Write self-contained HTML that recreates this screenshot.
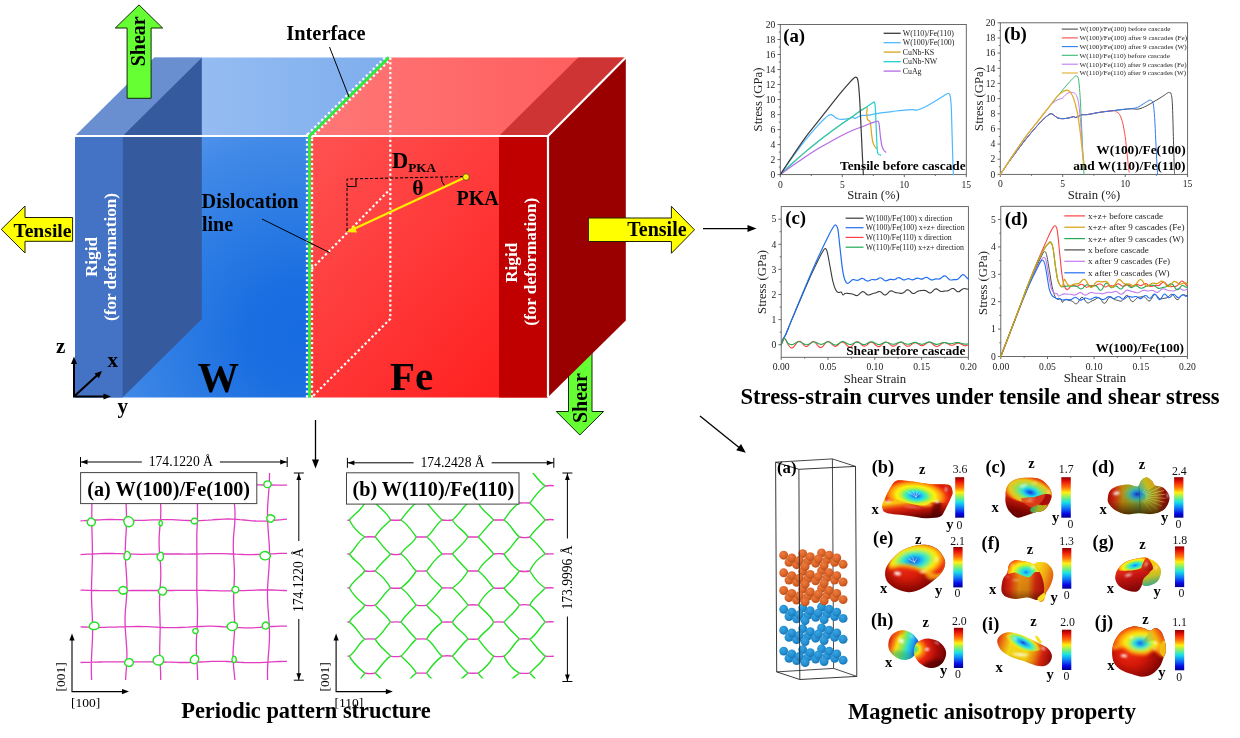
<!DOCTYPE html>
<html><head><meta charset="utf-8"><title>Graphical abstract</title>
<style>
html,body{margin:0;padding:0;background:#fff;}
body{width:1240px;height:738px;overflow:hidden;font-family:"Liberation Serif","Times New Roman",serif;}
svg{display:block;font-family:"Liberation Serif","Times New Roman",serif;}
</style></head><body>
<svg width="1240" height="738" viewBox="0 0 1240 738">
<defs>
<linearGradient id="gTopW" x1="0" y1="0" x2="1" y2="0"><stop offset="0" stop-color="#a4c6f5"/><stop offset="1" stop-color="#7eaeed"/></linearGradient>
<linearGradient id="gTopFe" x1="0" y1="0" x2="1" y2="0"><stop offset="0" stop-color="#ff7777"/><stop offset="1" stop-color="#ff5a5a"/></linearGradient>
<radialGradient id="gFrontW" gradientUnits="userSpaceOnUse" cx="300" cy="335" r="255"><stop offset="0" stop-color="#176be0"/><stop offset="0.22" stop-color="#1c6fe1"/><stop offset="0.5" stop-color="#2e7de4"/><stop offset="0.75" stop-color="#4189e7"/><stop offset="1" stop-color="#5c9bec"/></radialGradient>
<linearGradient id="gFrontFe" x1="0" y1="0" x2="1" y2="1"><stop offset="0" stop-color="#ff5252"/><stop offset="1" stop-color="#ff1a1a"/></linearGradient>


<clipPath id="clipA"><rect x="80.5" y="473" width="206.5" height="207"/></clipPath>
<clipPath id="clipB"><rect x="347.4" y="473" width="206.4" height="205.5"/></clipPath>



<filter id="blurT" x="-20%" y="-20%" width="140%" height="140%"><feGaussianBlur stdDeviation="0.7"/></filter>
<filter id="blurM" x="-20%" y="-20%" width="140%" height="140%"><feGaussianBlur stdDeviation="1.4"/></filter>
<filter id="blurS" x="-50%" y="-50%" width="200%" height="200%"><feGaussianBlur stdDeviation="0.9"/></filter>
<linearGradient id="cbar" x1="0" y1="0" x2="0" y2="1"><stop offset="0" stop-color="#8a0000"/><stop offset="0.1" stop-color="#e81008"/><stop offset="0.25" stop-color="#ff7008"/><stop offset="0.38" stop-color="#fff010"/><stop offset="0.5" stop-color="#80f070"/><stop offset="0.62" stop-color="#18e0e8"/><stop offset="0.75" stop-color="#1080f8"/><stop offset="0.9" stop-color="#0808e8"/><stop offset="1" stop-color="#00008a"/></linearGradient>
<radialGradient id="ato" cx="0.38" cy="0.32" r="0.75"><stop offset="0" stop-color="#ec7c40"/><stop offset="0.55" stop-color="#dc6428"/><stop offset="1" stop-color="#b04c18"/></radialGradient>
<radialGradient id="atb" cx="0.38" cy="0.32" r="0.75"><stop offset="0" stop-color="#3aa4e2"/><stop offset="0.55" stop-color="#2490d2"/><stop offset="1" stop-color="#186eae"/></radialGradient>
<linearGradient id="gb1" gradientUnits="userSpaceOnUse" x1="908.36" y1="501.61" x2="910.53" y2="518.96"><stop offset="0" stop-color="#f8c010"/><stop offset="0.15" stop-color="#f07010"/><stop offset="0.32" stop-color="#e02c10"/><stop offset="0.62" stop-color="#b01008"/><stop offset="1" stop-color="#5a0300"/></linearGradient>
<clipPath id="clipgb2"><path d="M882.89,502.70 C884.24,499.26 888.22,491.19 890.47,487.52 C892.73,483.85 893.46,481.78 896.44,480.69 C899.42,479.61 902.76,480.46 908.36,481.02 C913.96,481.58 923.36,483.42 930.04,484.05 C936.73,484.68 944.71,483.51 948.47,484.81 C952.23,486.11 952.23,489.60 952.59,491.86 C952.95,494.11 951.96,495.20 950.64,498.36 C949.32,501.52 946.48,507.76 944.67,510.83 C942.87,513.90 942.96,515.56 939.80,516.79 C936.64,518.02 930.94,518.38 925.70,518.20 C920.47,518.02 914.86,516.57 908.36,515.70 C901.86,514.84 891.02,514.26 886.68,512.99 C882.34,511.73 882.98,509.83 882.34,508.12 C881.71,506.40 881.53,506.13 882.89,502.70Z"/></clipPath>
<radialGradient id="gb3" gradientUnits="userSpaceOnUse" cx="915.95" cy="495.65" r="34.69" gradientTransform="translate(915.95,495.65) rotate(5) scale(1,0.494) translate(-915.95,-495.65)"><stop offset="0" stop-color="#1428c8"/><stop offset="0.07" stop-color="#1478f0"/><stop offset="0.2" stop-color="#20d0f0"/><stop offset="0.32" stop-color="#50f0a0"/><stop offset="0.44" stop-color="#c8f030"/><stop offset="0.56" stop-color="#fff010"/><stop offset="0.74" stop-color="#ff9a10"/><stop offset="0.9" stop-color="#f03010"/><stop offset="1" stop-color="#d81c0c"/></radialGradient>
<clipPath id="clipgc"><path d="M1005.47,496.19 C1005.69,493.30 1005.56,489.18 1007.10,486.44 C1008.64,483.69 1011.26,481.16 1014.69,479.72 C1018.12,478.27 1023.36,477.82 1027.70,477.76 C1032.03,477.71 1037.09,477.76 1040.70,479.39 C1044.32,481.02 1047.53,484.90 1049.38,487.52 C1051.22,490.14 1051.76,492.58 1051.76,495.11 C1051.76,497.64 1050.68,500.17 1049.38,502.70 C1048.08,505.23 1046.49,508.62 1043.96,510.28 C1041.43,511.95 1037.27,511.77 1034.20,512.67 C1031.13,513.57 1028.42,514.89 1025.53,515.70 C1022.64,516.52 1019.57,518.27 1016.86,517.55 C1014.15,516.82 1011.11,513.66 1009.27,511.37 C1007.43,509.07 1006.43,506.31 1005.80,503.78 C1005.17,501.25 1005.26,499.08 1005.47,496.19Z"/></clipPath>
<linearGradient id="gc1" gradientUnits="userSpaceOnUse" x1="1025.53" y1="490.77" x2="1019.02" y2="517.87"><stop offset="0" stop-color="#f08010"/><stop offset="0.2" stop-color="#e03c10"/><stop offset="0.45" stop-color="#b81408"/><stop offset="0.75" stop-color="#780400"/><stop offset="1" stop-color="#600000"/></linearGradient>
<linearGradient id="gc2" gradientUnits="userSpaceOnUse" x1="1030.95" y1="505.95" x2="1047.21" y2="511.37"><stop offset="0" stop-color="#30a060"/><stop offset="0.5" stop-color="#a8b020"/><stop offset="1" stop-color="#c8a018"/></linearGradient>
<radialGradient id="gc3" gradientUnits="userSpaceOnUse" cx="1029.65" cy="491.42" r="26.56" fx="1030.95" fy="492.40" gradientTransform="translate(1029.65,491.42) rotate(8) scale(1,0.522) translate(-1029.65,-491.42)"><stop offset="0" stop-color="#1428c8"/><stop offset="0.12" stop-color="#1478f0"/><stop offset="0.26" stop-color="#20d0f0"/><stop offset="0.42" stop-color="#60e890"/><stop offset="0.6" stop-color="#b8d838"/><stop offset="0.78" stop-color="#e8c820"/><stop offset="0.92" stop-color="#f08010"/><stop offset="1" stop-color="#e84010"/></radialGradient>
<linearGradient id="gd1" gradientUnits="userSpaceOnUse" x1="1107.76" y1="496.19" x2="1169.55" y2="498.36"><stop offset="0" stop-color="#a80c08"/><stop offset="0.1" stop-color="#d02810"/><stop offset="0.24" stop-color="#c08c10"/><stop offset="0.38" stop-color="#98a020"/><stop offset="0.5" stop-color="#70a040"/><stop offset="0.62" stop-color="#a0a820"/><stop offset="0.78" stop-color="#a88818"/><stop offset="0.9" stop-color="#9c1008"/><stop offset="1" stop-color="#700404"/></linearGradient>
<clipPath id="clipgd2"><path d="M1107.76,498.36 C1107.94,496.19 1108.31,492.81 1109.93,490.77 C1111.56,488.73 1114.45,487.16 1117.52,486.11 C1120.59,485.06 1125.02,484.43 1128.36,484.49 C1131.70,484.54 1135.41,487.16 1137.57,486.44 C1139.74,485.71 1139.83,481.68 1141.37,480.15 C1142.90,478.61 1144.98,477.08 1146.79,477.22 C1148.60,477.37 1150.85,479.70 1152.21,481.02 C1153.56,482.34 1153.11,484.05 1154.92,485.14 C1156.73,486.22 1160.70,485.86 1163.05,487.52 C1165.40,489.18 1168.11,492.58 1169.01,495.11 C1169.91,497.64 1169.46,500.17 1168.47,502.70 C1167.48,505.23 1165.76,508.39 1163.05,510.28 C1160.34,512.18 1156.18,513.57 1152.21,514.08 C1148.23,514.58 1143.54,513.28 1139.20,513.32 C1134.86,513.36 1130.17,514.80 1126.19,514.30 C1122.22,513.79 1118.24,512.04 1115.35,510.28 C1112.46,508.53 1110.11,505.77 1108.85,503.78 C1107.58,501.79 1107.58,500.53 1107.76,498.36Z"/></clipPath>
<radialGradient id="gd3" gradientUnits="userSpaceOnUse" cx="1137.03" cy="494.24" r="16.26" gradientTransform="translate(1137.03,494.24) rotate(0) scale(1,0.700) translate(-1137.03,-494.24)"><stop offset="0" stop-color="#1030d0"/><stop offset="0.25" stop-color="#2088e0" stop-opacity="0.95"/><stop offset="0.5" stop-color="#30c0c0" stop-opacity="0.75"/><stop offset="0.75" stop-color="#70c070" stop-opacity="0.4"/><stop offset="1" stop-color="#90b040" stop-opacity="0"/></radialGradient>
<linearGradient id="gd4" gradientUnits="userSpaceOnUse" x1="1139.20" y1="487.52" x2="1152.21" y2="479.93"><stop offset="0" stop-color="#50b0a0"/><stop offset="0.5" stop-color="#c8c020"/><stop offset="1" stop-color="#e0a018"/></linearGradient>
<linearGradient id="gd5" gradientUnits="userSpaceOnUse" x1="1128.36" y1="490.77" x2="1128.36" y2="514.62"><stop offset="0" stop-color="#402000" stop-opacity="0"/><stop offset="0.45" stop-color="#402000" stop-opacity="0.12"/><stop offset="1" stop-color="#301000" stop-opacity="0.8"/></linearGradient>
<radialGradient id="ge1" gradientUnits="userSpaceOnUse" cx="908.36" cy="568.11" r="36.86" fx="904.02" fy="563.77" gradientTransform="translate(908.36,568.11) rotate(0) scale(1,0.794) translate(-908.36,-568.11)"><stop offset="0" stop-color="#f03018"/><stop offset="0.4" stop-color="#d81c0a"/><stop offset="0.75" stop-color="#900802"/><stop offset="1" stop-color="#5a0000"/></radialGradient>
<clipPath id="clipge2"><path d="M885.05,573.53 C885.14,570.46 885.69,567.48 888.31,563.77 C890.93,560.07 896.53,554.29 900.77,551.31 C905.02,548.33 909.63,546.97 913.78,545.89 C917.94,544.80 921.91,544.35 925.70,544.80 C929.50,545.25 933.56,546.52 936.54,548.60 C939.53,550.67 942.18,554.56 943.59,557.27 C945.00,559.98 945.45,562.15 945.00,564.86 C944.55,567.57 943.37,570.46 940.88,573.53 C938.39,576.60 933.65,580.57 930.04,583.28 C926.43,585.99 922.81,588.31 919.20,589.79 C915.59,591.27 912.15,592.35 908.36,592.17 C904.57,591.99 899.87,590.37 896.44,588.70 C893.00,587.04 889.66,584.73 887.76,582.20 C885.87,579.67 884.96,576.60 885.05,573.53Z"/></clipPath>
<radialGradient id="ge3" gradientUnits="userSpaceOnUse" cx="914.32" cy="560.52" r="33.60" gradientTransform="translate(914.32,560.52) rotate(-8) scale(1,0.555) translate(-914.32,-560.52)"><stop offset="0" stop-color="#1428c8"/><stop offset="0.12" stop-color="#1478f0"/><stop offset="0.28" stop-color="#20d0f0"/><stop offset="0.42" stop-color="#50f0a0"/><stop offset="0.55" stop-color="#c8f030"/><stop offset="0.66" stop-color="#fff010"/><stop offset="0.8" stop-color="#ff9a10"/><stop offset="0.93" stop-color="#f03010"/><stop offset="1" stop-color="#e02010"/></radialGradient>
<linearGradient id="gf1" gradientUnits="userSpaceOnUse" x1="1036.37" y1="571.36" x2="1053.71" y2="576.78"><stop offset="0" stop-color="#f8d818"/><stop offset="0.5" stop-color="#f0a810"/><stop offset="1" stop-color="#e05810"/></linearGradient>
<linearGradient id="gf2" gradientUnits="userSpaceOnUse" x1="1001.68" y1="582.20" x2="1043.96" y2="584.37"><stop offset="0" stop-color="#a80a06"/><stop offset="0.18" stop-color="#dc2810"/><stop offset="0.42" stop-color="#e89010"/><stop offset="0.62" stop-color="#e08810"/><stop offset="0.8" stop-color="#d02810"/><stop offset="1" stop-color="#b01008"/></linearGradient>
<clipPath id="clipgf3"><path d="M1001.46,587.08 C1001.63,584.82 1002.01,581.39 1002.98,578.95 C1003.96,576.51 1006.31,574.79 1007.32,572.44 C1008.33,570.10 1007.82,566.88 1009.05,564.86 C1010.28,562.83 1011.94,560.85 1014.69,560.30 C1017.43,559.76 1022.28,560.85 1025.53,561.60 C1028.78,562.36 1031.94,563.23 1034.20,564.86 C1036.46,566.48 1037.67,569.01 1039.08,571.36 C1040.49,573.71 1041.81,576.06 1042.66,578.95 C1043.50,581.84 1044.28,585.63 1044.17,588.70 C1044.07,591.78 1043.31,595.50 1042.01,597.38 C1040.70,599.26 1038.75,599.94 1036.37,599.98 C1033.98,600.01 1031.13,597.76 1027.70,597.59 C1024.26,597.43 1019.39,599.13 1015.77,599.00 C1012.16,598.88 1008.31,597.92 1006.02,596.83 C1003.72,595.75 1002.76,594.12 1002.01,592.50 C1001.25,590.87 1001.30,589.34 1001.46,587.08Z"/></clipPath>
<linearGradient id="gf4" gradientUnits="userSpaceOnUse" x1="1023.36" y1="574.61" x2="1023.36" y2="599.54"><stop offset="0" stop-color="#401000" stop-opacity="0"/><stop offset="0.6" stop-color="#401000" stop-opacity="0.1"/><stop offset="1" stop-color="#300800" stop-opacity="0.55"/></linearGradient>
<radialGradient id="gf5" gradientUnits="userSpaceOnUse" cx="1026.07" cy="572.23" r="20.05" gradientTransform="translate(1026.07,572.23) rotate(0) scale(1,0.676) translate(-1026.07,-572.23)"><stop offset="0" stop-color="#1478f0"/><stop offset="0.15" stop-color="#20d0f0"/><stop offset="0.35" stop-color="#50f0a0"/><stop offset="0.52" stop-color="#c8f030"/><stop offset="0.68" stop-color="#fff010"/><stop offset="0.85" stop-color="#ffa010"/><stop offset="1" stop-color="#f06010"/></radialGradient>
<linearGradient id="gg1" gradientUnits="userSpaceOnUse" x1="1145.70" y1="560.52" x2="1152.21" y2="585.45"><stop offset="0" stop-color="#f8d810"/><stop offset="0.4" stop-color="#f0c010"/><stop offset="0.65" stop-color="#c0c028"/><stop offset="0.85" stop-color="#70b060"/><stop offset="1" stop-color="#40a890"/></linearGradient>
<linearGradient id="gg2" gradientUnits="userSpaceOnUse" x1="1126.19" y1="567.02" x2="1131.61" y2="591.96"><stop offset="0" stop-color="#e8341a"/><stop offset="0.4" stop-color="#c41410"/><stop offset="1" stop-color="#7a0505"/></linearGradient>
<clipPath id="clipgg3"><path d="M1115.35,575.70 C1115.71,573.62 1116.44,570.91 1118.06,568.65 C1119.69,566.39 1122.13,563.81 1125.11,562.15 C1128.09,560.48 1132.52,559.40 1135.95,558.68 C1139.38,557.95 1143.36,557.32 1145.70,557.81 C1148.05,558.30 1148.96,559.89 1150.04,561.60 C1151.12,563.32 1152.39,566.12 1152.21,568.11 C1152.03,570.10 1150.40,571.72 1148.96,573.53 C1147.51,575.34 1144.80,576.78 1143.54,578.95 C1142.27,581.12 1142.45,584.46 1141.37,586.54 C1140.28,588.61 1139.20,590.69 1137.03,591.41 C1134.86,592.14 1131.25,591.69 1128.36,590.87 C1125.47,590.06 1121.77,588.16 1119.69,586.54 C1117.61,584.91 1116.62,582.92 1115.89,581.12 C1115.17,579.31 1114.99,577.77 1115.35,575.70Z"/></clipPath>
<radialGradient id="gg4" gradientUnits="userSpaceOnUse" cx="1135.08" cy="565.40" r="18.43" gradientTransform="translate(1135.08,565.40) rotate(-12) scale(1,0.424) translate(-1135.08,-565.40)"><stop offset="0" stop-color="#1478f0"/><stop offset="0.18" stop-color="#20d0f0"/><stop offset="0.38" stop-color="#50f0a0"/><stop offset="0.55" stop-color="#c8f030"/><stop offset="0.7" stop-color="#fff010"/><stop offset="0.86" stop-color="#ffa010"/><stop offset="1" stop-color="#f04010"/></radialGradient>
<linearGradient id="gg5" gradientUnits="userSpaceOnUse" x1="1143.54" y1="560.52" x2="1152.21" y2="569.19"><stop offset="0" stop-color="#f04018"/><stop offset="1" stop-color="#a00c08"/></linearGradient>
<linearGradient id="gh1" gradientUnits="userSpaceOnUse" x1="889.39" y1="639.44" x2="918.12" y2="648.11"><stop offset="0" stop-color="#e01c0c"/><stop offset="0.12" stop-color="#f06010"/><stop offset="0.3" stop-color="#f8e018"/><stop offset="0.48" stop-color="#90e850"/><stop offset="0.64" stop-color="#30e0d0"/><stop offset="0.8" stop-color="#20a0f0"/><stop offset="0.97" stop-color="#1838d0"/></linearGradient>
<clipPath id="clipgh2"><path d="M888.31,644.86 C888.40,642.42 888.94,638.98 890.47,636.73 C892.01,634.47 895.08,632.34 897.52,631.31 C899.96,630.28 902.58,630.10 905.11,630.55 C907.64,631.00 910.53,632.35 912.70,634.02 C914.86,635.68 917.03,638.53 918.12,640.52 C919.20,642.51 919.56,643.77 919.20,645.94 C918.84,648.11 917.39,651.45 915.95,653.53 C914.50,655.61 912.70,657.36 910.53,658.41 C908.36,659.45 905.47,660.09 902.94,659.82 C900.41,659.54 897.52,658.19 895.35,656.78 C893.18,655.37 891.11,653.35 889.93,651.36 C888.76,649.37 888.22,647.30 888.31,644.86Z"/></clipPath>
<radialGradient id="gh3" gradientUnits="userSpaceOnUse" cx="913.78" cy="649.19" r="35.77" gradientTransform="translate(913.78,649.19) rotate(0) scale(1,0.909) translate(-913.78,-649.19)"><stop offset="0" stop-color="#30d8d0"/><stop offset="0.08" stop-color="#70e060"/><stop offset="0.17" stop-color="#f0e818"/><stop offset="0.27" stop-color="#f88010"/><stop offset="0.4" stop-color="#e82410"/><stop offset="0.62" stop-color="#b00c08"/><stop offset="1" stop-color="#5a0000"/></radialGradient>
<clipPath id="clipgh4"><path d="M913.78,651.36 C913.78,648.92 914.50,645.76 915.95,643.77 C917.39,641.79 920.10,640.29 922.45,639.44 C924.80,638.59 927.33,638.32 930.04,638.68 C932.75,639.04 936.27,640.03 938.71,641.60 C941.15,643.18 943.45,645.94 944.67,648.11 C945.90,650.28 946.36,652.26 946.08,654.61 C945.81,656.96 944.64,660.12 943.05,662.20 C941.46,664.28 938.89,666.14 936.54,667.08 C934.20,668.02 931.49,668.29 928.96,667.84 C926.43,667.39 923.54,665.94 921.37,664.37 C919.20,662.80 917.21,660.57 915.95,658.41 C914.68,656.24 913.78,653.80 913.78,651.36Z"/></clipPath>
<linearGradient id="gi1" gradientUnits="userSpaceOnUse" x1="997.22" y1="640.52" x2="1051.96" y2="658.95"><stop offset="0" stop-color="#e43410"/><stop offset="0.1" stop-color="#f08010"/><stop offset="0.24" stop-color="#f8e018"/><stop offset="0.55" stop-color="#f8dc10"/><stop offset="0.68" stop-color="#f09010"/><stop offset="0.82" stop-color="#d82010"/><stop offset="1" stop-color="#8a0606"/></linearGradient>
<clipPath id="clipgi2"><path d="M997.22,641.60 C997.04,639.17 998.22,637.20 999.93,635.64 C1001.65,634.09 1004.45,632.55 1007.52,632.28 C1010.59,632.01 1014.39,632.82 1018.36,634.02 C1022.34,635.21 1027.57,637.72 1031.37,639.44 C1035.16,641.15 1038.23,642.69 1041.12,644.31 C1044.02,645.94 1046.91,647.30 1048.71,649.19 C1050.52,651.09 1051.78,653.53 1051.96,655.70 C1052.15,657.86 1051.06,660.48 1049.80,662.20 C1048.53,663.92 1046.73,665.45 1044.38,665.99 C1042.03,666.54 1039.14,666.27 1035.70,665.45 C1032.27,664.64 1027.94,662.56 1023.78,661.12 C1019.63,659.67 1014.57,658.59 1010.77,656.78 C1006.98,654.97 1003.27,652.81 1001.02,650.28 C998.76,647.75 997.40,644.04 997.22,641.60Z"/></clipPath>
<linearGradient id="gi3" gradientUnits="userSpaceOnUse" x1="1027.03" y1="643.77" x2="1020.53" y2="664.37"><stop offset="0" stop-color="#401000" stop-opacity="0"/><stop offset="0.7" stop-color="#a05000" stop-opacity="0.1"/><stop offset="1" stop-color="#803000" stop-opacity="0.45"/></linearGradient>
<radialGradient id="gi4" gradientUnits="userSpaceOnUse" cx="1023.24" cy="642.91" r="20.05" gradientTransform="translate(1023.24,642.91) rotate(14) scale(1,0.378) translate(-1023.24,-642.91)"><stop offset="0" stop-color="#1838d0"/><stop offset="0.2" stop-color="#20a0f0"/><stop offset="0.45" stop-color="#30e8e0"/><stop offset="0.68" stop-color="#a0f060" stop-opacity="0.9"/><stop offset="0.85" stop-color="#f0f020" stop-opacity="0.6"/><stop offset="1" stop-color="#f8e018" stop-opacity="0"/></radialGradient>
<radialGradient id="gj1" gradientUnits="userSpaceOnUse" cx="1133.78" cy="654.61" r="35.77" fx="1128.36" fy="651.36" gradientTransform="translate(1133.78,654.61) rotate(0) scale(1,0.879) translate(-1133.78,-654.61)"><stop offset="0" stop-color="#f02c14"/><stop offset="0.4" stop-color="#d41808"/><stop offset="0.75" stop-color="#900804"/><stop offset="1" stop-color="#5a0000"/></radialGradient>
<clipPath id="clipgj2"><path d="M1112.10,651.36 C1112.28,647.75 1113.18,643.86 1114.81,640.52 C1116.44,637.18 1118.88,633.65 1121.86,631.31 C1124.84,628.96 1129.08,626.97 1132.70,626.43 C1136.31,625.89 1140.65,627.33 1143.54,628.05 C1146.43,628.78 1148.05,630.76 1150.04,630.76 C1152.03,630.76 1153.65,627.96 1155.46,628.05 C1157.27,628.14 1159.35,629.23 1160.88,631.31 C1162.42,633.38 1163.86,637.18 1164.67,640.52 C1165.49,643.86 1166.03,648.29 1165.76,651.36 C1165.49,654.43 1164.04,656.42 1163.05,658.95 C1162.06,661.48 1161.60,664.01 1159.80,666.54 C1157.99,669.07 1155.10,672.41 1152.21,674.12 C1149.32,675.84 1145.89,676.83 1142.45,676.83 C1139.02,676.83 1135.23,675.30 1131.61,674.12 C1128.00,672.95 1123.75,671.78 1120.77,669.79 C1117.79,667.80 1115.17,665.27 1113.73,662.20 C1112.28,659.13 1111.92,654.97 1112.10,651.36Z"/></clipPath>
<radialGradient id="gj3" gradientUnits="userSpaceOnUse" cx="1140.28" cy="643.23" r="29.81" gradientTransform="translate(1140.28,643.23) rotate(0) scale(1,0.636) translate(-1140.28,-643.23)"><stop offset="0" stop-color="#1428c8"/><stop offset="0.08" stop-color="#1478f0"/><stop offset="0.18" stop-color="#20d0f0"/><stop offset="0.28" stop-color="#50f0a0"/><stop offset="0.38" stop-color="#c8f030"/><stop offset="0.5" stop-color="#fff010"/><stop offset="0.7" stop-color="#ffa010"/><stop offset="0.9" stop-color="#f03810"/><stop offset="1" stop-color="#e02010"/></radialGradient>
<linearGradient id="gj4" gradientUnits="userSpaceOnUse" x1="1143.54" y1="642.69" x2="1163.05" y2="632.93"><stop offset="0" stop-color="#40b0a0"/><stop offset="0.3" stop-color="#b0d040"/><stop offset="0.6" stop-color="#f8b010"/><stop offset="1" stop-color="#e83010"/></linearGradient></defs>
<rect width="1240" height="738" fill="#fff"/>
<polygon points="568.5,345 592,345 592,411.5 603.5,411.5 579.8,435 556.3,411.5 568.5,411.5" fill="#66ff33" stroke="#102a06" stroke-width="1"/>
<text transform="translate(586.5,398) rotate(-90)" font-size="20" font-weight="bold" text-anchor="middle">Shear</text>
<polygon points="75.0,136.0 154.3,57.4 388.8,57.4 309.5,136.0" fill="url(#gTopW)"/>
<polygon points="309.5,136.0 388.8,57.4 625.8,57.4 548.0,136.0" fill="url(#gTopFe)"/>
<rect x="75" y="136" width="234.5" height="261.5" fill="url(#gFrontW)"/>
<rect x="309.5" y="136" width="238.5" height="261.5" fill="url(#gFrontFe)"/>
<polygon points="548.0,136.0 625.8,57.4 625.8,320.6 548.6,396.5" fill="#9a0000"/>
<rect x="75" y="136" width="47.5" height="261.5" fill="#4472c4"/>
<polygon points="75.0,136.0 154.3,57.4 201.8,57.4 122.5,136.0" fill="#698fd1"/>
<polygon points="122.5,136.0 201.8,57.4 201.8,318.9 122.5,397.5" fill="#365a9e"/>
<rect x="499" y="136" width="49" height="261.5" fill="#c00000"/>
<polygon points="499.0,136.0 578.3,57.4 625.8,57.4 548.0,136.0" fill="#cf3434"/>
<path d="M75,136 L548,136 L548,397.5 M548,136 L625.8,57.4" fill="none" stroke="#fff" stroke-width="2.2"/>
<path d="M309.5,397.5 L309.5,136 L388.8,57.400000000000006" fill="none" stroke="#fff" stroke-width="7.3" stroke-dasharray="2.2 2.64"/>
<path d="M309.5,397.5 L309.5,136 L388.8,57.400000000000006" fill="none" stroke="#2eea3e" stroke-width="2.9"/>
<path d="M390.3,57.400000000000006 L390.3,318.9 L312.5,396.5" fill="none" stroke="#fff" stroke-width="2.2" stroke-dasharray="2.3 2.54"/>
<path d="M311.5,269 L390.3,189" fill="none" stroke="#fff" stroke-width="2.2" stroke-dasharray="2.3 2.54"/>
<path d="M347,231 L347,179 L466,176.5" fill="none" stroke="#000" stroke-width="1" stroke-dasharray="3.2 1.8"/>
<path d="M347,186.5 L356,186.3 L356,178.8" fill="none" stroke="#000" stroke-width="1.1"/>
<path d="M441.5,177 Q441,182 444.5,185.5" fill="none" stroke="#000" stroke-width="1"/>
<line x1="466" y1="177" x2="352" y2="229.8" stroke="#ffee00" stroke-width="2.2"/>
<polygon points="346.5,232.3 354.5,225.2 357,232.6" fill="#ffee00"/>
<circle cx="466" cy="177" r="3.3" fill="#ffee00" stroke="#333" stroke-width="0.7"/>
<text x="392" y="167.5" font-size="22.5" font-weight="bold">D<tspan font-size="13.2" dy="4.5">PKA</tspan></text>
<text x="412.3" y="194.6" font-size="21.6" font-weight="bold">θ</text>
<text x="456.5" y="205" font-size="20" font-weight="bold">PKA</text>
<text x="201.6" y="207.6" font-size="20.3" font-weight="bold">Dislocation</text>
<text x="202" y="231" font-size="20" font-weight="bold">line</text>
<line x1="262" y1="219" x2="329.5" y2="252.5" stroke="#000" stroke-width="1"/>
<text x="286.3" y="39.6" font-size="20.4" font-weight="bold">Interface</text>
<line x1="329.5" y1="47" x2="349" y2="97" stroke="#000" stroke-width="1"/>
<text x="197.6" y="392.4" font-size="41.5" font-weight="bold">W</text>
<text x="390" y="390.4" font-size="41" font-weight="bold">Fe</text>
<text transform="translate(97,257) rotate(-90)" font-size="17.2" font-weight="bold" fill="#fff" text-anchor="middle">Rigid</text>
<text transform="translate(115.5,257) rotate(-90)" font-size="17.2" font-weight="bold" fill="#fff" text-anchor="middle">(for deformation)</text>
<text transform="translate(516.5,262.8) rotate(-90)" font-size="17.2" font-weight="bold" fill="#fff" text-anchor="middle">Rigid</text>
<text transform="translate(535.6,261.8) rotate(-90)" font-size="17.2" font-weight="bold" fill="#fff" text-anchor="middle">(for deformation)</text>
<polygon points="127.1,98.3 151.1,98.3 151.1,28 162.6,28 139,4.9 115.3,28 127.1,28" fill="#66ff33" stroke="#102a06" stroke-width="1"/>
<text transform="translate(145.4,41.3) rotate(-90)" font-size="20" font-weight="bold" text-anchor="middle">Shear</text>
<polygon points="72.6,217.5 25,217.5 25,206 1.3,229.4 25,253 25,241.3 72.6,241.3" fill="#ffff00" stroke="#222200" stroke-width="1"/>
<text x="13.4" y="237.2" font-size="19.6" font-weight="bold">Tensile</text>
<polygon points="588.4,218 671.4,218 671.4,206.3 694.5,229.8 671.4,253.3 671.4,241.5 588.4,241.5" fill="#ffff00" stroke="#222200" stroke-width="1"/>
<text x="627.3" y="235.9" font-size="20" font-weight="bold">Tensile</text>
<path d="M74,362 L74,396.5 L107,396.5" fill="none" stroke="#000" stroke-width="2"/>
<polygon points="74,356.5 71,364 77,364" fill="#000"/>
<polygon points="111,396.5 103.5,393.5 103.5,399.5" fill="#000"/>
<line x1="74" y1="396.5" x2="98" y2="374.5" stroke="#000" stroke-width="2"/>
<polygon points="102,371 94.5,373.5 98.8,378.2" fill="#000"/>
<text x="56" y="353" font-size="21" font-weight="bold">z</text>
<text x="107.5" y="367" font-size="21" font-weight="bold">x</text>
<text x="117.5" y="413" font-size="21" font-weight="bold">y</text>
<line x1="703" y1="228.6" x2="750" y2="228.6" stroke="#000" stroke-width="1.3"/>
<polygon points="756.5,228.6 747.5,225.1 747.5,232.1" fill="#000"/>
<line x1="315.5" y1="420" x2="315.5" y2="461" stroke="#000" stroke-width="1.3"/>
<polygon points="315.5,468.5 312,459.5 319,459.5" fill="#000"/>
<line x1="700" y1="416" x2="740" y2="448.2" stroke="#000" stroke-width="1.3"/>
<polygon points="745.8,452.8 736.2,450.2 741,444" fill="#000"/>
<g clip-path="url(#clipA)">
<path d="M92.0,472.0 L92.1,476.0 L92.1,480.0 L92.1,484.0 L92.0,488.0 L92.0,492.0 L92.0,496.0 L91.9,500.0 L91.9,504.0 L91.8,508.0 L91.8,512.0 L91.8,516.0 L91.8,520.0 L91.8,524.0 L91.9,528.0 L92.0,532.0 L92.1,536.0 L92.2,540.0 L92.3,544.0 L92.3,548.0 L92.4,552.0 L92.4,556.0 L92.3,560.0 L92.2,564.0 L92.1,568.0 L92.0,572.0 L91.8,576.0 L91.7,580.0 L91.6,584.0 L91.5,588.0 L91.5,592.0 L91.5,596.0 L91.6,600.0 L91.7,604.0 L91.9,608.0 L92.1,612.0 L92.3,616.0 L92.4,620.0 L92.6,624.0 L92.6,628.0 L92.6,632.0 L92.5,636.0 L92.4,640.0 L92.2,644.0 L92.0,648.0 L91.8,652.0 L91.6,656.0 L91.4,660.0 L91.3,664.0 L91.3,668.0 L91.3,672.0 L91.5,676.0 L91.6,680.0 M126.1,472.0 L126.0,476.0 L125.9,480.0 L125.8,484.0 L125.8,488.0 L125.8,492.0 L125.9,496.0 L126.0,500.0 L126.1,504.0 L126.3,508.0 L126.4,512.0 L126.5,516.0 L126.5,520.0 L126.4,524.0 L126.3,528.0 L126.1,532.0 L125.9,536.0 L125.6,540.0 L125.5,544.0 L125.3,548.0 L125.3,552.0 L125.3,556.0 L125.5,560.0 L125.7,564.0 L126.0,568.0 L126.3,572.0 L126.5,576.0 L126.8,580.0 L126.9,584.0 L126.9,588.0 L126.8,592.0 L126.6,596.0 L126.3,600.0 L126.0,604.0 L125.6,608.0 L125.3,612.0 L125.1,616.0 L125.0,620.0 L125.1,624.0 L125.2,628.0 L125.5,632.0 L125.8,636.0 L126.1,640.0 L126.4,644.0 L126.7,648.0 L126.9,652.0 L126.9,656.0 L126.8,660.0 L126.7,664.0 L126.4,668.0 L126.1,672.0 L125.8,676.0 L125.6,680.0 M159.8,472.0 L159.6,476.0 L159.6,480.0 L159.6,484.0 L159.7,488.0 L159.9,492.0 L160.1,496.0 L160.4,500.0 L160.6,504.0 L160.8,508.0 L160.8,512.0 L160.7,516.0 L160.5,520.0 L160.2,524.0 L159.8,528.0 L159.5,532.0 L159.2,536.0 L159.1,540.0 L159.1,544.0 L159.2,548.0 L159.5,552.0 L159.8,556.0 L160.1,560.0 L160.5,564.0 L160.7,568.0 L160.8,572.0 L160.8,576.0 L160.7,580.0 L160.4,584.0 L160.1,588.0 L159.9,592.0 L159.7,596.0 L159.6,600.0 L159.5,604.0 L159.6,608.0 L159.7,612.0 L159.9,616.0 L160.0,620.0 L160.1,624.0 L160.2,628.0 L160.1,632.0 L160.0,636.0 L159.9,640.0 L159.8,644.0 L159.7,648.0 L159.7,652.0 L159.8,656.0 L159.9,660.0 L160.1,664.0 L160.4,668.0 L160.6,672.0 L160.7,676.0 L160.7,680.0 M196.4,472.0 L196.3,476.0 L196.3,480.0 L196.4,484.0 L196.6,488.0 L196.8,492.0 L197.0,496.0 L197.3,500.0 L197.4,504.0 L197.5,508.0 L197.5,512.0 L197.5,516.0 L197.4,520.0 L197.2,524.0 L197.1,528.0 L196.9,532.0 L196.8,536.0 L196.8,540.0 L196.8,544.0 L196.8,548.0 L196.9,552.0 L196.9,556.0 L196.9,560.0 L196.9,564.0 L196.9,568.0 L196.9,572.0 L196.8,576.0 L196.8,580.0 L196.8,584.0 L196.8,588.0 L196.9,592.0 L197.1,596.0 L197.2,600.0 L197.3,604.0 L197.5,608.0 L197.5,612.0 L197.5,616.0 L197.4,620.0 L197.3,624.0 L197.1,628.0 L196.8,632.0 L196.6,636.0 L196.4,640.0 L196.3,644.0 L196.3,648.0 L196.4,652.0 L196.5,656.0 L196.8,660.0 L197.0,664.0 L197.3,668.0 L197.5,672.0 L197.6,676.0 L197.7,680.0 M233.5,472.0 L233.2,476.0 L233.0,480.0 L232.9,484.0 L233.0,488.0 L233.3,492.0 L233.6,496.0 L234.0,500.0 L234.4,504.0 L234.8,508.0 L235.0,512.0 L235.0,516.0 L234.9,520.0 L234.7,524.0 L234.3,528.0 L234.0,532.0 L233.6,536.0 L233.4,540.0 L233.3,544.0 L233.3,548.0 L233.4,552.0 L233.6,556.0 L233.9,560.0 L234.1,564.0 L234.3,568.0 L234.4,572.0 L234.4,576.0 L234.3,580.0 L234.1,584.0 L233.9,588.0 L233.8,592.0 L233.7,596.0 L233.7,600.0 L233.7,604.0 L233.9,608.0 L234.1,612.0 L234.4,616.0 L234.5,620.0 L234.6,624.0 L234.6,628.0 L234.5,632.0 L234.2,636.0 L233.9,640.0 L233.6,644.0 L233.3,648.0 L233.1,652.0 L233.0,656.0 L233.1,660.0 L233.4,664.0 L233.7,668.0 L234.1,672.0 L234.5,676.0 L234.9,680.0 M269.5,472.0 L269.5,476.0 L269.4,480.0 L269.2,484.0 L269.0,488.0 L268.7,492.0 L268.4,496.0 L268.1,500.0 L267.8,504.0 L267.6,508.0 L267.5,512.0 L267.5,516.0 L267.6,520.0 L267.8,524.0 L268.0,528.0 L268.3,532.0 L268.6,536.0 L268.9,540.0 L269.2,544.0 L269.4,548.0 L269.5,552.0 L269.5,556.0 L269.4,560.0 L269.2,564.0 L269.0,568.0 L268.7,572.0 L268.4,576.0 L268.1,580.0 L267.8,584.0 L267.6,588.0 L267.5,592.0 L267.5,596.0 L267.6,600.0 L267.8,604.0 L268.0,608.0 L268.3,612.0 L268.6,616.0 L268.9,620.0 L269.2,624.0 L269.4,628.0 L269.5,632.0 L269.5,636.0 L269.4,640.0 L269.2,644.0 L269.0,648.0 L268.7,652.0 L268.3,656.0 L268.1,660.0 L267.8,664.0 L267.6,668.0 L267.5,672.0 L267.5,676.0 L267.6,680.0 M80.0,485.0 L84.0,485.0 L88.0,484.9 L92.0,484.9 L96.0,484.9 L100.0,484.8 L104.0,484.8 L108.0,484.9 L112.0,484.9 L116.0,484.9 L120.0,485.0 L124.0,485.0 L128.0,485.1 L132.0,485.1 L136.0,485.1 L140.0,485.1 L144.0,485.1 L148.0,485.1 L152.0,485.1 L156.0,485.0 L160.0,485.0 L164.0,485.0 L168.0,484.9 L172.0,484.9 L176.0,484.9 L180.0,484.9 L184.0,484.9 L188.0,484.9 L192.0,485.0 L196.0,485.0 L200.0,485.0 L204.0,485.1 L208.0,485.1 L212.0,485.1 L216.0,485.1 L220.0,485.1 L224.0,485.1 L228.0,485.0 L232.0,485.0 L236.0,485.0 L240.0,484.9 L244.0,484.9 L248.0,484.9 L252.0,484.9 L256.0,484.9 L260.0,484.9 L264.0,485.0 L268.0,485.0 L272.0,485.0 L276.0,485.1 L280.0,485.1 L284.0,485.1 L288.0,485.1 M80.0,520.8 L84.0,520.7 L88.0,520.5 L92.0,520.3 L96.0,520.0 L100.0,519.8 L104.0,519.6 L108.0,519.5 L112.0,519.5 L116.0,519.6 L120.0,519.7 L124.0,519.9 L128.0,520.1 L132.0,520.2 L136.0,520.3 L140.0,520.3 L144.0,520.3 L148.0,520.1 L152.0,519.9 L156.0,519.8 L160.0,519.6 L164.0,519.6 L168.0,519.6 L172.0,519.7 L176.0,519.9 L180.0,520.1 L184.0,520.3 L188.0,520.5 L192.0,520.7 L196.0,520.7 L200.0,520.6 L204.0,520.4 L208.0,520.2 L212.0,519.9 L216.0,519.5 L220.0,519.3 L224.0,519.1 L228.0,519.0 L232.0,519.1 L236.0,519.3 L240.0,519.7 L244.0,520.0 L248.0,520.4 L252.0,520.8 L256.0,521.0 L260.0,521.1 L264.0,521.1 L268.0,520.9 L272.0,520.6 L276.0,520.2 L280.0,519.8 L284.0,519.4 L288.0,519.1 M80.0,554.6 L84.0,554.4 L88.0,554.2 L92.0,554.0 L96.0,553.8 L100.0,553.6 L104.0,553.5 L108.0,553.5 L112.0,553.5 L116.0,553.6 L120.0,553.7 L124.0,553.9 L128.0,554.0 L132.0,554.1 L136.0,554.2 L140.0,554.3 L144.0,554.3 L148.0,554.2 L152.0,554.2 L156.0,554.1 L160.0,554.1 L164.0,554.0 L168.0,554.0 L172.0,554.0 L176.0,554.0 L180.0,554.0 L184.0,554.1 L188.0,554.1 L192.0,554.0 L196.0,554.0 L200.0,553.9 L204.0,553.8 L208.0,553.7 L212.0,553.7 L216.0,553.6 L220.0,553.7 L224.0,553.7 L228.0,553.8 L232.0,554.0 L236.0,554.2 L240.0,554.3 L244.0,554.5 L248.0,554.6 L252.0,554.6 L256.0,554.5 L260.0,554.4 L264.0,554.2 L268.0,554.0 L272.0,553.8 L276.0,553.6 L280.0,553.4 L284.0,553.3 L288.0,553.3 M80.0,590.2 L84.0,590.2 L88.0,590.3 L92.0,590.4 L96.0,590.5 L100.0,590.6 L104.0,590.6 L108.0,590.7 L112.0,590.7 L116.0,590.7 L120.0,590.6 L124.0,590.6 L128.0,590.6 L132.0,590.5 L136.0,590.5 L140.0,590.5 L144.0,590.5 L148.0,590.5 L152.0,590.5 L156.0,590.5 L160.0,590.5 L164.0,590.5 L168.0,590.5 L172.0,590.5 L176.0,590.4 L180.0,590.4 L184.0,590.3 L188.0,590.3 L192.0,590.3 L196.0,590.3 L200.0,590.3 L204.0,590.4 L208.0,590.5 L212.0,590.6 L216.0,590.7 L220.0,590.8 L224.0,590.9 L228.0,590.9 L232.0,590.9 L236.0,590.8 L240.0,590.7 L244.0,590.6 L248.0,590.4 L252.0,590.3 L256.0,590.1 L260.0,590.0 L264.0,589.9 L268.0,590.0 L272.0,590.0 L276.0,590.1 L280.0,590.3 L284.0,590.5 L288.0,590.7 M80.0,626.9 L84.0,627.0 L88.0,627.1 L92.0,627.2 L96.0,627.2 L100.0,627.3 L104.0,627.3 L108.0,627.2 L112.0,627.2 L116.0,627.1 L120.0,626.9 L124.0,626.8 L128.0,626.7 L132.0,626.6 L136.0,626.5 L140.0,626.5 L144.0,626.6 L148.0,626.7 L152.0,626.9 L156.0,627.1 L160.0,627.3 L164.0,627.5 L168.0,627.6 L172.0,627.6 L176.0,627.6 L180.0,627.5 L184.0,627.4 L188.0,627.2 L192.0,626.9 L196.0,626.7 L200.0,626.5 L204.0,626.3 L208.0,626.2 L212.0,626.2 L216.0,626.3 L220.0,626.5 L224.0,626.8 L228.0,627.0 L232.0,627.3 L236.0,627.6 L240.0,627.7 L244.0,627.8 L248.0,627.9 L252.0,627.8 L256.0,627.6 L260.0,627.3 L264.0,627.0 L268.0,626.7 L272.0,626.5 L276.0,626.3 L280.0,626.1 L284.0,626.1 L288.0,626.2 M80.0,662.5 L84.0,662.4 L88.0,662.3 L92.0,662.2 L96.0,662.1 L100.0,662.0 L104.0,661.9 L108.0,661.9 L112.0,661.9 L116.0,661.9 L120.0,661.9 L124.0,661.9 L128.0,661.9 L132.0,661.9 L136.0,661.9 L140.0,661.9 L144.0,661.8 L148.0,661.8 L152.0,661.8 L156.0,661.8 L160.0,661.9 L164.0,662.0 L168.0,662.1 L172.0,662.2 L176.0,662.4 L180.0,662.5 L184.0,662.5 L188.0,662.5 L192.0,662.4 L196.0,662.2 L200.0,662.0 L204.0,661.8 L208.0,661.6 L212.0,661.4 L216.0,661.3 L220.0,661.3 L224.0,661.4 L228.0,661.5 L232.0,661.8 L236.0,662.0 L240.0,662.3 L244.0,662.5 L248.0,662.6 L252.0,662.7 L256.0,662.7 L260.0,662.6 L264.0,662.4 L268.0,662.2 L272.0,661.9 L276.0,661.7 L280.0,661.5 L284.0,661.4 L288.0,661.4" fill="none" stroke="#e23cc0" stroke-width="1.3"/>
<path d="M264.8,482.1 Q266.0,480.9 267.6,480.9 Q269.2,481.0 270.4,482.2 Q271.5,483.4 271.0,485.1 Q270.6,486.7 269.1,487.3 Q267.6,487.9 265.9,487.4 Q264.3,486.9 263.9,485.1 Q263.6,483.3 264.8,482.1 Z M272.3,521.6 Q271.0,522.7 269.3,521.9 Q267.7,521.2 267.0,519.4 Q266.3,517.7 267.5,516.2 Q268.8,514.6 270.5,514.8 Q272.3,515.0 273.8,516.1 Q275.3,517.3 274.5,519.0 Q273.7,520.6 272.3,521.6 Z M88.8,525.2 Q87.1,524.1 87.3,522.2 Q87.6,520.3 88.8,519.0 Q90.0,517.6 91.6,518.2 Q93.3,518.7 94.6,520.1 Q95.8,521.5 95.1,523.4 Q94.4,525.3 92.4,525.7 Q90.5,526.2 88.8,525.2 Z M130.2,517.0 Q132.4,518.2 133.4,520.3 Q134.4,522.4 133.1,524.4 Q131.7,526.4 129.4,526.7 Q127.0,527.0 125.4,525.2 Q123.8,523.5 123.8,521.1 Q123.8,518.7 126.0,517.2 Q128.1,515.8 130.2,517.0 Z M159.3,524.6 Q158.8,523.7 159.1,522.6 Q159.5,521.5 160.1,520.8 Q160.7,520.1 161.4,520.8 Q162.1,521.4 162.3,522.8 Q162.5,524.1 161.9,525.2 Q161.3,526.2 160.6,525.9 Q159.8,525.6 159.3,524.6 Z M193.2,523.7 Q191.4,523.1 191.3,521.8 Q191.2,520.4 192.0,519.3 Q192.7,518.1 194.5,518.2 Q196.2,518.3 197.2,519.2 Q198.2,520.1 197.9,521.3 Q197.6,522.5 196.3,523.4 Q194.9,524.4 193.2,523.7 Z M130.0,557.1 Q129.2,558.9 127.8,559.6 Q126.5,560.3 125.1,559.4 Q123.7,558.5 124.0,556.3 Q124.2,554.2 125.1,552.7 Q126.0,551.2 127.4,551.4 Q128.9,551.6 129.8,553.4 Q130.8,555.2 130.0,557.1 Z M160.7,552.4 Q162.2,551.9 162.9,553.7 Q163.7,555.6 163.4,557.5 Q163.2,559.4 161.9,560.2 Q160.7,561.1 159.2,560.5 Q157.7,559.9 157.2,557.7 Q156.8,555.5 158.0,554.2 Q159.2,552.9 160.7,552.4 Z M269.3,558.3 Q267.7,559.8 265.4,559.9 Q263.1,559.9 261.4,558.4 Q259.7,556.9 260.1,554.7 Q260.6,552.5 262.9,551.8 Q265.2,551.0 267.2,552.0 Q269.1,553.0 270.0,554.9 Q270.9,556.7 269.3,558.3 Z M122.1,594.0 Q120.3,593.8 119.3,591.9 Q118.3,590.1 119.5,588.4 Q120.7,586.7 122.6,586.5 Q124.6,586.3 126.1,587.6 Q127.5,588.8 127.4,590.8 Q127.3,592.8 125.6,593.5 Q123.9,594.2 122.1,594.0 Z M164.2,587.3 Q166.0,588.2 166.5,590.2 Q166.9,592.3 165.5,593.8 Q164.1,595.4 162.2,595.1 Q160.2,594.7 159.1,593.3 Q158.0,591.8 158.7,590.1 Q159.3,588.5 160.8,587.5 Q162.4,586.5 164.2,587.3 Z M238.8,589.4 Q238.8,591.0 237.7,592.1 Q236.6,593.2 235.0,592.9 Q233.3,592.7 232.4,591.2 Q231.5,589.8 232.3,588.4 Q233.1,586.9 234.6,586.5 Q236.1,586.1 237.4,587.0 Q238.8,587.8 238.8,589.4 Z M98.9,626.6 Q98.5,628.5 96.5,629.1 Q94.6,629.8 92.2,629.5 Q89.9,629.2 89.4,627.0 Q89.0,624.9 90.6,623.5 Q92.2,622.1 94.3,622.0 Q96.4,621.9 97.8,623.3 Q99.3,624.7 98.9,626.6 Z M195.1,633.5 Q194.0,633.2 193.2,632.2 Q192.5,631.2 193.1,629.9 Q193.7,628.6 195.1,628.6 Q196.5,628.5 197.4,629.3 Q198.4,630.2 198.1,631.3 Q197.9,632.5 197.0,633.2 Q196.2,633.8 195.1,633.5 Z M231.7,630.6 Q229.6,630.4 228.0,628.6 Q226.4,626.8 227.7,624.8 Q229.0,622.9 230.9,622.3 Q232.9,621.8 235.2,622.5 Q237.5,623.2 237.4,625.7 Q237.3,628.2 235.6,629.5 Q233.8,630.8 231.7,630.6 Z M262.2,626.5 Q262.1,624.9 262.9,623.6 Q263.8,622.2 265.6,622.0 Q267.4,621.9 268.5,623.5 Q269.5,625.0 269.0,626.8 Q268.4,628.5 266.8,628.9 Q265.1,629.4 263.7,628.7 Q262.3,628.0 262.2,626.5 Z M132.5,664.8 Q131.2,666.5 129.2,666.5 Q127.2,666.5 125.7,665.1 Q124.3,663.8 124.8,661.9 Q125.4,660.1 126.9,659.2 Q128.5,658.4 130.4,658.8 Q132.3,659.2 133.0,661.2 Q133.8,663.2 132.5,664.8 Z M159.3,655.4 Q161.8,655.3 163.0,657.6 Q164.3,660.0 163.1,662.4 Q162.0,664.8 159.6,665.0 Q157.1,665.3 155.1,664.0 Q153.1,662.8 153.1,660.4 Q153.2,658.0 155.0,656.8 Q156.9,655.5 159.3,655.4 Z M198.7,658.4 Q198.8,660.4 197.7,661.9 Q196.7,663.3 194.8,663.7 Q192.9,664.1 191.3,662.6 Q189.8,661.1 190.5,659.1 Q191.1,657.1 192.8,655.9 Q194.5,654.6 196.5,655.5 Q198.6,656.3 198.7,658.4 Z M235.8,657.4 Q236.4,658.8 236.2,660.1 Q236.0,661.5 235.1,662.2 Q234.2,662.9 233.3,662.4 Q232.4,661.8 232.1,660.5 Q231.8,659.2 232.3,657.9 Q232.8,656.5 234.0,656.3 Q235.2,656.1 235.8,657.4 Z" fill="#fff" stroke="#22e022" stroke-width="1.4"/>
</g>
<rect x="80.6" y="472.6" width="176.2" height="31" fill="#fff" stroke="#444" stroke-width="1"/>
<text x="87.3" y="495.5" font-size="20.2" font-weight="bold">(a) W(100)/Fe(100)</text>
<path d="M80.5,457 V467 M287.2,457 V467 M80.5,462 H141.85 M219.85,462 H287.2" stroke="#000" stroke-width="1" fill="none"/>
<polygon points="81.0,462 87.5,459.6 87.5,464.4" fill="#000"/>
<polygon points="286.7,462 280.2,459.6 280.2,464.4" fill="#000"/>
<text x="180.85" y="466.3" font-size="13.6" text-anchor="middle">174.1220 Å</text>
<path d="M293.8,473 H303.8 M293.8,680.2 H303.8 M298.8,473 V541 M298.8,619 V680.2" stroke="#000" stroke-width="1" fill="none"/>
<polygon points="298.8,473.5 296.40000000000003,480 301.2,480" fill="#000"/>
<polygon points="298.8,679.7 296.40000000000003,673.2 301.2,673.2" fill="#000"/>
<text transform="translate(303.1,580) rotate(-90)" font-size="13.6" text-anchor="middle">174.1220 Å</text>
<path d="M72,638.5 V691.6 H124" stroke="#000" stroke-width="1.1" fill="none"/>
<polygon points="72,633.5 69.4,640.5 74.6,640.5" fill="#000"/>
<polygon points="129,691.6 122,689.0 122,694.2" fill="#000"/>
<text transform="translate(65,691.6) rotate(-90)" font-size="13.5">[001]</text>
<text x="71" y="707" font-size="13.5">[100]</text>
<g clip-path="url(#clipB)">
<path d="M287.4,452.0 C282.2,457.6 277.8,463.8 272.1,469.0 M297.8,452.0 C304.1,456.6 306.5,464.7 313.2,469.0 M339.0,452.0 C335.5,459.1 329.8,464.3 323.6,469.0 M349.4,452.0 C355.5,456.8 359.6,463.4 364.8,469.0 M390.6,452.0 C386.5,458.6 379.7,462.7 375.2,469.0 M400.9,452.0 C407.2,456.6 413.0,461.7 416.3,469.0 M442.1,452.0 C436.6,457.3 433.6,464.9 426.7,469.0 M452.5,452.0 C458.5,456.8 461.5,464.5 467.9,469.0 M493.6,452.0 C487.2,456.4 485.0,464.7 478.3,469.0 M504.0,452.0 C510.4,456.6 512.9,464.5 519.4,469.0 M545.2,452.0 C541.9,459.3 535.6,463.8 529.8,469.0 M555.6,452.0 C560.1,458.2 566.0,463.1 571.0,469.0 M596.8,452.0 C589.8,455.9 588.3,464.9 581.4,469.0 M607.2,452.0 C612.9,457.1 617.5,463.2 622.5,469.0 M313.2,469.0 C307.8,474.4 304.4,481.6 297.8,486.0 M323.6,469.0 C330.0,473.5 332.8,481.3 339.0,486.0 M364.8,469.0 C358.9,473.9 353.5,479.4 349.4,486.0 M375.2,469.0 C380.6,474.3 384.5,481.1 390.5,486.0 M416.3,469.0 C409.8,473.4 407.7,481.7 400.9,486.0 M426.7,469.0 C431.3,475.1 436.8,480.5 442.1,486.0 M467.9,469.0 C464.3,476.0 457.3,480.0 452.5,486.0 M478.3,469.0 C485.0,473.2 488.5,480.3 493.6,486.0 M519.4,469.0 C514.4,474.7 507.3,478.6 504.1,486.0 M529.8,469.0 C534.7,474.8 538.9,481.4 545.2,486.0 M571.0,469.0 C567.0,475.7 559.5,479.2 555.6,486.0 M581.4,469.0 C586.4,474.7 592.5,479.5 596.7,486.0 M622.5,469.0 C616.7,474.0 612.3,480.4 607.1,486.0 M632.9,469.0 C638.3,474.4 644.3,479.3 648.3,486.0 M287.4,486.0 C282.6,491.9 276.2,496.4 272.1,503.0 M297.8,486.0 C302.1,492.4 309.2,496.4 313.2,503.0 M339.0,486.0 C334.1,491.9 329.8,498.2 323.6,503.0 M349.4,486.0 C356.1,490.2 359.4,497.5 364.8,503.0 M390.6,486.0 C385.4,491.7 380.3,497.4 375.2,503.0 M400.9,486.0 C406.8,491.0 411.0,497.5 416.3,503.0 M442.1,486.0 C436.9,491.6 433.6,498.9 426.7,503.0 M452.5,486.0 C458.4,491.0 464.2,496.0 467.9,503.0 M493.6,486.0 C487.6,490.8 483.6,497.5 478.3,503.0 M504.0,486.0 C510.9,490.1 515.6,496.1 519.4,503.0 M545.2,486.0 C538.6,490.3 534.7,497.1 529.8,503.0 M555.6,486.0 C559.1,493.1 564.8,498.2 571.0,503.0 M596.8,486.0 C592.3,492.2 587.6,498.3 581.4,503.0 M607.2,486.0 C613.8,490.3 616.1,498.5 622.5,503.0 M313.2,503.0 C308.7,509.2 301.6,513.1 297.8,520.0 M323.6,503.0 C330.2,507.3 335.7,512.7 339.0,520.0 M364.8,503.0 C361.4,510.2 354.1,514.0 349.4,520.0 M375.2,503.0 C380.3,508.7 387.3,512.6 390.5,520.0 M416.3,503.0 C409.9,507.5 405.8,514.1 400.9,520.0 M426.7,503.0 C431.9,508.6 436.4,514.9 442.1,520.0 M467.9,503.0 C462.0,508.0 458.5,515.1 452.5,520.0 M478.3,503.0 C481.5,510.3 488.7,514.1 493.6,520.0 M519.4,503.0 C512.4,507.0 508.5,513.7 504.1,520.0 M529.8,503.0 C535.4,508.2 540.1,514.3 545.2,520.0 M571.0,503.0 C567.7,510.4 561.8,515.3 555.6,520.0 M581.4,503.0 C588.3,507.0 590.1,515.7 596.7,520.0 M622.5,503.0 C615.6,507.1 613.4,515.3 607.1,520.0 M632.9,503.0 C637.2,509.5 641.7,515.6 648.3,520.0 M287.4,520.0 C283.9,527.1 278.4,532.5 272.1,537.0 M297.8,520.0 C302.0,526.5 306.7,532.6 313.2,537.0 M339.0,520.0 C334.1,525.9 329.5,532.0 323.6,537.0 M349.4,520.0 C352.9,527.1 357.9,532.9 364.8,537.0 M390.6,520.0 C385.1,525.4 378.7,529.8 375.2,537.0 M400.9,520.0 C407.8,524.1 411.7,530.9 416.3,537.0 M442.1,520.0 C435.4,524.2 433.2,532.6 426.7,537.0 M452.5,520.0 C456.0,527.2 464.1,530.1 467.9,537.0 M493.6,520.0 C487.9,525.1 483.6,531.5 478.3,537.0 M504.0,520.0 C510.8,524.2 513.4,532.1 519.4,537.0 M545.2,520.0 C540.2,525.8 533.9,530.4 529.8,537.0 M555.6,520.0 C559.2,527.0 564.5,532.5 571.0,537.0 M596.8,520.0 C590.5,524.6 585.8,530.7 581.4,537.0 M607.2,520.0 C611.5,526.3 618.4,530.4 622.5,537.0 M313.2,537.0 C308.1,542.7 301.7,547.2 297.8,554.0 M323.6,537.0 C328.2,543.2 332.0,550.0 339.0,554.0 M364.8,537.0 C357.8,541.0 355.4,549.2 349.4,554.0 M375.2,537.0 C380.5,542.5 384.2,549.4 390.5,554.0 M416.3,537.0 C412.9,544.2 404.6,547.0 400.9,554.0 M426.7,537.0 C433.1,541.6 436.7,548.6 442.1,554.0 M467.9,537.0 C464.0,543.8 457.2,548.0 452.5,554.0 M478.3,537.0 C483.4,542.7 489.2,547.7 493.6,554.0 M519.4,537.0 C513.7,542.1 510.5,549.5 504.1,554.0 M529.8,537.0 C535.7,542.0 540.6,547.9 545.2,554.0 M571.0,537.0 C565.3,542.1 559.0,546.8 555.6,554.0 M581.4,537.0 C585.1,544.0 590.0,549.8 596.7,554.0 M622.5,537.0 C616.5,541.8 611.0,547.2 607.1,554.0 M632.9,537.0 C636.4,544.1 644.5,547.2 648.3,554.0 M287.4,554.0 C283.0,560.3 276.4,564.6 272.1,571.0 M297.8,554.0 C302.0,560.6 307.3,566.1 313.2,571.0 M339.0,554.0 C332.6,558.5 328.5,565.2 323.6,571.0 M349.4,554.0 C353.6,560.5 361.4,563.7 364.8,571.0 M390.6,554.0 C385.6,559.9 379.3,564.5 375.2,571.0 M400.9,554.0 C407.9,558.1 410.5,566.0 416.3,571.0 M442.1,554.0 C435.1,558.0 431.4,564.9 426.7,571.0 M452.5,554.0 C457.5,559.8 462.8,565.4 467.9,571.0 M493.6,554.0 C488.5,559.7 481.5,563.6 478.3,571.0 M504.0,554.0 C508.3,560.5 512.7,566.8 519.4,571.0 M545.2,554.0 C538.3,558.1 533.1,563.7 529.8,571.0 M555.6,554.0 C560.0,560.4 564.8,566.3 571.0,571.0 M596.8,554.0 C591.7,559.8 587.5,566.2 581.4,571.0 M607.2,554.0 C612.9,559.1 618.2,564.6 622.5,571.0 M313.2,571.0 C307.7,576.3 302.3,581.8 297.8,588.0 M323.6,571.0 C330.6,575.0 332.5,583.6 339.0,588.0 M364.8,571.0 C360.2,577.2 352.8,580.8 349.4,588.0 M375.2,571.0 C381.6,575.5 386.9,581.0 390.5,588.0 M416.3,571.0 C412.1,577.5 407.3,583.5 400.9,588.0 M426.7,571.0 C430.5,578.0 437.1,582.3 442.1,588.0 M467.9,571.0 C464.0,577.9 458.8,583.4 452.5,588.0 M478.3,571.0 C484.7,575.6 488.8,582.1 493.6,588.0 M519.4,571.0 C515.0,577.3 509.9,583.0 504.1,588.0 M529.8,571.0 C533.9,577.6 538.3,584.0 545.2,588.0 M571.0,571.0 C565.3,576.2 559.2,581.0 555.6,588.0 M581.4,571.0 C587.8,575.5 591.9,582.2 596.7,588.0 M622.5,571.0 C617.9,577.1 613.0,583.0 607.1,588.0 M632.9,571.0 C638.0,576.7 641.3,584.1 648.3,588.0 M287.4,588.0 C283.3,594.6 277.2,599.4 272.1,605.1 M297.8,588.0 C303.1,593.6 308.7,598.8 313.2,605.1 M339.0,588.0 C334.8,594.5 327.8,598.5 323.6,605.1 M349.4,588.0 C352.9,595.2 358.7,600.2 364.8,605.1 M390.6,588.0 C384.3,592.7 381.2,600.2 375.2,605.1 M400.9,588.0 C407.9,592.1 411.2,599.4 416.3,605.1 M442.1,588.0 C436.9,593.6 432.6,600.0 426.7,605.1 M452.5,588.0 C458.7,592.8 463.2,599.0 467.9,605.1 M493.6,588.0 C486.9,592.2 482.0,598.2 478.3,605.1 M504.0,588.0 C508.2,594.6 515.2,598.5 519.4,605.1 M545.2,588.0 C540.3,593.9 533.1,597.7 529.8,605.1 M555.6,588.0 C559.0,595.2 565.0,600.2 571.0,605.1 M596.8,588.0 C592.4,594.4 587.2,600.0 581.4,605.1 M607.2,588.0 C611.5,594.4 617.5,599.3 622.5,605.1 M313.2,605.1 C308.0,610.6 301.5,615.1 297.8,622.1 M323.6,605.1 C330.3,609.3 332.7,617.4 339.0,622.1 M364.8,605.1 C361.3,612.2 352.7,614.7 349.4,622.1 M375.2,605.1 C380.1,610.9 386.7,615.3 390.5,622.1 M416.3,605.1 C411.0,610.5 405.2,615.6 400.9,622.1 M426.7,605.1 C430.7,611.7 438.7,614.8 442.1,622.1 M467.9,605.1 C463.1,611.0 456.2,615.1 452.5,622.1 M478.3,605.1 C483.5,610.6 490.3,614.8 493.6,622.1 M519.4,605.1 C515.5,611.8 509.2,616.4 504.1,622.1 M529.8,605.1 C536.4,609.4 540.9,615.7 545.2,622.1 M571.0,605.1 C567.4,612.1 560.7,616.3 555.6,622.1 M581.4,605.1 C584.7,612.4 589.7,618.1 596.7,622.1 M622.5,605.1 C617.2,610.5 611.5,615.7 607.1,622.1 M632.9,605.1 C636.7,612.0 642.6,616.9 648.3,622.1 M287.4,622.1 C283.6,628.9 275.3,631.7 272.1,639.1 M297.8,622.1 C303.9,626.9 309.4,632.2 313.2,639.1 M339.0,622.1 C335.5,629.2 329.6,634.1 323.6,639.1 M349.4,622.1 C356.1,626.3 358.8,634.1 364.8,639.1 M390.6,622.1 C385.0,627.4 382.2,635.1 375.2,639.1 M400.9,622.1 C406.4,627.4 410.7,633.9 416.3,639.1 M442.1,622.1 C436.1,626.9 430.1,631.8 426.7,639.1 M452.5,622.1 C456.1,629.1 464.0,632.2 467.9,639.1 M493.6,622.1 C490.2,629.2 482.4,632.5 478.3,639.1 M504.0,622.1 C508.3,628.5 514.3,633.4 519.4,639.1 M545.2,622.1 C539.6,627.3 536.7,635.0 529.8,639.1 M555.6,622.1 C562.2,626.4 567.1,632.3 571.0,639.1 M596.8,622.1 C593.2,629.2 588.2,634.9 581.4,639.1 M607.2,622.1 C612.5,627.6 618.2,632.6 622.5,639.1 M313.2,639.1 C309.0,645.6 302.8,650.2 297.8,656.1 M323.6,639.1 C329.7,643.9 334.4,649.9 339.0,656.1 M364.8,639.1 C357.9,643.2 356.2,651.9 349.4,656.1 M375.2,639.1 C378.9,646.0 385.3,650.5 390.5,656.1 M416.3,639.1 C410.4,644.0 407.0,651.2 400.9,656.1 M426.7,639.1 C433.7,643.1 436.0,651.2 442.1,656.1 M467.9,639.1 C462.0,644.0 457.8,650.6 452.5,656.1 M478.3,639.1 C483.0,645.1 487.2,651.6 493.6,656.1 M519.4,639.1 C513.2,643.7 510.7,651.8 504.1,656.1 M529.8,639.1 C534.9,644.8 539.0,651.4 545.2,656.1 M571.0,639.1 C567.8,646.5 560.5,650.2 555.6,656.1 M581.4,639.1 C585.1,646.0 590.4,651.5 596.7,656.1 M622.5,639.1 C616.8,644.2 610.7,649.0 607.1,656.1 M632.9,639.1 C637.0,645.6 642.2,651.3 648.3,656.1 M287.4,656.1 C283.8,663.1 278.2,668.3 272.1,673.1 M297.8,656.1 C302.6,662.1 307.8,667.7 313.2,673.1 M339.0,656.1 C333.4,661.3 328.1,666.9 323.6,673.1 M349.4,656.1 C352.8,663.3 358.8,668.2 364.8,673.1 M390.6,656.1 C384.0,660.4 380.3,667.4 375.2,673.1 M400.9,656.1 C406.6,661.3 412.6,666.2 416.3,673.1 M442.1,656.1 C436.1,661.0 430.9,666.5 426.7,673.1 M452.5,656.1 C457.2,662.1 462.5,667.6 467.9,673.1 M493.6,656.1 C489.9,663.0 484.8,668.7 478.3,673.1 M504.0,656.1 C507.3,663.4 512.5,669.1 519.4,673.1 M545.2,656.1 C541.6,663.1 534.8,667.3 529.8,673.1 M555.6,656.1 C561.1,661.4 563.9,669.2 571.0,673.1 M596.8,656.1 C593.3,663.2 587.8,668.6 581.4,673.1 M607.2,656.1 C613.6,660.5 619.2,665.8 622.5,673.1 M313.2,673.1 C306.6,677.4 301.6,683.2 297.8,690.1 M323.6,673.1 C328.8,678.7 334.6,683.8 339.0,690.1 M364.8,673.1 C360.5,679.5 355.1,684.9 349.4,690.1 M375.2,673.1 C381.3,677.8 385.3,684.6 390.5,690.1 M416.3,673.1 C409.4,677.2 407.2,685.4 400.9,690.1 M426.7,673.1 C430.8,679.7 438.6,683.0 442.1,690.1 M467.9,673.1 C462.0,678.1 456.2,683.1 452.5,690.1 M478.3,673.1 C482.4,679.6 489.1,684.0 493.6,690.1 M519.4,673.1 C512.8,677.4 507.5,682.9 504.1,690.1 M529.8,673.1 C535.0,678.7 540.4,684.1 545.2,690.1 M571.0,673.1 C564.8,677.8 561.1,684.8 555.6,690.1 M581.4,673.1 C584.6,680.5 590.9,685.1 596.7,690.1 M622.5,673.1 C619.2,680.4 612.8,684.9 607.1,690.1 M632.9,673.1 C639.5,677.4 643.1,684.5 648.3,690.1 M287.4,690.1 C281.3,694.9 279.0,703.0 272.1,707.1 M297.8,690.1 C303.8,695.1 307.4,702.1 313.2,707.1 M339.0,690.1 C333.9,695.8 329.4,702.0 323.6,707.1 M349.4,690.1 C354.2,696.0 358.7,702.3 364.8,707.1 M390.6,690.1 C387.1,697.3 379.2,700.5 375.2,707.1 M400.9,690.1 C404.3,697.4 410.6,702.0 416.3,707.1 M442.1,690.1 C437.7,696.4 430.7,700.4 426.7,707.1 M452.5,690.1 C458.8,694.7 463.7,700.6 467.9,707.1 M493.6,690.1 C487.4,694.7 485.2,703.1 478.3,707.1 M504.0,690.1 C508.4,696.4 515.5,700.3 519.4,707.1 M545.2,690.1 C539.0,694.8 536.0,702.3 529.8,707.1 M555.6,690.1 C559.9,696.5 567.6,699.9 571.0,707.1 M596.8,690.1 C590.4,694.7 585.4,700.5 581.4,707.1 M607.2,690.1 C612.0,696.1 618.0,700.9 622.5,707.1" fill="none" stroke="#22e022" stroke-width="1.4"/>
<path d="M287.4,452.0 Q292.6,452.8 297.8,452.0 M339.0,452.0 Q344.2,452.3 349.4,452.0 M390.6,452.0 Q395.8,451.2 400.9,452.0 M442.1,452.0 Q447.3,451.7 452.5,452.0 M493.6,452.0 Q498.8,451.1 504.0,452.0 M545.2,452.0 Q550.4,452.7 555.6,452.0 M596.8,452.0 Q602.0,451.1 607.2,452.0 M313.2,469.0 Q318.4,470.0 323.6,469.0 M364.8,469.0 Q370.0,468.4 375.2,469.0 M416.3,469.0 Q421.5,468.8 426.7,469.0 M467.9,469.0 Q473.1,469.2 478.3,469.0 M519.4,469.0 Q524.6,469.0 529.8,469.0 M571.0,469.0 Q576.2,467.8 581.4,469.0 M622.5,469.0 Q627.7,469.1 632.9,469.0 M287.4,486.0 Q292.6,485.0 297.8,486.0 M339.0,486.0 Q344.2,486.0 349.4,486.0 M390.6,486.0 Q395.8,486.3 400.9,486.0 M442.1,486.0 Q447.3,486.1 452.5,486.0 M493.6,486.0 Q498.8,487.0 504.0,486.0 M545.2,486.0 Q550.4,485.1 555.6,486.0 M596.8,486.0 Q602.0,485.0 607.2,486.0 M313.2,503.0 Q318.4,503.5 323.6,503.0 M364.8,503.0 Q370.0,502.3 375.2,503.0 M416.3,503.0 Q421.5,503.8 426.7,503.0 M467.9,503.0 Q473.1,502.3 478.3,503.0 M519.4,503.0 Q524.6,502.8 529.8,503.0 M571.0,503.0 Q576.2,501.9 581.4,503.0 M622.5,503.0 Q627.7,502.4 632.9,503.0 M287.4,520.0 Q292.6,519.8 297.8,520.0 M339.0,520.0 Q344.2,521.0 349.4,520.0 M390.6,520.0 Q395.8,520.5 400.9,520.0 M442.1,520.0 Q447.3,520.7 452.5,520.0 M493.6,520.0 Q498.8,519.9 504.0,520.0 M545.2,520.0 Q550.4,519.1 555.6,520.0 M596.8,520.0 Q602.0,518.9 607.2,520.0 M313.2,537.0 Q318.4,536.5 323.6,537.0 M364.8,537.0 Q370.0,536.4 375.2,537.0 M416.3,537.0 Q421.5,536.9 426.7,537.0 M467.9,537.0 Q473.1,537.0 478.3,537.0 M519.4,537.0 Q524.6,538.2 529.8,537.0 M571.0,537.0 Q576.2,536.8 581.4,537.0 M622.5,537.0 Q627.7,537.6 632.9,537.0 M287.4,554.0 Q292.6,554.9 297.8,554.0 M339.0,554.0 Q344.2,553.9 349.4,554.0 M390.6,554.0 Q395.8,555.2 400.9,554.0 M442.1,554.0 Q447.3,553.7 452.5,554.0 M493.6,554.0 Q498.8,553.3 504.0,554.0 M545.2,554.0 Q550.4,553.8 555.6,554.0 M596.8,554.0 Q602.0,554.2 607.2,554.0 M313.2,571.0 Q318.4,571.9 323.6,571.0 M364.8,571.0 Q370.0,571.6 375.2,571.0 M416.3,571.0 Q421.5,571.3 426.7,571.0 M467.9,571.0 Q473.1,571.0 478.3,571.0 M519.4,571.0 Q524.6,572.0 529.8,571.0 M571.0,571.0 Q576.2,570.1 581.4,571.0 M622.5,571.0 Q627.7,571.3 632.9,571.0 M287.4,588.0 Q292.6,588.8 297.8,588.0 M339.0,588.0 Q344.2,587.0 349.4,588.0 M390.6,588.0 Q395.8,588.6 400.9,588.0 M442.1,588.0 Q447.3,587.8 452.5,588.0 M493.6,588.0 Q498.8,588.4 504.0,588.0 M545.2,588.0 Q550.4,587.6 555.6,588.0 M596.8,588.0 Q602.0,588.5 607.2,588.0 M313.2,605.1 Q318.4,605.0 323.6,605.1 M364.8,605.1 Q370.0,606.2 375.2,605.1 M416.3,605.1 Q421.5,606.2 426.7,605.1 M467.9,605.1 Q473.1,604.4 478.3,605.1 M519.4,605.1 Q524.6,604.2 529.8,605.1 M571.0,605.1 Q576.2,604.4 581.4,605.1 M622.5,605.1 Q627.7,605.0 632.9,605.1 M287.4,622.1 Q292.6,621.6 297.8,622.1 M339.0,622.1 Q344.2,621.1 349.4,622.1 M390.6,622.1 Q395.8,621.8 400.9,622.1 M442.1,622.1 Q447.3,621.9 452.5,622.1 M493.6,622.1 Q498.8,621.5 504.0,622.1 M545.2,622.1 Q550.4,621.3 555.6,622.1 M596.8,622.1 Q602.0,622.4 607.2,622.1 M313.2,639.1 Q318.4,638.0 323.6,639.1 M364.8,639.1 Q370.0,638.6 375.2,639.1 M416.3,639.1 Q421.5,638.7 426.7,639.1 M467.9,639.1 Q473.1,639.4 478.3,639.1 M519.4,639.1 Q524.6,638.3 529.8,639.1 M571.0,639.1 Q576.2,640.0 581.4,639.1 M622.5,639.1 Q627.7,638.1 632.9,639.1 M287.4,656.1 Q292.6,656.2 297.8,656.1 M339.0,656.1 Q344.2,656.1 349.4,656.1 M390.6,656.1 Q395.8,657.2 400.9,656.1 M442.1,656.1 Q447.3,655.4 452.5,656.1 M493.6,656.1 Q498.8,657.2 504.0,656.1 M545.2,656.1 Q550.4,656.6 555.6,656.1 M596.8,656.1 Q602.0,655.8 607.2,656.1 M313.2,673.1 Q318.4,672.5 323.6,673.1 M364.8,673.1 Q370.0,674.1 375.2,673.1 M416.3,673.1 Q421.5,673.2 426.7,673.1 M467.9,673.1 Q473.1,673.4 478.3,673.1 M519.4,673.1 Q524.6,673.6 529.8,673.1 M571.0,673.1 Q576.2,672.8 581.4,673.1 M622.5,673.1 Q627.7,673.0 632.9,673.1 M287.4,690.1 Q292.6,689.5 297.8,690.1 M339.0,690.1 Q344.2,689.0 349.4,690.1 M390.6,690.1 Q395.8,690.5 400.9,690.1 M442.1,690.1 Q447.3,689.9 452.5,690.1 M493.6,690.1 Q498.8,690.1 504.0,690.1 M545.2,690.1 Q550.4,689.5 555.6,690.1 M596.8,690.1 Q602.0,690.1 607.2,690.1" fill="none" stroke="#e23cc0" stroke-width="1.35"/>
</g>
<rect x="346.5" y="472.8" width="172.5" height="31.3" fill="#fff" stroke="#444" stroke-width="1"/>
<text x="352.5" y="495.5" font-size="20.2" font-weight="bold">(b) W(110)/Fe(110)</text>
<path d="M347.4,457.8 V467.8 M553.8,457.8 V467.8 M347.4,462.8 H413.59999999999997 M491.59999999999997,462.8 H553.8" stroke="#000" stroke-width="1" fill="none"/>
<polygon points="347.9,462.8 354.4,460.40000000000003 354.4,465.2" fill="#000"/>
<polygon points="553.3,462.8 546.8,460.40000000000003 546.8,465.2" fill="#000"/>
<text x="452.59999999999997" y="467.1" font-size="13.6" text-anchor="middle">174.2428 Å</text>
<path d="M562.4,473 H572.4 M562.4,681.5 H572.4 M567.4,473 V538.5 M567.4,616.5 V681.5" stroke="#000" stroke-width="1" fill="none"/>
<polygon points="567.4,473.5 565.0,480 569.8,480" fill="#000"/>
<polygon points="567.4,681.0 565.0,674.5 569.8,674.5" fill="#000"/>
<text transform="translate(571.6999999999999,577.5) rotate(-90)" font-size="13.6" text-anchor="middle">173.9996 Å</text>
<path d="M336.1,638.5 V691.6 H387.9" stroke="#000" stroke-width="1.1" fill="none"/>
<polygon points="336.1,633.5 333.5,640.5 338.70000000000005,640.5" fill="#000"/>
<polygon points="392.9,691.6 385.9,689.0 385.9,694.2" fill="#000"/>
<text transform="translate(329,691.6) rotate(-90)" font-size="13.5">[001]</text>
<text x="334.5" y="706.5" font-size="13.5">[110]</text>
<text x="306" y="718.4" font-size="22.4" font-weight="bold" text-anchor="middle">Periodic pattern structure</text>
<rect x="780.3" y="24.5" width="186.0" height="150.1" fill="#fff" stroke="#5a5a5a" stroke-width="0.9"/>
<path d="M780.3,174.6 v2.6 M842.3,174.6 v2.6 M904.3,174.6 v2.6 M966.3,174.6 v2.6 M811.3,174.6 v1.4 M873.3,174.6 v1.4 M935.3,174.6 v1.4 M780.3,174.6 h-2.8 M780.3,159.6 h-2.8 M780.3,144.6 h-2.8 M780.3,129.6 h-2.8 M780.3,114.6 h-2.8 M780.3,99.5 h-2.8 M780.3,84.5 h-2.8 M780.3,69.5 h-2.8 M780.3,54.5 h-2.8 M780.3,39.5 h-2.8 M780.3,24.5 h-2.8 M780.3,167.1 h-1.5 M780.3,152.1 h-1.5 M780.3,137.1 h-1.5 M780.3,122.1 h-1.5 M780.3,107.1 h-1.5 M780.3,92.0 h-1.5 M780.3,77.0 h-1.5 M780.3,62.0 h-1.5 M780.3,47.0 h-1.5 M780.3,32.0 h-1.5 " stroke="#5a5a5a" stroke-width="0.9" fill="none"/>
<text x="780.3" y="187.6" font-size="9.6" text-anchor="middle" fill="#222">0</text>
<text x="842.3" y="187.6" font-size="9.6" text-anchor="middle" fill="#222">5</text>
<text x="904.3" y="187.6" font-size="9.6" text-anchor="middle" fill="#222">10</text>
<text x="966.3" y="187.6" font-size="9.6" text-anchor="middle" fill="#222">15</text>
<text x="775.3" y="177.8" font-size="9.6" text-anchor="end" fill="#222">0</text>
<text x="775.3" y="162.8" font-size="9.6" text-anchor="end" fill="#222">2</text>
<text x="775.3" y="147.8" font-size="9.6" text-anchor="end" fill="#222">4</text>
<text x="775.3" y="132.8" font-size="9.6" text-anchor="end" fill="#222">6</text>
<text x="775.3" y="117.8" font-size="9.6" text-anchor="end" fill="#222">8</text>
<text x="775.3" y="102.8" font-size="9.6" text-anchor="end" fill="#222">10</text>
<text x="775.3" y="87.7" font-size="9.6" text-anchor="end" fill="#222">12</text>
<text x="775.3" y="72.7" font-size="9.6" text-anchor="end" fill="#222">14</text>
<text x="775.3" y="57.7" font-size="9.6" text-anchor="end" fill="#222">16</text>
<text x="775.3" y="42.7" font-size="9.6" text-anchor="end" fill="#222">18</text>
<text x="775.3" y="27.7" font-size="9.6" text-anchor="end" fill="#222">20</text>
<path d="M780.30,174.60 C781.33,173.10 784.43,168.53 786.50,165.59 C788.57,162.65 789.60,161.15 792.70,156.96 C795.80,152.77 800.97,145.64 805.10,140.45 C809.23,135.26 814.40,129.32 817.50,125.82 C820.60,122.32 821.84,121.19 823.70,119.44 C825.56,117.69 827.42,116.12 828.66,115.31 C829.90,114.50 830.31,114.43 831.14,114.56 C831.97,114.69 832.59,115.37 833.62,116.06 C834.65,116.75 835.89,118.12 837.34,118.69 C838.79,119.25 840.44,119.44 842.30,119.44 C844.16,119.44 846.74,119.03 848.50,118.69 C850.26,118.35 851.70,117.47 852.84,117.41 C853.98,117.35 854.39,118.41 855.32,118.31 C856.25,118.21 857.28,117.29 858.42,116.81 C859.56,116.34 860.69,115.71 862.14,115.46 C863.59,115.21 864.21,115.71 867.10,115.31 C869.99,114.91 875.37,113.68 879.50,113.06 C883.63,112.43 887.77,112.06 891.90,111.56 C896.03,111.06 900.99,110.37 904.30,110.06 C907.61,109.74 909.67,109.68 911.74,109.68 C913.81,109.68 915.05,110.24 916.70,110.06 C918.35,109.87 919.59,109.43 921.66,108.56 C923.73,107.68 925.79,106.68 929.10,104.80 C932.41,102.93 938.61,99.11 941.50,97.30 C944.39,95.48 945.32,94.55 946.46,93.92 C947.60,93.30 947.74,93.36 948.32,93.55 C948.90,93.73 949.46,93.17 949.93,95.05 C950.41,96.92 950.80,97.80 951.17,104.80 C951.54,111.81 951.85,126.69 952.16,137.07 C952.47,147.46 952.83,160.84 953.03,167.09 C953.24,173.35 953.34,173.35 953.40,174.60" fill="none" stroke="#4db8ff" stroke-width="1.2" stroke-linejoin="round" stroke-linecap="round"/>
<path d="M780.30,174.60 C782.37,172.66 788.57,166.72 792.70,162.97 C796.83,159.21 800.97,155.59 805.10,152.09 C809.23,148.58 813.37,145.21 817.50,141.95 C821.63,138.70 825.77,135.64 829.90,132.57 C834.03,129.51 838.17,126.51 842.30,123.57 C846.43,120.63 850.71,117.65 854.70,114.94 C858.69,112.22 864.23,107.59 866.23,107.28 C868.24,106.97 866.54,111.10 866.73,113.06 C866.91,115.02 866.98,117.81 867.35,119.06 C867.72,120.31 868.44,119.94 868.96,120.56 C869.48,121.19 870.03,120.81 870.45,122.82 C870.86,124.82 871.07,129.44 871.44,132.57 C871.81,135.70 872.16,139.33 872.68,141.58 C873.20,143.83 873.92,144.96 874.54,146.08 C875.16,147.21 876.09,147.96 876.40,148.33" fill="none" stroke="#d9a521" stroke-width="1.2" stroke-linejoin="round" stroke-linecap="round"/>
<path d="M780.30,174.60 C782.37,172.66 788.57,166.72 792.70,162.97 C796.83,159.21 800.97,155.59 805.10,152.09 C809.23,148.58 813.37,145.21 817.50,141.95 C821.63,138.70 825.77,135.64 829.90,132.57 C834.03,129.51 838.17,126.51 842.30,123.57 C846.43,120.63 850.57,117.75 854.70,114.94 C858.83,112.12 864.21,108.62 867.10,106.68 C869.99,104.74 870.86,104.05 872.06,103.30 C873.26,102.55 873.75,101.55 874.29,102.18 C874.83,102.80 874.95,102.49 875.28,107.05 C875.61,111.62 875.95,122.44 876.28,129.57 C876.61,136.70 876.94,145.77 877.27,149.83 C877.60,153.90 877.68,153.09 878.26,153.96 C878.84,154.84 880.33,154.90 880.74,155.09" fill="none" stroke="#1fd0d0" stroke-width="1.2" stroke-linejoin="round" stroke-linecap="round"/>
<path d="M780.30,174.60 C782.37,173.10 788.57,168.53 792.70,165.59 C796.83,162.65 800.97,159.72 805.10,156.96 C809.23,154.21 813.37,151.58 817.50,149.08 C821.63,146.58 825.77,144.27 829.90,141.95 C834.03,139.64 838.17,137.26 842.30,135.20 C846.43,133.13 850.57,131.32 854.70,129.57 C858.83,127.82 863.59,126.01 867.10,124.69 C870.61,123.38 873.92,122.25 875.78,121.69 C877.64,121.13 877.68,120.75 878.26,121.31 C878.84,121.88 878.88,122.44 879.25,125.07 C879.62,127.69 880.04,133.57 880.49,137.07 C880.95,140.58 881.42,143.89 881.98,146.08 C882.54,148.27 883.22,149.21 883.84,150.21 C884.46,151.21 885.39,151.77 885.70,152.09" fill="none" stroke="#b46ae6" stroke-width="1.2" stroke-linejoin="round" stroke-linecap="round"/>
<path d="M780.30,174.60 C781.33,173.04 784.43,168.35 786.50,165.22 C788.57,162.09 789.60,160.40 792.70,155.84 C795.80,151.27 800.97,143.45 805.10,137.83 C809.23,132.20 813.37,127.32 817.50,122.06 C821.63,116.81 825.77,111.50 829.90,106.30 C834.03,101.11 838.99,94.92 842.30,90.92 C845.61,86.92 847.88,84.35 849.74,82.29 C851.60,80.22 852.47,79.41 853.46,78.54 C854.45,77.66 855.03,77.03 855.69,77.03 C856.35,77.03 856.93,77.03 857.43,78.54 C857.92,80.04 858.25,81.91 858.67,86.04 C859.08,90.17 859.49,96.05 859.91,103.30 C860.32,110.56 860.73,120.81 861.15,129.57 C861.56,138.33 862.02,148.33 862.39,155.84 C862.76,163.34 863.21,171.47 863.38,174.60" fill="none" stroke="#3a3a3a" stroke-width="1.2" stroke-linejoin="round" stroke-linecap="round"/>
<line x1="883.6" y1="33.3" x2="900.7" y2="33.3" stroke="#3a3a3a" stroke-width="1.3"/>
<text x="902.7" y="35.8" font-size="7.9" fill="#222">W(110)/Fe(110)</text>
<line x1="883.6" y1="42.7" x2="900.7" y2="42.7" stroke="#4db8ff" stroke-width="1.3"/>
<text x="902.7" y="45.2" font-size="7.9" fill="#222">W(100)/Fe(100)</text>
<line x1="883.6" y1="52.1" x2="900.7" y2="52.1" stroke="#d9a521" stroke-width="1.3"/>
<text x="902.7" y="54.6" font-size="7.9" fill="#222">CuNb-KS</text>
<line x1="883.6" y1="61.7" x2="900.7" y2="61.7" stroke="#1fd0d0" stroke-width="1.3"/>
<text x="902.7" y="64.2" font-size="7.9" fill="#222">CuNb-NW</text>
<line x1="883.6" y1="71.1" x2="900.7" y2="71.1" stroke="#b46ae6" stroke-width="1.3"/>
<text x="902.7" y="73.6" font-size="7.9" fill="#222">CuAg</text>
<text x="783.2" y="41.5" font-size="18.8" font-weight="bold">(a)</text>
<text x="965.6" y="170.4" font-size="13.3" font-weight="bold" text-anchor="end">Tensile before cascade</text>
<text transform="translate(762,99.5) rotate(-90)" font-size="12.7" text-anchor="middle" fill="#222">Stress (GPa)</text>
<text x="873.5" y="198.5" font-size="12.7" text-anchor="middle" fill="#222">Strain (%)</text>
<rect x="1000.3" y="22.8" width="187.3" height="151.6" fill="#fff" stroke="#5a5a5a" stroke-width="0.9"/>
<path d="M1000.3,174.4 v2.6 M1062.7,174.4 v2.6 M1125.2,174.4 v2.6 M1187.6,174.4 v2.6 M1031.5,174.4 v1.4 M1093.9,174.4 v1.4 M1156.4,174.4 v1.4 M1000.3,174.4 h-2.8 M1000.3,159.2 h-2.8 M1000.3,144.1 h-2.8 M1000.3,128.9 h-2.8 M1000.3,113.8 h-2.8 M1000.3,98.6 h-2.8 M1000.3,83.4 h-2.8 M1000.3,68.3 h-2.8 M1000.3,53.1 h-2.8 M1000.3,38.0 h-2.8 M1000.3,22.8 h-2.8 M1000.3,166.8 h-1.5 M1000.3,151.7 h-1.5 M1000.3,136.5 h-1.5 M1000.3,121.3 h-1.5 M1000.3,106.2 h-1.5 M1000.3,91.0 h-1.5 M1000.3,75.9 h-1.5 M1000.3,60.7 h-1.5 M1000.3,45.5 h-1.5 M1000.3,30.4 h-1.5 " stroke="#5a5a5a" stroke-width="0.9" fill="none"/>
<text x="1000.3" y="187.4" font-size="9.6" text-anchor="middle" fill="#222">0</text>
<text x="1062.7" y="187.4" font-size="9.6" text-anchor="middle" fill="#222">5</text>
<text x="1125.2" y="187.4" font-size="9.6" text-anchor="middle" fill="#222">10</text>
<text x="1187.6" y="187.4" font-size="9.6" text-anchor="middle" fill="#222">15</text>
<text x="995.3" y="177.6" font-size="9.6" text-anchor="end" fill="#222">0</text>
<text x="995.3" y="162.4" font-size="9.6" text-anchor="end" fill="#222">2</text>
<text x="995.3" y="147.3" font-size="9.6" text-anchor="end" fill="#222">4</text>
<text x="995.3" y="132.1" font-size="9.6" text-anchor="end" fill="#222">6</text>
<text x="995.3" y="117.0" font-size="9.6" text-anchor="end" fill="#222">8</text>
<text x="995.3" y="101.8" font-size="9.6" text-anchor="end" fill="#222">10</text>
<text x="995.3" y="86.6" font-size="9.6" text-anchor="end" fill="#222">12</text>
<text x="995.3" y="71.5" font-size="9.6" text-anchor="end" fill="#222">14</text>
<text x="995.3" y="56.3" font-size="9.6" text-anchor="end" fill="#222">16</text>
<text x="995.3" y="41.2" font-size="9.6" text-anchor="end" fill="#222">18</text>
<text x="995.3" y="26.0" font-size="9.6" text-anchor="end" fill="#222">20</text>
<path d="M1000.30,174.40 C1001.34,172.88 1004.46,168.27 1006.54,165.30 C1008.62,162.34 1009.66,160.82 1012.79,156.59 C1015.91,152.35 1021.11,145.15 1025.27,139.91 C1029.44,134.67 1034.64,128.67 1037.76,125.13 C1040.88,121.59 1042.13,120.46 1044.00,118.69 C1045.88,116.92 1047.75,115.34 1049.00,114.52 C1050.25,113.70 1050.66,113.63 1051.50,113.76 C1052.33,113.89 1052.95,114.58 1053.99,115.28 C1055.03,115.97 1056.28,117.36 1057.74,117.93 C1059.20,118.50 1060.86,118.69 1062.73,118.69 C1064.61,118.69 1067.21,118.27 1068.98,117.93 C1070.75,117.59 1072.20,116.70 1073.35,116.64 C1074.49,116.58 1074.91,117.65 1075.84,117.55 C1076.78,117.45 1077.82,116.51 1078.97,116.03 C1080.11,115.55 1081.26,114.92 1082.71,114.67 C1084.17,114.42 1084.79,114.92 1087.71,114.52 C1090.62,114.11 1096.03,112.88 1100.19,112.24 C1104.36,111.61 1108.52,111.23 1112.68,110.73 C1116.84,110.22 1121.84,109.53 1125.17,109.21 C1128.50,108.90 1130.58,108.83 1132.66,108.83 C1134.74,108.83 1135.99,109.40 1137.65,109.21 C1139.32,109.02 1140.57,108.58 1142.65,107.70 C1144.73,106.81 1146.81,105.80 1150.14,103.91 C1153.47,102.01 1159.71,98.16 1162.63,96.33 C1165.54,94.49 1166.48,93.55 1167.62,92.92 C1168.77,92.28 1168.91,92.35 1169.49,92.54 C1170.08,92.73 1170.64,92.16 1171.12,94.05 C1171.60,95.95 1171.99,96.83 1172.37,103.91 C1172.74,110.98 1173.05,126.01 1173.37,136.50 C1173.68,146.99 1174.03,160.50 1174.24,166.82 C1174.45,173.14 1174.55,173.14 1174.61,174.40" fill="none" stroke="#4a4a4a" stroke-width="1.0" stroke-linejoin="round" stroke-linecap="round"/>
<path d="M1000.30,174.40 C1001.34,172.88 1004.46,168.27 1006.54,165.30 C1008.62,162.34 1009.66,160.82 1012.79,156.59 C1015.91,152.35 1021.11,145.15 1025.27,139.91 C1029.44,134.67 1034.64,128.67 1037.76,125.13 C1040.88,121.59 1042.13,120.46 1044.00,118.69 C1045.88,116.92 1047.75,115.34 1049.00,114.52 C1050.25,113.70 1050.66,113.63 1051.50,113.76 C1052.33,113.89 1052.95,114.58 1053.99,115.28 C1055.03,115.97 1056.28,117.36 1057.74,117.93 C1059.20,118.50 1060.86,118.69 1062.73,118.69 C1064.61,118.69 1067.21,118.27 1068.98,117.93 C1070.75,117.59 1072.20,116.70 1073.35,116.64 C1074.49,116.58 1074.91,117.65 1075.84,117.55 C1076.78,117.45 1077.82,116.51 1078.97,116.03 C1080.11,115.55 1081.26,114.92 1082.71,114.67 C1084.17,114.42 1084.79,114.92 1087.71,114.52 C1090.62,114.11 1096.03,112.88 1100.19,112.24 C1104.36,111.61 1109.97,110.79 1112.68,110.73 C1115.39,110.66 1115.28,111.23 1116.43,111.87 C1117.57,112.50 1118.51,112.69 1119.55,114.52 C1120.59,116.35 1121.73,119.19 1122.67,122.86 C1123.61,126.52 1124.44,131.45 1125.17,136.50 C1125.90,141.55 1126.48,148.00 1127.04,153.18 C1127.60,158.36 1128.18,164.42 1128.54,167.58 C1128.89,170.74 1129.06,171.37 1129.16,172.13" fill="none" stroke="#ff4a4a" stroke-width="1.0" stroke-linejoin="round" stroke-linecap="round"/>
<path d="M1000.30,174.40 C1001.34,172.88 1004.46,168.27 1006.54,165.30 C1008.62,162.34 1009.66,160.82 1012.79,156.59 C1015.91,152.35 1021.11,145.15 1025.27,139.91 C1029.44,134.67 1034.64,128.67 1037.76,125.13 C1040.88,121.59 1042.13,120.46 1044.00,118.69 C1045.88,116.92 1047.75,115.34 1049.00,114.52 C1050.25,113.70 1050.66,113.63 1051.50,113.76 C1052.33,113.89 1052.95,114.58 1053.99,115.28 C1055.03,115.97 1056.28,117.36 1057.74,117.93 C1059.20,118.50 1060.86,118.69 1062.73,118.69 C1064.61,118.69 1067.21,118.27 1068.98,117.93 C1070.75,117.59 1072.20,116.70 1073.35,116.64 C1074.49,116.58 1074.91,117.65 1075.84,117.55 C1076.78,117.45 1077.82,116.51 1078.97,116.03 C1080.11,115.55 1081.26,114.92 1082.71,114.67 C1084.17,114.42 1084.79,114.92 1087.71,114.52 C1090.62,114.11 1096.03,112.88 1100.19,112.24 C1104.36,111.61 1108.52,111.23 1112.68,110.73 C1116.84,110.22 1121.84,109.59 1125.17,109.21 C1128.50,108.83 1130.58,108.77 1132.66,108.45 C1134.74,108.14 1135.78,108.14 1137.65,107.32 C1139.53,106.50 1142.02,104.66 1143.90,103.53 C1145.77,102.39 1147.64,101.00 1148.89,100.50 C1150.14,99.99 1150.66,99.93 1151.39,100.50 C1152.12,101.06 1152.72,101.06 1153.26,103.91 C1153.80,106.75 1154.22,111.49 1154.64,117.55 C1155.05,123.61 1155.38,132.71 1155.76,140.29 C1156.13,147.87 1156.57,157.34 1156.88,163.03 C1157.19,168.72 1157.51,172.50 1157.63,174.40" fill="none" stroke="#2f7df0" stroke-width="1.0" stroke-linejoin="round" stroke-linecap="round"/>
<path d="M1000.30,174.40 C1001.34,172.82 1004.46,168.08 1006.54,164.93 C1008.62,161.77 1009.66,160.06 1012.79,155.45 C1015.91,150.84 1021.11,142.94 1025.27,137.26 C1029.44,131.57 1033.60,126.65 1037.76,121.34 C1041.92,116.03 1046.08,110.66 1050.25,105.42 C1054.41,100.18 1059.40,93.93 1062.73,89.88 C1066.06,85.84 1068.35,83.25 1070.23,81.17 C1072.10,79.08 1072.97,78.26 1073.97,77.38 C1074.97,76.49 1075.55,75.86 1076.22,75.86 C1076.88,75.86 1077.47,75.86 1077.97,77.38 C1078.47,78.89 1078.80,80.79 1079.22,84.96 C1079.63,89.12 1080.05,95.06 1080.46,102.39 C1080.88,109.72 1081.30,120.08 1081.71,128.92 C1082.13,137.76 1082.59,147.87 1082.96,155.45 C1083.34,163.03 1083.79,171.24 1083.96,174.40" fill="none" stroke="#3cb878" stroke-width="1.0" stroke-linejoin="round" stroke-linecap="round"/>
<path d="M1000.30,174.40 C1001.34,172.82 1004.46,168.08 1006.54,164.93 C1008.62,161.77 1009.66,160.06 1012.79,155.45 C1015.91,150.84 1021.11,142.94 1025.27,137.26 C1029.44,131.57 1034.01,126.08 1037.76,121.34 C1041.51,116.60 1045.25,111.87 1047.75,108.83 C1050.25,105.80 1051.08,104.66 1052.74,103.15 C1054.41,101.63 1056.18,100.56 1057.74,99.74 C1059.30,98.92 1060.86,98.98 1062.11,98.22 C1063.36,97.46 1064.09,96.14 1065.23,95.19 C1066.38,94.24 1067.73,92.98 1068.98,92.54 C1070.23,92.09 1071.58,92.22 1072.72,92.54 C1073.87,92.85 1074.91,92.91 1075.84,94.43 C1076.78,95.95 1077.61,97.78 1078.34,101.63 C1079.07,105.49 1079.65,111.49 1080.21,117.55 C1080.78,123.61 1081.21,131.32 1081.71,138.02 C1082.21,144.71 1082.73,152.67 1083.21,157.72 C1083.69,162.78 1084.36,166.57 1084.59,168.34" fill="none" stroke="#c27df0" stroke-width="1.0" stroke-linejoin="round" stroke-linecap="round"/>
<path d="M1000.30,174.40 C1001.34,172.82 1004.46,168.08 1006.54,164.93 C1008.62,161.77 1009.66,160.06 1012.79,155.45 C1015.91,150.84 1021.11,142.94 1025.27,137.26 C1029.44,131.57 1033.60,126.65 1037.76,121.34 C1041.92,116.03 1047.12,109.46 1050.25,105.42 C1053.37,101.38 1054.41,99.36 1056.49,97.08 C1058.57,94.81 1061.07,92.92 1062.73,91.78 C1064.40,90.64 1065.33,90.33 1066.48,90.26 C1067.62,90.20 1068.46,90.14 1069.60,91.40 C1070.75,92.66 1072.10,94.49 1073.35,97.84 C1074.60,101.19 1075.95,105.80 1077.09,111.49 C1078.24,117.17 1079.28,124.75 1080.21,131.95 C1081.15,139.15 1081.98,148.63 1082.71,154.69 C1083.44,160.76 1084.27,166.06 1084.59,168.34" fill="none" stroke="#e0b030" stroke-width="1.3" stroke-linejoin="round" stroke-linecap="round"/>
<line x1="1061.8" y1="29.1" x2="1077.9" y2="29.1" stroke="#4a4a4a" stroke-width="1.1"/>
<text x="1079.6" y="31.4" font-size="7.15" fill="#222">W(100)/Fe(100) before cascade</text>
<line x1="1061.8" y1="37.9" x2="1077.9" y2="37.9" stroke="#ff4a4a" stroke-width="1.1"/>
<text x="1079.6" y="40.2" font-size="7.15" fill="#222">W(100)/Fe(100) after 9 cascades (Fe)</text>
<line x1="1061.8" y1="46.6" x2="1077.9" y2="46.6" stroke="#2f7df0" stroke-width="1.1"/>
<text x="1079.6" y="48.9" font-size="7.15" fill="#222">W(100)/Fe(100) after 9 cascades (W)</text>
<line x1="1061.8" y1="55.3" x2="1077.9" y2="55.3" stroke="#3cb878" stroke-width="1.1"/>
<text x="1079.6" y="57.6" font-size="7.15" fill="#222">W(110)/Fe(110) before cascade</text>
<line x1="1061.8" y1="64.2" x2="1077.9" y2="64.2" stroke="#c27df0" stroke-width="1.1"/>
<text x="1079.6" y="66.5" font-size="7.15" fill="#222">W(110)/Fe(110) after 9 cascades (Fe)</text>
<line x1="1061.8" y1="73.0" x2="1077.9" y2="73.0" stroke="#e0b030" stroke-width="1.1"/>
<text x="1079.6" y="75.3" font-size="7.15" fill="#222">W(110)/Fe(110) after 9 cascades (W)</text>
<text x="1003.9" y="40" font-size="18.8" font-weight="bold">(b)</text>
<text x="1185.6" y="153.8" font-size="13.4" font-weight="bold" text-anchor="end">W(100)/Fe(100)</text>
<text x="1185.6" y="169.9" font-size="13.4" font-weight="bold" text-anchor="end">and W(110)/Fe(110)</text>
<text transform="translate(982.5,99) rotate(-90)" font-size="12.7" text-anchor="middle" fill="#222">Stress (GPa)</text>
<text x="1094" y="198.5" font-size="12.7" text-anchor="middle" fill="#222">Strain (%)</text>
<rect x="781.2" y="206.6" width="187.2" height="150.7" fill="#fff" stroke="#5a5a5a" stroke-width="0.9"/>
<path d="M781.2,357.3 v2.6 M828.0,357.3 v2.6 M874.8,357.3 v2.6 M921.6,357.3 v2.6 M968.4,357.3 v2.6 M804.6,357.3 v1.4 M851.4,357.3 v1.4 M898.2,357.3 v1.4 M945.0,357.3 v1.4 M781.2,344.7 h-2.8 M781.2,319.6 h-2.8 M781.2,294.5 h-2.8 M781.2,269.4 h-2.8 M781.2,244.3 h-2.8 M781.2,219.2 h-2.8 M781.2,332.2 h-1.5 M781.2,307.1 h-1.5 M781.2,281.9 h-1.5 M781.2,256.8 h-1.5 M781.2,231.7 h-1.5 " stroke="#5a5a5a" stroke-width="0.9" fill="none"/>
<text x="781.2" y="370.3" font-size="9.6" text-anchor="middle" fill="#222">0.00</text>
<text x="828.0" y="370.3" font-size="9.6" text-anchor="middle" fill="#222">0.05</text>
<text x="874.8" y="370.3" font-size="9.6" text-anchor="middle" fill="#222">0.10</text>
<text x="921.6" y="370.3" font-size="9.6" text-anchor="middle" fill="#222">0.15</text>
<text x="968.4" y="370.3" font-size="9.6" text-anchor="middle" fill="#222">0.20</text>
<text x="776.2" y="347.9" font-size="9.6" text-anchor="end" fill="#222">0</text>
<text x="776.2" y="322.8" font-size="9.6" text-anchor="end" fill="#222">1</text>
<text x="776.2" y="297.7" font-size="9.6" text-anchor="end" fill="#222">2</text>
<text x="776.2" y="272.6" font-size="9.6" text-anchor="end" fill="#222">3</text>
<text x="776.2" y="247.5" font-size="9.6" text-anchor="end" fill="#222">4</text>
<text x="776.2" y="222.4" font-size="9.6" text-anchor="end" fill="#222">5</text>
<path d="M781.20,344.74 C781.51,343.82 782.29,340.97 783.07,339.22 C783.85,337.46 784.63,336.96 785.88,334.19 C787.13,331.43 788.22,328.25 790.56,322.64 C792.90,317.03 796.80,307.82 799.92,300.54 C803.04,293.25 806.47,285.17 809.28,278.94 C812.09,272.70 814.74,267.30 816.77,263.11 C818.80,258.93 820.12,256.21 821.45,253.82 C822.77,251.43 823.79,249.21 824.72,248.80 C825.66,248.38 826.21,248.50 827.06,251.31 C827.92,254.11 828.94,260.73 829.87,265.62 C830.81,270.52 831.74,276.72 832.68,280.69 C833.62,284.67 834.55,287.52 835.49,289.49 C836.42,291.45 837.36,292.08 838.30,292.50 C839.23,292.92 840.32,291.59 841.10,292.00 C841.88,292.41 842.35,294.70 842.98,294.96 C843.60,295.22 844.22,293.84 844.85,293.54 C845.47,293.25 846.10,293.20 846.72,293.20 C847.34,293.19 847.97,293.43 848.59,293.52 C849.22,293.61 849.84,293.67 850.46,293.75 C851.09,293.82 851.71,293.82 852.34,293.98 C852.96,294.14 853.58,294.45 854.21,294.72 C854.83,294.98 855.46,295.47 856.08,295.57 C856.70,295.67 857.33,295.65 857.95,295.33 C858.58,295.02 859.20,294.23 859.82,293.66 C860.45,293.09 861.07,292.22 861.70,291.89 C862.32,291.57 862.94,291.50 863.57,291.72 C864.19,291.93 864.82,292.68 865.44,293.17 C866.06,293.66 866.69,294.38 867.31,294.67 C867.94,294.96 868.56,295.00 869.18,294.92 C869.81,294.85 870.43,294.44 871.06,294.21 C871.68,293.98 872.30,293.71 872.93,293.52 C873.55,293.33 874.18,293.26 874.80,293.07 C875.42,292.88 876.05,292.64 876.67,292.40 C877.30,292.16 877.92,291.74 878.54,291.63 C879.17,291.53 879.79,291.50 880.42,291.76 C881.04,292.02 881.66,292.70 882.29,293.20 C882.91,293.70 883.54,294.50 884.16,294.77 C884.78,295.03 885.41,295.07 886.03,294.79 C886.66,294.51 887.28,293.68 887.90,293.10 C888.53,292.51 889.15,291.66 889.78,291.29 C890.40,290.92 891.02,290.81 891.65,290.87 C892.27,290.93 892.90,291.39 893.52,291.66 C894.14,291.92 894.77,292.28 895.39,292.47 C896.02,292.66 896.64,292.70 897.26,292.80 C897.89,292.90 898.51,292.96 899.14,293.06 C899.76,293.17 900.38,293.41 901.01,293.41 C901.63,293.42 902.26,293.40 902.88,293.12 C903.50,292.83 904.13,292.20 904.75,291.70 C905.38,291.20 906.00,290.40 906.62,290.11 C907.25,289.82 907.87,289.72 908.50,289.95 C909.12,290.18 909.74,290.96 910.37,291.50 C910.99,292.04 911.62,292.89 912.24,293.22 C912.86,293.55 913.49,293.62 914.11,293.48 C914.74,293.33 915.36,292.74 915.98,292.35 C916.61,291.97 917.23,291.44 917.86,291.16 C918.48,290.89 919.10,290.80 919.73,290.70 C920.35,290.60 920.98,290.63 921.60,290.57 C922.22,290.51 922.85,290.36 923.47,290.35 C924.10,290.33 924.72,290.29 925.34,290.48 C925.97,290.68 926.59,291.13 927.22,291.51 C927.84,291.89 928.46,292.54 929.09,292.75 C929.71,292.96 930.34,293.03 930.96,292.76 C931.58,292.49 932.21,291.71 932.83,291.13 C933.46,290.55 934.08,289.66 934.70,289.29 C935.33,288.92 935.95,288.79 936.58,288.91 C937.20,289.03 937.82,289.64 938.45,290.02 C939.07,290.41 939.70,290.98 940.32,291.22 C940.94,291.46 941.57,291.49 942.19,291.48 C942.82,291.47 943.44,291.25 944.06,291.17 C944.69,291.08 945.31,291.05 945.94,290.98 C946.56,290.91 947.18,290.93 947.81,290.74 C948.43,290.56 949.06,290.21 949.68,289.87 C950.30,289.53 950.93,288.94 951.55,288.72 C952.18,288.50 952.80,288.36 953.42,288.55 C954.05,288.75 954.67,289.39 955.30,289.87 C955.92,290.35 956.54,291.15 957.17,291.45 C957.79,291.74 958.42,291.83 959.04,291.64 C959.66,291.45 960.29,290.76 960.91,290.30 C961.54,289.84 962.16,289.17 962.78,288.88 C963.41,288.59 964.03,288.53 964.66,288.55 C965.28,288.57 965.90,288.88 966.53,288.99 C967.15,289.11 968.09,289.22 968.40,289.26" fill="none" stroke="#3a3a3a" stroke-width="1.1" stroke-linejoin="round" stroke-linecap="round"/>
<path d="M781.20,344.74 C781.51,343.82 782.29,340.97 783.07,339.22 C783.85,337.46 784.63,336.96 785.88,334.19 C787.13,331.43 788.22,328.33 790.56,322.64 C792.90,316.95 796.80,307.57 799.92,300.03 C803.04,292.50 806.16,284.71 809.28,277.43 C812.40,270.15 815.52,263.11 818.64,256.33 C821.76,249.55 825.66,241.47 828.00,236.74 C830.34,232.01 831.43,229.92 832.68,227.95 C833.93,225.98 834.63,224.73 835.49,224.94 C836.35,225.14 837.05,225.14 837.83,229.21 C838.61,233.27 839.39,242.60 840.17,249.30 C840.95,256.00 841.73,264.28 842.51,269.39 C843.29,274.50 843.99,277.60 844.85,279.94 C845.71,282.28 846.72,283.21 847.66,283.46 C848.59,283.71 849.68,282.07 850.46,281.45 C851.24,280.83 851.71,280.03 852.34,279.74 C852.96,279.44 853.58,279.58 854.21,279.66 C854.83,279.74 855.46,280.13 856.08,280.23 C856.70,280.34 857.33,280.44 857.95,280.29 C858.58,280.14 859.20,279.64 859.82,279.32 C860.45,279.01 861.07,278.49 861.70,278.41 C862.32,278.33 862.94,278.52 863.57,278.82 C864.19,279.13 864.82,279.86 865.44,280.24 C866.06,280.62 866.69,281.03 867.31,281.09 C867.94,281.16 868.56,280.85 869.18,280.62 C869.81,280.39 870.43,279.89 871.06,279.71 C871.68,279.53 872.30,279.51 872.93,279.52 C873.55,279.54 874.18,279.82 874.80,279.81 C875.42,279.80 876.05,279.70 876.67,279.46 C877.30,279.22 877.92,278.64 878.54,278.36 C879.17,278.07 879.79,277.72 880.42,277.76 C881.04,277.81 881.66,278.23 882.29,278.64 C882.91,279.04 883.54,279.82 884.16,280.19 C884.78,280.55 885.41,280.82 886.03,280.81 C886.66,280.81 887.28,280.39 887.90,280.15 C888.53,279.91 889.15,279.50 889.78,279.38 C890.40,279.26 891.02,279.37 891.65,279.43 C892.27,279.49 892.90,279.77 893.52,279.74 C894.14,279.70 894.77,279.49 895.39,279.22 C896.02,278.94 896.64,278.33 897.26,278.07 C897.89,277.81 898.51,277.56 899.14,277.64 C899.76,277.73 900.38,278.21 901.01,278.56 C901.63,278.92 902.26,279.54 902.88,279.76 C903.50,279.98 904.13,279.99 904.75,279.87 C905.38,279.74 906.00,279.24 906.62,279.03 C907.25,278.82 907.87,278.58 908.50,278.61 C909.12,278.63 909.74,278.99 910.37,279.20 C910.99,279.40 911.62,279.79 912.24,279.83 C912.86,279.87 913.49,279.67 914.11,279.43 C914.74,279.20 915.36,278.64 915.98,278.42 C916.61,278.19 917.23,278.03 917.86,278.08 C918.48,278.13 919.10,278.54 919.73,278.72 C920.35,278.90 920.98,279.21 921.60,279.17 C922.22,279.13 922.85,278.79 923.47,278.51 C924.10,278.22 924.72,277.63 925.34,277.46 C925.97,277.29 926.59,277.26 927.22,277.48 C927.84,277.69 928.46,278.33 929.09,278.73 C929.71,279.13 930.34,279.68 930.96,279.86 C931.58,280.04 932.21,279.93 932.83,279.80 C933.46,279.68 934.08,279.25 934.70,279.10 C935.33,278.95 935.95,278.88 936.58,278.88 C937.20,278.87 937.82,279.13 938.45,279.09 C939.07,279.04 939.70,278.94 940.32,278.61 C940.94,278.28 941.57,277.57 942.19,277.11 C942.82,276.65 943.44,275.99 944.06,275.85 C944.69,275.71 945.31,275.90 945.94,276.27 C946.56,276.65 947.18,277.53 947.81,278.09 C948.43,278.65 949.06,279.34 949.68,279.66 C950.30,279.97 950.93,279.98 951.55,279.99 C952.18,280.00 952.80,279.76 953.42,279.71 C954.05,279.65 954.67,279.70 955.30,279.66 C955.92,279.63 956.54,279.73 957.17,279.48 C957.79,279.24 958.42,278.76 959.04,278.18 C959.66,277.60 960.29,276.59 960.91,276.00 C961.54,275.41 962.16,274.74 962.78,274.64 C963.41,274.53 964.03,274.89 964.66,275.37 C965.28,275.84 965.90,276.84 966.53,277.48 C967.15,278.12 968.09,278.92 968.40,279.21" fill="none" stroke="#1f6ff0" stroke-width="1.2" stroke-linejoin="round" stroke-linecap="round"/>
<path d="M781.20,344.74 C781.75,343.70 783.38,338.59 784.48,338.46 C785.57,338.33 786.97,342.69 787.75,343.95 C788.53,345.21 788.69,345.42 789.16,346.02 C789.62,346.62 790.09,347.20 790.56,347.53 C791.03,347.86 791.50,348.03 791.96,347.99 C792.43,347.94 792.90,347.65 793.37,347.25 C793.84,346.86 794.30,346.21 794.77,345.61 C795.24,345.01 795.71,344.24 796.18,343.64 C796.64,343.04 797.11,342.41 797.58,342.02 C798.05,341.62 798.52,341.34 798.98,341.27 C799.45,341.20 799.92,341.34 800.39,341.60 C800.86,341.86 801.32,342.35 801.79,342.83 C802.26,343.30 802.73,343.95 803.20,344.46 C803.66,344.96 804.13,345.51 804.60,345.86 C805.07,346.20 805.54,346.46 806.00,346.51 C806.47,346.57 806.94,346.44 807.41,346.19 C807.88,345.95 808.34,345.48 808.81,345.03 C809.28,344.58 809.75,343.96 810.22,343.47 C810.68,342.99 811.15,342.45 811.62,342.12 C812.09,341.79 812.56,341.54 813.02,341.50 C813.49,341.46 813.96,341.60 814.43,341.87 C814.90,342.14 815.36,342.63 815.83,343.13 C816.30,343.64 816.77,344.31 817.24,344.87 C817.70,345.43 818.17,346.07 818.64,346.49 C819.11,346.92 819.58,347.28 820.04,347.43 C820.51,347.57 820.98,347.55 821.45,347.36 C821.92,347.18 822.38,346.77 822.85,346.32 C823.32,345.86 823.79,345.21 824.26,344.65 C824.72,344.09 825.19,343.42 825.66,342.93 C826.13,342.45 826.60,341.99 827.06,341.74 C827.53,341.49 828.00,341.38 828.47,341.44 C828.94,341.50 829.40,341.77 829.87,342.10 C830.34,342.43 830.81,342.96 831.28,343.43 C831.74,343.90 832.21,344.49 832.68,344.93 C833.15,345.36 833.62,345.79 834.08,346.03 C834.55,346.27 835.02,346.40 835.49,346.36 C835.96,346.32 836.42,346.10 836.89,345.80 C837.36,345.51 837.83,345.03 838.30,344.59 C838.76,344.15 839.23,343.60 839.70,343.19 C840.17,342.78 840.64,342.36 841.10,342.14 C841.57,341.91 842.04,341.79 842.51,341.84 C842.98,341.89 843.44,342.12 843.91,342.43 C844.38,342.75 844.85,343.26 845.32,343.73 C845.78,344.21 846.25,344.82 846.72,345.29 C847.19,345.77 847.66,346.27 848.12,346.57 C848.59,346.88 849.06,347.10 849.53,347.13 C850.00,347.17 850.46,347.03 850.93,346.77 C851.40,346.52 851.87,346.07 852.34,345.62 C852.80,345.17 853.27,344.57 853.74,344.07 C854.21,343.58 854.68,343.02 855.14,342.65 C855.61,342.27 856.08,341.95 856.55,341.82 C857.02,341.68 857.48,341.69 857.95,341.83 C858.42,341.97 858.89,342.29 859.36,342.64 C859.82,342.99 860.29,343.50 860.76,343.92 C861.23,344.35 861.70,344.85 862.16,345.19 C862.63,345.54 863.10,345.85 863.57,345.99 C864.04,346.14 864.50,346.15 864.97,346.05 C865.44,345.95 865.91,345.67 866.38,345.37 C866.84,345.06 867.31,344.61 867.78,344.22 C868.25,343.84 868.72,343.38 869.18,343.06 C869.65,342.74 870.12,342.45 870.59,342.33 C871.06,342.20 871.52,342.19 871.99,342.31 C872.46,342.43 872.93,342.71 873.40,343.03 C873.86,343.36 874.33,343.84 874.80,344.25 C875.27,344.67 875.74,345.18 876.20,345.54 C876.67,345.90 877.14,346.25 877.61,346.43 C878.08,346.61 878.54,346.68 879.01,346.61 C879.48,346.54 879.95,346.31 880.42,346.01 C880.88,345.71 881.35,345.25 881.82,344.83 C882.29,344.41 882.76,343.89 883.22,343.49 C883.69,343.09 884.16,342.67 884.63,342.43 C885.10,342.19 885.56,342.03 886.03,342.02 C886.50,342.01 886.97,342.16 887.44,342.38 C887.90,342.61 888.37,343.00 888.84,343.37 C889.31,343.74 889.78,344.23 890.24,344.61 C890.71,344.99 891.18,345.40 891.65,345.66 C892.12,345.92 892.58,346.11 893.05,346.15 C893.52,346.19 893.99,346.10 894.46,345.91 C894.92,345.73 895.39,345.38 895.86,345.04 C896.33,344.70 896.80,344.23 897.26,343.86 C897.73,343.48 898.20,343.06 898.67,342.79 C899.14,342.51 899.60,342.29 900.07,342.22 C900.54,342.14 901.01,342.20 901.48,342.35 C901.94,342.50 902.41,342.81 902.88,343.14 C903.35,343.46 903.82,343.92 904.28,344.30 C904.75,344.68 905.22,345.13 905.69,345.44 C906.16,345.75 906.62,346.03 907.09,346.16 C907.56,346.30 908.03,346.32 908.50,346.24 C908.96,346.16 909.43,345.93 909.90,345.66 C910.37,345.40 910.84,345.01 911.30,344.66 C911.77,344.32 912.24,343.91 912.71,343.61 C913.18,343.31 913.64,343.03 914.11,342.88 C914.58,342.73 915.05,342.66 915.52,342.71 C915.98,342.75 916.45,342.93 916.92,343.14 C917.39,343.36 917.86,343.69 918.32,343.98 C918.79,344.28 919.26,344.64 919.73,344.90 C920.20,345.15 920.66,345.40 921.13,345.52 C921.60,345.63 922.07,345.66 922.54,345.59 C923.00,345.52 923.47,345.31 923.94,345.07 C924.41,344.83 924.88,344.47 925.34,344.14 C925.81,343.82 926.28,343.42 926.75,343.13 C927.22,342.84 927.68,342.56 928.15,342.42 C928.62,342.27 929.09,342.21 929.56,342.28 C930.02,342.34 930.49,342.54 930.96,342.80 C931.43,343.05 931.90,343.45 932.36,343.83 C932.83,344.20 933.30,344.67 933.77,345.05 C934.24,345.42 934.70,345.81 935.17,346.06 C935.64,346.31 936.11,346.49 936.58,346.54 C937.04,346.58 937.51,346.50 937.98,346.33 C938.45,346.17 938.92,345.85 939.38,345.53 C939.85,345.21 940.32,344.77 940.79,344.40 C941.26,344.02 941.72,343.61 942.19,343.31 C942.66,343.01 943.13,342.74 943.60,342.60 C944.06,342.47 944.53,342.43 945.00,342.48 C945.47,342.53 945.94,342.72 946.40,342.92 C946.87,343.13 947.34,343.45 947.81,343.73 C948.28,344.01 948.74,344.34 949.21,344.58 C949.68,344.82 950.15,345.04 950.62,345.16 C951.08,345.28 951.55,345.32 952.02,345.28 C952.49,345.24 952.96,345.09 953.42,344.92 C953.89,344.76 954.36,344.49 954.83,344.27 C955.30,344.05 955.76,343.78 956.23,343.60 C956.70,343.42 957.17,343.26 957.64,343.20 C958.10,343.14 958.57,343.15 959.04,343.25 C959.51,343.34 959.98,343.53 960.44,343.75 C960.91,343.97 961.38,344.28 961.85,344.54 C962.32,344.80 962.78,345.11 963.25,345.32 C963.72,345.53 964.19,345.72 964.66,345.79 C965.12,345.86 965.59,345.86 966.06,345.76 C966.53,345.66 967.23,345.29 967.46,345.19" fill="none" stroke="#ff4040" stroke-width="1.1" stroke-linejoin="round" stroke-linecap="round"/>
<path d="M781.20,344.74 C781.75,343.70 783.38,338.72 784.48,338.46 C785.57,338.20 786.97,342.25 787.75,343.17 C788.53,344.09 788.69,343.76 789.16,343.98 C789.62,344.21 790.09,344.41 790.56,344.52 C791.03,344.62 791.50,344.65 791.96,344.59 C792.43,344.54 792.90,344.38 793.37,344.19 C793.84,343.99 794.30,343.70 794.77,343.44 C795.24,343.17 795.71,342.84 796.18,342.59 C796.64,342.34 797.11,342.09 797.58,341.94 C798.05,341.79 798.52,341.69 798.98,341.69 C799.45,341.69 799.92,341.79 800.39,341.94 C800.86,342.10 801.32,342.35 801.79,342.61 C802.26,342.87 802.73,343.20 803.20,343.48 C803.66,343.76 804.13,344.06 804.60,344.27 C805.07,344.48 805.54,344.66 806.00,344.73 C806.47,344.80 806.94,344.79 807.41,344.71 C807.88,344.63 808.34,344.44 808.81,344.23 C809.28,344.02 809.75,343.71 810.22,343.45 C810.68,343.19 811.15,342.87 811.62,342.64 C812.09,342.42 812.56,342.20 813.02,342.09 C813.49,341.97 813.96,341.93 814.43,341.97 C814.90,342.00 815.36,342.14 815.83,342.31 C816.30,342.48 816.77,342.74 817.24,342.98 C817.70,343.21 818.17,343.51 818.64,343.72 C819.11,343.93 819.58,344.14 820.04,344.25 C820.51,344.35 820.98,344.40 821.45,344.35 C821.92,344.31 822.38,344.16 822.85,343.98 C823.32,343.80 823.79,343.52 824.26,343.27 C824.72,343.02 825.19,342.70 825.66,342.48 C826.13,342.25 826.60,342.02 827.06,341.91 C827.53,341.80 828.00,341.75 828.47,341.81 C828.94,341.86 829.40,342.03 829.87,342.24 C830.34,342.45 830.81,342.78 831.28,343.08 C831.74,343.38 832.21,343.76 832.68,344.04 C833.15,344.33 833.62,344.62 834.08,344.79 C834.55,344.96 835.02,345.07 835.49,345.05 C835.96,345.04 836.42,344.91 836.89,344.72 C837.36,344.53 837.83,344.21 838.30,343.90 C838.76,343.59 839.23,343.19 839.70,342.87 C840.17,342.55 840.64,342.20 841.10,341.98 C841.57,341.76 842.04,341.58 842.51,341.53 C842.98,341.48 843.44,341.53 843.91,341.66 C844.38,341.79 844.85,342.05 845.32,342.30 C845.78,342.56 846.25,342.92 846.72,343.20 C847.19,343.49 847.66,343.82 848.12,344.03 C848.59,344.25 849.06,344.42 849.53,344.49 C850.00,344.56 850.46,344.53 850.93,344.43 C851.40,344.34 851.87,344.13 852.34,343.92 C852.80,343.70 853.27,343.40 853.74,343.16 C854.21,342.92 854.68,342.64 855.14,342.47 C855.61,342.30 856.08,342.16 856.55,342.12 C857.02,342.08 857.48,342.13 857.95,342.24 C858.42,342.35 858.89,342.57 859.36,342.79 C859.82,343.01 860.29,343.31 860.76,343.56 C861.23,343.80 861.70,344.07 862.16,344.24 C862.63,344.41 863.10,344.55 863.57,344.58 C864.04,344.62 864.50,344.57 864.97,344.45 C865.44,344.33 865.91,344.11 866.38,343.87 C866.84,343.64 867.31,343.32 867.78,343.06 C868.25,342.79 868.72,342.49 869.18,342.29 C869.65,342.08 870.12,341.90 870.59,341.83 C871.06,341.75 871.52,341.75 871.99,341.83 C872.46,341.90 872.93,342.08 873.40,342.28 C873.86,342.48 874.33,342.77 874.80,343.03 C875.27,343.28 875.74,343.58 876.20,343.80 C876.67,344.02 877.14,344.23 877.61,344.34 C878.08,344.45 878.54,344.50 879.01,344.48 C879.48,344.45 879.95,344.33 880.42,344.19 C880.88,344.04 881.35,343.80 881.82,343.59 C882.29,343.37 882.76,343.11 883.22,342.91 C883.69,342.70 884.16,342.50 884.63,342.38 C885.10,342.27 885.56,342.20 886.03,342.20 C886.50,342.21 886.97,342.29 887.44,342.41 C887.90,342.54 888.37,342.74 888.84,342.94 C889.31,343.13 889.78,343.38 890.24,343.57 C890.71,343.76 891.18,343.97 891.65,344.09 C892.12,344.22 892.58,344.30 893.05,344.31 C893.52,344.32 893.99,344.26 894.46,344.15 C894.92,344.04 895.39,343.85 895.86,343.66 C896.33,343.47 896.80,343.21 897.26,343.01 C897.73,342.80 898.20,342.57 898.67,342.42 C899.14,342.27 899.60,342.15 900.07,342.10 C900.54,342.06 901.01,342.08 901.48,342.16 C901.94,342.23 902.41,342.39 902.88,342.56 C903.35,342.73 903.82,342.97 904.28,343.18 C904.75,343.38 905.22,343.62 905.69,343.78 C906.16,343.95 906.62,344.10 907.09,344.17 C907.56,344.24 908.03,344.26 908.50,344.21 C908.96,344.17 909.43,344.04 909.90,343.90 C910.37,343.76 910.84,343.55 911.30,343.37 C911.77,343.19 912.24,342.97 912.71,342.82 C913.18,342.66 913.64,342.52 914.11,342.46 C914.58,342.39 915.05,342.38 915.52,342.42 C915.98,342.47 916.45,342.60 916.92,342.74 C917.39,342.88 917.86,343.09 918.32,343.28 C918.79,343.46 919.26,343.68 919.73,343.84 C920.20,343.99 920.66,344.13 921.13,344.20 C921.60,344.26 922.07,344.26 922.54,344.21 C923.00,344.15 923.47,344.01 923.94,343.84 C924.41,343.68 924.88,343.44 925.34,343.23 C925.81,343.01 926.28,342.75 926.75,342.56 C927.22,342.38 927.68,342.19 928.15,342.09 C928.62,341.99 929.09,341.95 929.56,341.98 C930.02,342.01 930.49,342.12 930.96,342.26 C931.43,342.41 931.90,342.64 932.36,342.85 C932.83,343.06 933.30,343.33 933.77,343.54 C934.24,343.75 934.70,343.97 935.17,344.10 C935.64,344.24 936.11,344.34 936.58,344.36 C937.04,344.39 937.51,344.34 937.98,344.25 C938.45,344.17 938.92,344.00 939.38,343.84 C939.85,343.68 940.32,343.47 940.79,343.30 C941.26,343.13 941.72,342.95 942.19,342.83 C942.66,342.71 943.13,342.62 943.60,342.58 C944.06,342.55 944.53,342.57 945.00,342.63 C945.47,342.68 945.94,342.80 946.40,342.91 C946.87,343.02 947.34,343.17 947.81,343.28 C948.28,343.40 948.74,343.52 949.21,343.59 C949.68,343.66 950.15,343.71 950.62,343.71 C951.08,343.70 951.55,343.65 952.02,343.57 C952.49,343.50 952.96,343.37 953.42,343.25 C953.89,343.14 954.36,342.98 954.83,342.87 C955.30,342.76 955.76,342.64 956.23,342.58 C956.70,342.51 957.17,342.48 957.64,342.49 C958.10,342.50 958.57,342.56 959.04,342.65 C959.51,342.74 959.98,342.88 960.44,343.02 C960.91,343.15 961.38,343.33 961.85,343.48 C962.32,343.62 962.78,343.78 963.25,343.89 C963.72,344.00 964.19,344.09 964.66,344.13 C965.12,344.16 965.59,344.16 966.06,344.12 C966.53,344.08 967.23,343.93 967.46,343.89" fill="none" stroke="#22aa55" stroke-width="1.1" stroke-linejoin="round" stroke-linecap="round"/>
<line x1="845.6" y1="218.2" x2="863.5" y2="218.2" stroke="#3a3a3a" stroke-width="1.2"/>
<text x="865.7" y="220.7" font-size="7.8" fill="#222">W(100)/Fe(100) x direction</text>
<line x1="845.6" y1="227.7" x2="863.5" y2="227.7" stroke="#1f6ff0" stroke-width="1.2"/>
<text x="865.7" y="230.2" font-size="7.8" fill="#222">W(100)/Fe(100) x+z+ direction</text>
<line x1="845.6" y1="237.4" x2="863.5" y2="237.4" stroke="#ff4040" stroke-width="1.2"/>
<text x="865.7" y="239.9" font-size="7.8" fill="#222">W(110)/Fe(110) x direction</text>
<line x1="845.6" y1="247.2" x2="863.5" y2="247.2" stroke="#22aa55" stroke-width="1.2"/>
<text x="865.7" y="249.7" font-size="7.8" fill="#222">W(110)/Fe(110) x+z+ direction</text>
<text x="785.2" y="223.7" font-size="18.8" font-weight="bold">(c)</text>
<text x="965.4" y="355" font-size="13.3" font-weight="bold" text-anchor="end">Shear before cascade</text>
<text transform="translate(766,282) rotate(-90)" font-size="12.7" text-anchor="middle" fill="#222">Stress (GPa)</text>
<text x="875" y="382.5" font-size="12.7" text-anchor="middle" fill="#222">Shear Strain</text>
<rect x="1000.8" y="206.3" width="186.6" height="150.2" fill="#fff" stroke="#5a5a5a" stroke-width="0.9"/>
<path d="M1000.8,356.5 v2.6 M1047.5,356.5 v2.6 M1094.1,356.5 v2.6 M1140.8,356.5 v2.6 M1187.4,356.5 v2.6 M1024.1,356.5 v1.4 M1070.8,356.5 v1.4 M1117.4,356.5 v1.4 M1164.1,356.5 v1.4 M1000.8,356.5 h-2.8 M1000.8,329.1 h-2.8 M1000.8,301.7 h-2.8 M1000.8,274.3 h-2.8 M1000.8,246.9 h-2.8 M1000.8,219.5 h-2.8 M1000.8,342.8 h-1.5 M1000.8,315.4 h-1.5 M1000.8,288.0 h-1.5 M1000.8,260.6 h-1.5 M1000.8,233.2 h-1.5 " stroke="#5a5a5a" stroke-width="0.9" fill="none"/>
<text x="1000.8" y="369.5" font-size="9.6" text-anchor="middle" fill="#222">0.00</text>
<text x="1047.5" y="369.5" font-size="9.6" text-anchor="middle" fill="#222">0.05</text>
<text x="1094.1" y="369.5" font-size="9.6" text-anchor="middle" fill="#222">0.10</text>
<text x="1140.8" y="369.5" font-size="9.6" text-anchor="middle" fill="#222">0.15</text>
<text x="1187.4" y="369.5" font-size="9.6" text-anchor="middle" fill="#222">0.20</text>
<text x="995.8" y="359.7" font-size="9.6" text-anchor="end" fill="#222">0</text>
<text x="995.8" y="332.3" font-size="9.6" text-anchor="end" fill="#222">1</text>
<text x="995.8" y="304.9" font-size="9.6" text-anchor="end" fill="#222">2</text>
<text x="995.8" y="277.5" font-size="9.6" text-anchor="end" fill="#222">3</text>
<text x="995.8" y="250.1" font-size="9.6" text-anchor="end" fill="#222">4</text>
<text x="995.8" y="222.7" font-size="9.6" text-anchor="end" fill="#222">5</text>
<path d="M1000.80,356.50 C1002.36,352.48 1007.02,340.42 1010.13,332.38 C1013.24,324.34 1016.35,316.21 1019.46,308.26 C1022.57,300.31 1025.99,291.50 1028.79,284.69 C1031.59,277.88 1034.23,271.99 1036.25,267.42 C1038.28,262.85 1039.60,259.88 1040.92,257.28 C1042.24,254.68 1043.25,252.26 1044.18,251.80 C1045.12,251.34 1045.66,251.48 1046.52,254.54 C1047.37,257.60 1048.38,264.82 1049.32,270.16 C1050.25,275.51 1051.18,282.27 1052.12,286.61 C1053.05,290.95 1053.98,294.05 1054.91,296.20 C1055.85,298.35 1056.78,299.03 1057.71,299.49 C1058.65,299.95 1059.73,298.45 1060.51,298.94 C1061.29,299.43 1061.76,302.22 1062.38,302.42 C1063.00,302.62 1063.62,300.61 1064.24,300.14 C1064.87,299.68 1065.49,299.61 1066.11,299.62 C1066.73,299.63 1067.35,300.02 1067.98,300.19 C1068.60,300.35 1069.22,300.46 1069.84,300.60 C1070.46,300.74 1071.09,300.74 1071.71,301.02 C1072.33,301.30 1072.95,301.83 1073.57,302.27 C1074.20,302.72 1074.82,303.52 1075.44,303.70 C1076.06,303.89 1076.68,303.87 1077.31,303.36 C1077.93,302.86 1078.55,301.59 1079.17,300.66 C1079.79,299.74 1080.42,298.33 1081.04,297.81 C1081.66,297.29 1082.28,297.20 1082.90,297.56 C1083.53,297.92 1084.15,299.16 1084.77,299.98 C1085.39,300.80 1086.01,301.99 1086.64,302.48 C1087.26,302.97 1087.88,303.05 1088.50,302.93 C1089.12,302.82 1089.75,302.18 1090.37,301.81 C1090.99,301.44 1091.61,301.02 1092.23,300.72 C1092.86,300.42 1093.48,300.32 1094.10,300.03 C1094.72,299.73 1095.34,299.34 1095.97,298.96 C1096.59,298.59 1097.21,297.91 1097.83,297.75 C1098.45,297.59 1099.08,297.56 1099.70,298.00 C1100.32,298.44 1100.94,299.56 1101.56,300.40 C1102.19,301.23 1102.81,302.56 1103.43,303.00 C1104.05,303.45 1104.67,303.52 1105.30,303.08 C1105.92,302.64 1106.54,301.29 1107.16,300.35 C1107.78,299.41 1108.41,298.04 1109.03,297.44 C1109.65,296.85 1110.27,296.68 1110.89,296.79 C1111.52,296.91 1112.14,297.67 1112.76,298.12 C1113.38,298.57 1114.00,299.17 1114.63,299.50 C1115.25,299.82 1115.87,299.90 1116.49,300.07 C1117.11,300.25 1117.74,300.36 1118.36,300.55 C1118.98,300.73 1119.60,301.13 1120.22,301.16 C1120.85,301.19 1121.47,301.17 1122.09,300.71 C1122.71,300.26 1123.33,299.24 1123.96,298.43 C1124.58,297.62 1125.20,296.34 1125.82,295.87 C1126.44,295.41 1127.07,295.26 1127.69,295.65 C1128.31,296.05 1128.93,297.33 1129.55,298.23 C1130.18,299.14 1130.80,300.53 1131.42,301.08 C1132.04,301.63 1132.66,301.77 1133.29,301.55 C1133.91,301.33 1134.53,300.37 1135.15,299.75 C1135.77,299.13 1136.40,298.28 1137.02,297.85 C1137.64,297.41 1138.26,297.28 1138.88,297.13 C1139.51,296.98 1140.13,297.04 1140.75,296.96 C1141.37,296.87 1141.99,296.64 1142.62,296.63 C1143.24,296.62 1143.86,296.56 1144.48,296.89 C1145.10,297.22 1145.73,297.98 1146.35,298.61 C1146.97,299.25 1147.59,300.33 1148.21,300.69 C1148.84,301.04 1149.46,301.17 1150.08,300.74 C1150.70,300.31 1151.32,299.05 1151.95,298.12 C1152.57,297.19 1153.19,295.74 1153.81,295.15 C1154.43,294.56 1155.06,294.35 1155.68,294.57 C1156.30,294.78 1156.92,295.79 1157.54,296.43 C1158.17,297.07 1158.79,298.01 1159.41,298.42 C1160.03,298.83 1160.65,298.89 1161.28,298.89 C1161.90,298.89 1162.52,298.54 1163.14,298.42 C1163.76,298.30 1164.39,298.26 1165.01,298.16 C1165.63,298.05 1166.25,298.10 1166.87,297.81 C1167.50,297.52 1168.12,296.96 1168.74,296.42 C1169.36,295.88 1169.98,294.93 1170.61,294.58 C1171.23,294.24 1171.85,294.02 1172.47,294.35 C1173.09,294.68 1173.72,295.74 1174.34,296.54 C1174.96,297.34 1175.58,298.67 1176.20,299.17 C1176.83,299.66 1177.45,299.82 1178.07,299.52 C1178.69,299.22 1179.31,298.11 1179.94,297.37 C1180.56,296.63 1181.18,295.55 1181.80,295.09 C1182.42,294.62 1183.05,294.55 1183.67,294.59 C1184.29,294.64 1184.91,295.15 1185.53,295.36 C1186.16,295.56 1187.09,295.76 1187.40,295.84" fill="none" stroke="#4a4a4a" stroke-width="1.0" stroke-linejoin="round" stroke-linecap="round"/>
<path d="M1000.80,356.50 C1002.36,352.48 1007.02,340.42 1010.13,332.38 C1013.24,324.34 1016.35,316.12 1019.46,308.26 C1022.57,300.40 1025.99,291.82 1028.79,285.24 C1031.59,278.66 1034.23,272.90 1036.25,268.79 C1038.28,264.68 1039.67,262.49 1040.92,260.57 C1042.16,258.65 1042.86,257.28 1043.72,257.28 C1044.57,257.28 1045.27,257.74 1046.05,260.57 C1046.83,263.40 1047.53,269.71 1048.38,274.27 C1049.24,278.84 1050.25,284.87 1051.18,287.98 C1052.12,291.08 1053.05,292.00 1053.98,292.91 C1054.91,293.83 1056.00,292.96 1056.78,293.46 C1057.56,293.96 1058.02,295.58 1058.65,295.90 C1059.27,296.21 1059.89,295.61 1060.51,295.35 C1061.13,295.10 1061.76,294.62 1062.38,294.37 C1063.00,294.12 1063.62,293.94 1064.24,293.88 C1064.87,293.82 1065.49,293.95 1066.11,294.01 C1066.73,294.06 1067.35,294.16 1067.98,294.20 C1068.60,294.24 1069.22,294.20 1069.84,294.24 C1070.46,294.29 1071.09,294.35 1071.71,294.46 C1072.33,294.57 1072.95,294.82 1073.57,294.89 C1074.20,294.96 1074.82,295.03 1075.44,294.88 C1076.06,294.72 1076.68,294.30 1077.31,293.97 C1077.93,293.63 1078.55,293.05 1079.17,292.85 C1079.79,292.65 1080.42,292.60 1081.04,292.78 C1081.66,292.96 1082.28,293.55 1082.90,293.93 C1083.53,294.31 1084.15,294.90 1084.77,295.05 C1085.39,295.20 1086.01,295.09 1086.64,294.84 C1087.26,294.59 1087.88,293.93 1088.50,293.55 C1089.12,293.16 1089.75,292.68 1090.37,292.51 C1090.99,292.35 1091.61,292.44 1092.23,292.53 C1092.86,292.62 1093.48,292.94 1094.10,293.06 C1094.72,293.19 1095.34,293.26 1095.97,293.28 C1096.59,293.30 1097.21,293.18 1097.83,293.18 C1098.45,293.18 1099.08,293.22 1099.70,293.29 C1100.32,293.37 1100.94,293.58 1101.56,293.64 C1102.19,293.69 1102.81,293.72 1103.43,293.62 C1104.05,293.51 1104.67,293.21 1105.30,293.01 C1105.92,292.80 1106.54,292.50 1107.16,292.39 C1107.78,292.27 1108.41,292.31 1109.03,292.33 C1109.65,292.34 1110.27,292.52 1110.89,292.49 C1111.52,292.47 1112.14,292.34 1112.76,292.18 C1113.38,292.01 1114.00,291.62 1114.63,291.51 C1115.25,291.40 1115.87,291.32 1116.49,291.52 C1117.11,291.72 1117.74,292.28 1118.36,292.70 C1118.98,293.12 1119.60,293.81 1120.22,294.04 C1120.85,294.27 1121.47,294.31 1122.09,294.05 C1122.71,293.80 1123.33,293.06 1123.96,292.51 C1124.58,291.96 1125.20,291.16 1125.82,290.76 C1126.44,290.36 1127.07,290.15 1127.69,290.12 C1128.31,290.10 1128.93,290.41 1129.55,290.62 C1130.18,290.83 1130.80,291.16 1131.42,291.37 C1132.04,291.58 1132.66,291.73 1133.29,291.89 C1133.91,292.06 1134.53,292.21 1135.15,292.36 C1135.77,292.50 1136.40,292.73 1137.02,292.77 C1137.64,292.81 1138.26,292.79 1138.88,292.59 C1139.51,292.39 1140.13,291.94 1140.75,291.58 C1141.37,291.23 1141.99,290.70 1142.62,290.46 C1143.24,290.22 1143.86,290.12 1144.48,290.15 C1145.10,290.18 1145.73,290.49 1146.35,290.63 C1146.97,290.76 1147.59,290.94 1148.21,290.93 C1148.84,290.93 1149.46,290.69 1150.08,290.58 C1150.70,290.47 1151.32,290.22 1151.95,290.27 C1152.57,290.32 1153.19,290.58 1153.81,290.87 C1154.43,291.16 1155.06,291.77 1155.68,292.02 C1156.30,292.27 1156.92,292.50 1157.54,292.36 C1158.17,292.23 1158.79,291.71 1159.41,291.24 C1160.03,290.77 1160.65,289.98 1161.28,289.56 C1161.90,289.15 1162.52,288.82 1163.14,288.75 C1163.76,288.68 1164.39,288.94 1165.01,289.14 C1165.63,289.34 1166.25,289.74 1166.87,289.96 C1167.50,290.18 1168.12,290.35 1168.74,290.49 C1169.36,290.62 1169.98,290.69 1170.61,290.76 C1171.23,290.84 1171.85,290.96 1172.47,290.96 C1173.09,290.96 1173.72,290.94 1174.34,290.75 C1174.96,290.57 1175.58,290.17 1176.20,289.84 C1176.83,289.52 1177.45,289.00 1178.07,288.79 C1178.69,288.59 1179.31,288.50 1179.94,288.61 C1180.56,288.72 1181.18,289.19 1181.80,289.46 C1182.42,289.74 1183.05,290.17 1183.67,290.26 C1184.29,290.35 1184.91,290.20 1185.53,289.99 C1186.16,289.77 1187.09,289.16 1187.40,289.00" fill="none" stroke="#c27df0" stroke-width="1.1" stroke-linejoin="round" stroke-linecap="round"/>
<path d="M1000.80,356.50 C1002.36,352.48 1007.02,340.42 1010.13,332.38 C1013.24,324.34 1016.35,316.03 1019.46,308.26 C1022.57,300.49 1025.99,292.14 1028.79,285.79 C1031.59,279.44 1034.39,274.00 1036.25,270.16 C1038.12,266.33 1038.98,264.45 1039.99,262.76 C1041.00,261.07 1041.54,259.93 1042.32,260.02 C1043.10,260.11 1043.87,260.71 1044.65,263.31 C1045.43,265.91 1046.21,271.30 1046.98,275.64 C1047.76,279.98 1048.46,286.01 1049.32,289.35 C1050.17,292.68 1051.18,294.28 1052.12,295.65 C1053.05,297.02 1054.14,297.06 1054.91,297.57 C1055.69,298.08 1056.16,298.61 1056.78,298.72 C1057.40,298.83 1058.02,298.17 1058.65,298.23 C1059.27,298.29 1059.89,298.81 1060.51,299.10 C1061.13,299.39 1061.76,299.85 1062.38,299.97 C1063.00,300.10 1063.62,299.95 1064.24,299.85 C1064.87,299.75 1065.49,299.43 1066.11,299.38 C1066.73,299.33 1067.35,299.45 1067.98,299.53 C1068.60,299.62 1069.22,299.93 1069.84,299.90 C1070.46,299.87 1071.09,299.67 1071.71,299.35 C1072.33,299.03 1072.95,298.32 1073.57,297.97 C1074.20,297.62 1074.82,297.23 1075.44,297.26 C1076.06,297.29 1076.68,297.76 1077.31,298.16 C1077.93,298.56 1078.55,299.35 1079.17,299.67 C1079.79,299.99 1080.42,300.18 1081.04,300.09 C1081.66,300.00 1082.28,299.46 1082.90,299.14 C1083.53,298.81 1084.15,298.28 1084.77,298.13 C1085.39,297.98 1086.01,298.07 1086.64,298.21 C1087.26,298.36 1087.88,298.82 1088.50,299.00 C1089.12,299.17 1089.75,299.35 1090.37,299.29 C1090.99,299.22 1091.61,298.90 1092.23,298.62 C1092.86,298.34 1093.48,297.87 1094.10,297.61 C1094.72,297.36 1095.34,297.14 1095.97,297.10 C1096.59,297.07 1097.21,297.21 1097.83,297.42 C1098.45,297.62 1099.08,298.03 1099.70,298.35 C1100.32,298.67 1100.94,299.13 1101.56,299.34 C1102.19,299.55 1102.81,299.72 1103.43,299.62 C1104.05,299.53 1104.67,299.14 1105.30,298.76 C1105.92,298.38 1106.54,297.68 1107.16,297.33 C1107.78,296.98 1108.41,296.65 1109.03,296.66 C1109.65,296.66 1110.27,297.07 1110.89,297.36 C1111.52,297.66 1112.14,298.28 1112.76,298.45 C1113.38,298.63 1114.00,298.62 1114.63,298.41 C1115.25,298.20 1115.87,297.53 1116.49,297.21 C1117.11,296.88 1117.74,296.44 1118.36,296.46 C1118.98,296.48 1119.60,296.92 1120.22,297.32 C1120.85,297.72 1121.47,298.55 1122.09,298.85 C1122.71,299.15 1123.33,299.31 1123.96,299.14 C1124.58,298.97 1125.20,298.28 1125.82,297.85 C1126.44,297.41 1127.07,296.76 1127.69,296.53 C1128.31,296.30 1128.93,296.39 1129.55,296.49 C1130.18,296.58 1130.80,297.00 1131.42,297.10 C1132.04,297.19 1132.66,297.16 1133.29,297.06 C1133.91,296.96 1134.53,296.57 1135.15,296.52 C1135.77,296.47 1136.40,296.52 1137.02,296.77 C1137.64,297.02 1138.26,297.70 1138.88,298.00 C1139.51,298.31 1140.13,298.70 1140.75,298.60 C1141.37,298.50 1141.99,297.88 1142.62,297.40 C1143.24,296.93 1143.86,296.00 1144.48,295.73 C1145.10,295.46 1145.73,295.50 1146.35,295.79 C1146.97,296.09 1147.59,297.09 1148.21,297.50 C1148.84,297.92 1149.46,298.42 1150.08,298.26 C1150.70,298.09 1151.32,297.18 1151.95,296.51 C1152.57,295.84 1153.19,294.56 1153.81,294.25 C1154.43,293.94 1155.06,294.07 1155.68,294.63 C1156.30,295.18 1156.92,296.76 1157.54,297.59 C1158.17,298.41 1158.79,299.51 1159.41,299.60 C1160.03,299.70 1160.65,298.92 1161.28,298.16 C1161.90,297.40 1162.52,295.74 1163.14,295.05 C1163.76,294.37 1164.39,293.89 1165.01,294.03 C1165.63,294.17 1166.25,295.28 1166.87,295.88 C1167.50,296.49 1168.12,297.50 1168.74,297.67 C1169.36,297.83 1169.98,297.36 1170.61,296.88 C1171.23,296.40 1171.85,295.20 1172.47,294.79 C1173.09,294.39 1173.72,294.18 1174.34,294.43 C1174.96,294.67 1175.58,295.71 1176.20,296.26 C1176.83,296.81 1177.45,297.60 1178.07,297.71 C1178.69,297.82 1179.31,297.34 1179.94,296.93 C1180.56,296.52 1181.18,295.58 1181.80,295.27 C1182.42,294.97 1183.05,294.94 1183.67,295.09 C1184.29,295.25 1184.91,296.00 1185.53,296.20 C1186.16,296.40 1187.09,296.28 1187.40,296.29" fill="none" stroke="#1f6ff0" stroke-width="1.1" stroke-linejoin="round" stroke-linecap="round"/>
<path d="M1000.80,356.50 C1002.36,352.48 1007.02,340.51 1010.13,332.38 C1013.24,324.25 1016.35,315.94 1019.46,307.71 C1022.57,299.49 1025.68,290.99 1028.79,283.04 C1031.90,275.10 1035.01,267.42 1038.12,260.02 C1041.23,252.62 1045.12,243.80 1047.45,238.64 C1049.78,233.48 1050.87,231.20 1052.12,229.05 C1053.36,226.90 1054.06,225.53 1054.91,225.76 C1055.77,225.99 1056.47,225.99 1057.25,230.42 C1058.02,234.85 1058.80,245.04 1059.58,252.35 C1060.36,259.66 1061.13,268.70 1061.91,274.27 C1062.69,279.85 1063.39,283.23 1064.24,285.79 C1065.10,288.34 1066.11,289.35 1067.04,289.62 C1067.98,289.90 1069.06,288.11 1069.84,287.43 C1070.62,286.75 1071.09,285.88 1071.71,285.56 C1072.33,285.24 1072.95,285.40 1073.57,285.50 C1074.20,285.59 1074.82,286.02 1075.44,286.14 C1076.06,286.26 1076.68,286.38 1077.31,286.22 C1077.93,286.06 1078.55,285.52 1079.17,285.18 C1079.79,284.85 1080.42,284.29 1081.04,284.20 C1081.66,284.12 1082.28,284.33 1082.90,284.67 C1083.53,285.01 1084.15,285.82 1084.77,286.23 C1085.39,286.65 1086.01,287.11 1086.64,287.18 C1087.26,287.26 1087.88,286.93 1088.50,286.68 C1089.12,286.44 1089.75,285.90 1090.37,285.71 C1090.99,285.52 1091.61,285.50 1092.23,285.52 C1092.86,285.55 1093.48,285.86 1094.10,285.85 C1094.72,285.85 1095.34,285.75 1095.97,285.49 C1096.59,285.23 1097.21,284.61 1097.83,284.30 C1098.45,284.00 1099.08,283.62 1099.70,283.68 C1100.32,283.73 1100.94,284.20 1101.56,284.65 C1102.19,285.09 1102.81,285.95 1103.43,286.35 C1104.05,286.75 1104.67,287.06 1105.30,287.06 C1105.92,287.06 1106.54,286.61 1107.16,286.35 C1107.78,286.10 1108.41,285.65 1109.03,285.52 C1109.65,285.40 1110.27,285.53 1110.89,285.60 C1111.52,285.67 1112.14,285.98 1112.76,285.95 C1113.38,285.92 1114.00,285.70 1114.63,285.40 C1115.25,285.11 1115.87,284.45 1116.49,284.17 C1117.11,283.89 1117.74,283.62 1118.36,283.72 C1118.98,283.82 1119.60,284.35 1120.22,284.74 C1120.85,285.13 1121.47,285.82 1122.09,286.07 C1122.71,286.31 1123.33,286.33 1123.96,286.20 C1124.58,286.07 1125.20,285.53 1125.82,285.30 C1126.44,285.08 1127.07,284.82 1127.69,284.86 C1128.31,284.90 1128.93,285.29 1129.55,285.52 C1130.18,285.75 1130.80,286.18 1131.42,286.23 C1132.04,286.28 1132.66,286.07 1133.29,285.81 C1133.91,285.56 1134.53,284.96 1135.15,284.72 C1135.77,284.48 1136.40,284.31 1137.02,284.38 C1137.64,284.44 1138.26,284.89 1138.88,285.09 C1139.51,285.29 1140.13,285.63 1140.75,285.60 C1141.37,285.56 1141.99,285.20 1142.62,284.89 C1143.24,284.59 1143.86,283.95 1144.48,283.77 C1145.10,283.59 1145.73,283.57 1146.35,283.80 C1146.97,284.04 1147.59,284.75 1148.21,285.19 C1148.84,285.63 1149.46,286.24 1150.08,286.44 C1150.70,286.64 1151.32,286.53 1151.95,286.40 C1152.57,286.26 1153.19,285.81 1153.81,285.65 C1154.43,285.48 1155.06,285.42 1155.68,285.42 C1156.30,285.42 1156.92,285.71 1157.54,285.67 C1158.17,285.62 1158.79,285.52 1159.41,285.17 C1160.03,284.81 1160.65,284.04 1161.28,283.54 C1161.90,283.05 1162.52,282.33 1163.14,282.19 C1163.76,282.04 1164.39,282.25 1165.01,282.67 C1165.63,283.08 1166.25,284.05 1166.87,284.67 C1167.50,285.29 1168.12,286.04 1168.74,286.39 C1169.36,286.75 1169.98,286.76 1170.61,286.78 C1171.23,286.79 1171.85,286.54 1172.47,286.49 C1173.09,286.43 1173.72,286.49 1174.34,286.46 C1174.96,286.42 1175.58,286.54 1176.20,286.28 C1176.83,286.01 1177.45,285.50 1178.07,284.88 C1178.69,284.25 1179.31,283.15 1179.94,282.51 C1180.56,281.87 1181.18,281.15 1181.80,281.04 C1182.42,280.93 1183.05,281.33 1183.67,281.86 C1184.29,282.38 1184.91,283.48 1185.53,284.18 C1186.16,284.89 1187.09,285.76 1187.40,286.08" fill="none" stroke="#ff4040" stroke-width="1.1" stroke-linejoin="round" stroke-linecap="round"/>
<path d="M1000.80,356.50 C1002.36,352.48 1007.02,340.51 1010.13,332.38 C1013.24,324.25 1016.35,315.94 1019.46,307.71 C1022.57,299.49 1025.68,290.90 1028.79,283.04 C1031.90,275.19 1035.48,266.37 1038.12,260.57 C1040.76,254.77 1042.94,251.07 1044.65,248.24 C1046.36,245.40 1047.37,244.58 1048.38,243.58 C1049.39,242.57 1049.94,241.43 1050.72,242.21 C1051.49,242.98 1052.27,244.26 1053.05,248.24 C1053.83,252.21 1054.60,260.80 1055.38,266.05 C1056.16,271.30 1056.94,276.56 1057.71,279.76 C1058.49,282.95 1059.27,284.10 1060.05,285.24 C1060.82,286.38 1061.68,286.39 1062.38,286.61 C1063.08,286.82 1063.62,286.59 1064.24,286.52 C1064.87,286.46 1065.49,286.31 1066.11,286.23 C1066.73,286.14 1067.35,286.01 1067.98,285.99 C1068.60,285.97 1069.22,286.07 1069.84,286.12 C1070.46,286.16 1071.09,286.27 1071.71,286.26 C1072.33,286.25 1072.95,286.11 1073.57,286.05 C1074.20,286.00 1074.82,285.82 1075.44,285.92 C1076.06,286.02 1076.68,286.28 1077.31,286.65 C1077.93,287.02 1078.55,287.74 1079.17,288.13 C1079.79,288.52 1080.42,289.00 1081.04,288.99 C1081.66,288.98 1082.28,288.57 1082.90,288.08 C1083.53,287.58 1084.15,286.57 1084.77,286.01 C1085.39,285.44 1086.01,284.83 1086.64,284.68 C1087.26,284.52 1087.88,284.83 1088.50,285.09 C1089.12,285.34 1089.75,285.98 1090.37,286.19 C1090.99,286.40 1091.61,286.45 1092.23,286.36 C1092.86,286.27 1093.48,285.74 1094.10,285.63 C1094.72,285.53 1095.34,285.40 1095.97,285.74 C1096.59,286.08 1097.21,286.97 1097.83,287.67 C1098.45,288.36 1099.08,289.54 1099.70,289.90 C1100.32,290.27 1100.94,290.34 1101.56,289.85 C1102.19,289.37 1102.81,288.00 1103.43,286.99 C1104.05,285.99 1104.67,284.44 1105.30,283.81 C1105.92,283.18 1106.54,282.96 1107.16,283.21 C1107.78,283.45 1108.41,284.58 1109.03,285.29 C1109.65,286.00 1110.27,287.08 1110.89,287.46 C1111.52,287.84 1112.14,287.76 1112.76,287.58 C1113.38,287.39 1114.00,286.60 1114.63,286.36 C1115.25,286.11 1115.87,285.90 1116.49,286.11 C1117.11,286.32 1117.74,287.11 1118.36,287.60 C1118.98,288.08 1119.60,288.89 1120.22,289.01 C1120.85,289.13 1121.47,288.83 1122.09,288.31 C1122.71,287.78 1123.33,286.57 1123.96,285.88 C1124.58,285.19 1125.20,284.35 1125.82,284.17 C1126.44,283.99 1127.07,284.37 1127.69,284.79 C1128.31,285.22 1128.93,286.23 1129.55,286.71 C1130.18,287.19 1130.80,287.63 1131.42,287.66 C1132.04,287.68 1132.66,287.18 1133.29,286.86 C1133.91,286.54 1134.53,285.89 1135.15,285.72 C1135.77,285.56 1136.40,285.63 1137.02,285.88 C1137.64,286.13 1138.26,286.83 1138.88,287.22 C1139.51,287.62 1140.13,288.13 1140.75,288.26 C1141.37,288.40 1141.99,288.24 1142.62,288.03 C1143.24,287.82 1143.86,287.31 1144.48,287.00 C1145.10,286.69 1145.73,286.37 1146.35,286.17 C1146.97,285.96 1147.59,285.90 1148.21,285.77 C1148.84,285.65 1149.46,285.54 1150.08,285.43 C1150.70,285.32 1151.32,285.13 1151.95,285.13 C1152.57,285.13 1153.19,285.19 1153.81,285.44 C1154.43,285.69 1155.06,286.19 1155.68,286.60 C1156.30,287.01 1156.92,287.60 1157.54,287.89 C1158.17,288.18 1158.79,288.35 1159.41,288.36 C1160.03,288.36 1160.65,288.10 1161.28,287.94 C1161.90,287.78 1162.52,287.53 1163.14,287.39 C1163.76,287.24 1164.39,287.23 1165.01,287.07 C1165.63,286.90 1166.25,286.75 1166.87,286.41 C1167.50,286.07 1168.12,285.45 1168.74,285.01 C1169.36,284.56 1169.98,283.88 1170.61,283.76 C1171.23,283.64 1171.85,283.76 1172.47,284.26 C1173.09,284.75 1173.72,285.90 1174.34,286.72 C1174.96,287.55 1175.58,288.76 1176.20,289.22 C1176.83,289.69 1177.45,289.80 1178.07,289.53 C1178.69,289.26 1179.31,288.25 1179.94,287.62 C1180.56,286.98 1181.18,286.05 1181.80,285.73 C1182.42,285.42 1183.05,285.54 1183.67,285.74 C1184.29,285.94 1184.91,286.71 1185.53,286.95 C1186.16,287.18 1187.09,287.12 1187.40,287.15" fill="none" stroke="#22aa55" stroke-width="1.1" stroke-linejoin="round" stroke-linecap="round"/>
<path d="M1000.80,356.50 C1002.36,352.48 1007.02,340.51 1010.13,332.38 C1013.24,324.25 1016.35,315.94 1019.46,307.71 C1022.57,299.49 1025.68,290.90 1028.79,283.04 C1031.90,275.19 1035.48,266.37 1038.12,260.57 C1040.76,254.77 1042.94,251.07 1044.65,248.24 C1046.36,245.40 1047.37,244.58 1048.38,243.58 C1049.39,242.57 1049.94,241.43 1050.72,242.21 C1051.49,242.98 1052.27,244.26 1053.05,248.24 C1053.83,252.21 1054.60,260.80 1055.38,266.05 C1056.16,271.30 1056.94,276.56 1057.71,279.76 C1058.49,282.95 1059.27,284.10 1060.05,285.24 C1060.82,286.38 1061.68,287.59 1062.38,286.61 C1063.08,285.62 1063.62,280.10 1064.24,279.33 C1064.87,278.56 1065.49,281.09 1066.11,281.99 C1066.73,282.89 1067.35,284.09 1067.98,284.74 C1068.60,285.38 1069.22,285.76 1069.84,285.85 C1070.46,285.94 1071.09,285.53 1071.71,285.27 C1072.33,285.00 1072.95,284.48 1073.57,284.25 C1074.20,284.01 1074.82,283.92 1075.44,283.87 C1076.06,283.81 1076.68,284.00 1077.31,283.91 C1077.93,283.81 1078.55,283.68 1079.17,283.29 C1079.79,282.89 1080.42,282.14 1081.04,281.53 C1081.66,280.93 1082.28,280.01 1082.90,279.66 C1083.53,279.30 1084.15,279.09 1084.77,279.41 C1085.39,279.72 1086.01,280.64 1086.64,281.56 C1087.26,282.48 1087.88,283.99 1088.50,284.95 C1089.12,285.90 1089.75,286.93 1090.37,287.28 C1090.99,287.64 1091.61,287.48 1092.23,287.07 C1092.86,286.66 1093.48,285.60 1094.10,284.82 C1094.72,284.04 1095.34,282.99 1095.97,282.41 C1096.59,281.84 1097.21,281.50 1097.83,281.36 C1098.45,281.22 1099.08,281.50 1099.70,281.60 C1100.32,281.70 1100.94,281.95 1101.56,281.97 C1102.19,281.99 1102.81,281.81 1103.43,281.71 C1104.05,281.62 1104.67,281.31 1105.30,281.39 C1105.92,281.47 1106.54,281.68 1107.16,282.18 C1107.78,282.69 1108.41,283.64 1109.03,284.41 C1109.65,285.18 1110.27,286.29 1110.89,286.78 C1111.52,287.28 1112.14,287.61 1112.76,287.38 C1113.38,287.16 1114.00,286.31 1114.63,285.44 C1115.25,284.57 1115.87,283.10 1116.49,282.17 C1117.11,281.24 1117.74,280.24 1118.36,279.85 C1118.98,279.47 1119.60,279.57 1120.22,279.87 C1120.85,280.17 1121.47,281.06 1122.09,281.67 C1122.71,282.28 1123.33,283.09 1123.96,283.51 C1124.58,283.93 1125.20,284.10 1125.82,284.17 C1126.44,284.25 1127.07,283.99 1127.69,283.98 C1128.31,283.96 1128.93,283.91 1129.55,284.07 C1130.18,284.23 1130.80,284.67 1131.42,284.95 C1132.04,285.23 1132.66,285.72 1133.29,285.75 C1133.91,285.78 1134.53,285.62 1135.15,285.14 C1135.77,284.65 1136.40,283.66 1137.02,282.85 C1137.64,282.05 1138.26,280.88 1138.88,280.33 C1139.51,279.78 1140.13,279.39 1140.75,279.54 C1141.37,279.69 1141.99,280.45 1142.62,281.21 C1143.24,281.96 1143.86,283.28 1144.48,284.08 C1145.10,284.89 1145.73,285.73 1146.35,286.03 C1146.97,286.34 1147.59,286.19 1148.21,285.92 C1148.84,285.65 1149.46,284.88 1150.08,284.43 C1150.70,283.98 1151.32,283.43 1151.95,283.22 C1152.57,283.01 1153.19,283.10 1153.81,283.17 C1154.43,283.25 1155.06,283.63 1155.68,283.69 C1156.30,283.74 1156.92,283.74 1157.54,283.52 C1158.17,283.29 1158.79,282.71 1159.41,282.32 C1160.03,281.92 1160.65,281.30 1161.28,281.17 C1161.90,281.03 1162.52,281.11 1163.14,281.51 C1163.76,281.91 1164.39,282.84 1165.01,283.57 C1165.63,284.30 1166.25,285.38 1166.87,285.89 C1167.50,286.39 1168.12,286.71 1168.74,286.58 C1169.36,286.44 1169.98,285.73 1170.61,285.08 C1171.23,284.44 1171.85,283.32 1172.47,282.70 C1173.09,282.09 1173.72,281.52 1174.34,281.40 C1174.96,281.28 1175.58,281.63 1176.20,281.99 C1176.83,282.34 1177.45,283.12 1178.07,283.52 C1178.69,283.91 1179.31,284.30 1179.94,284.36 C1180.56,284.42 1181.18,284.10 1181.80,283.86 C1182.42,283.63 1183.05,283.09 1183.67,282.92 C1184.29,282.76 1184.91,282.71 1185.53,282.90 C1186.16,283.09 1187.09,283.88 1187.40,284.08" fill="none" stroke="#d4a010" stroke-width="1.2" stroke-linejoin="round" stroke-linecap="round"/>
<line x1="1064.3" y1="215.9" x2="1085" y2="215.9" stroke="#ff4040" stroke-width="1.2"/>
<text x="1088" y="218.8" font-size="9.15" fill="#222">x+z+ before cascade</text>
<line x1="1064.3" y1="227.2" x2="1085" y2="227.2" stroke="#d4a010" stroke-width="1.2"/>
<text x="1088" y="230.1" font-size="9.15" fill="#222">x+z+ after 9 cascades (Fe)</text>
<line x1="1064.3" y1="238.6" x2="1085" y2="238.6" stroke="#22aa55" stroke-width="1.2"/>
<text x="1088" y="241.5" font-size="9.15" fill="#222">x+z+ after 9 cascades (W)</text>
<line x1="1064.3" y1="249.9" x2="1085" y2="249.9" stroke="#4a4a4a" stroke-width="1.2"/>
<text x="1088" y="252.8" font-size="9.15" fill="#222">x before cascade</text>
<line x1="1064.3" y1="261.3" x2="1085" y2="261.3" stroke="#c27df0" stroke-width="1.2"/>
<text x="1088" y="264.2" font-size="9.15" fill="#222">x after 9 cascades (Fe)</text>
<line x1="1064.3" y1="272.8" x2="1085" y2="272.8" stroke="#1f6ff0" stroke-width="1.2"/>
<text x="1088" y="275.7" font-size="9.15" fill="#222">x after 9 cascades (W)</text>
<text x="1004.7" y="224.8" font-size="18.8" font-weight="bold">(d)</text>
<text x="1184" y="352" font-size="13.3" font-weight="bold" text-anchor="end">W(100)/Fe(100)</text>
<text transform="translate(987,283) rotate(-90)" font-size="12.7" text-anchor="middle" fill="#222">Stress (GPa)</text>
<text x="1095" y="381.5" font-size="12.7" text-anchor="middle" fill="#222">Shear Strain</text>
<text x="980" y="404.2" font-size="22.6" font-weight="bold" text-anchor="middle">Stress-strain curves under tensile and shear stress</text>
<path d="M775.6,462.2 L832.4,458.9 M832.4,458.9 L855.5,466.4 M832.4,458.9 L833.6,668.4 M776.7,671.9 L833.6,668.4 M833.6,668.4 L856.8,676.4 " stroke="#333" stroke-width="0.9" fill="none"/>
<circle cx="789.0" cy="658.3" r="4.45" fill="url(#atb)"/>
<circle cx="796.6" cy="660.6" r="4.45" fill="url(#atb)"/>
<circle cx="808.0" cy="656.8" r="4.45" fill="url(#atb)"/>
<circle cx="815.6" cy="659.0" r="4.45" fill="url(#atb)"/>
<circle cx="827.0" cy="655.8" r="4.45" fill="url(#atb)"/>
<circle cx="834.6" cy="658.3" r="4.45" fill="url(#atb)"/>
<circle cx="783.7" cy="651.1" r="4.45" fill="url(#atb)"/>
<circle cx="802.7" cy="649.6" r="4.45" fill="url(#atb)"/>
<circle cx="821.6" cy="648.8" r="4.45" fill="url(#atb)"/>
<circle cx="791.8" cy="653.9" r="4.45" fill="url(#atb)"/>
<circle cx="810.3" cy="652.6" r="4.45" fill="url(#atb)"/>
<circle cx="829.2" cy="651.1" r="4.45" fill="url(#atb)"/>
<circle cx="799.4" cy="656.4" r="4.45" fill="url(#atb)"/>
<circle cx="818.4" cy="654.9" r="4.45" fill="url(#atb)"/>
<circle cx="836.8" cy="653.9" r="4.45" fill="url(#atb)"/>
<circle cx="805.1" cy="662.5" r="4.45" fill="url(#atb)"/>
<circle cx="824.1" cy="661.5" r="4.45" fill="url(#atb)"/>
<circle cx="843.1" cy="660.2" r="4.45" fill="url(#atb)"/>
<circle cx="789.0" cy="637.4" r="4.45" fill="url(#atb)"/>
<circle cx="796.6" cy="639.7" r="4.45" fill="url(#atb)"/>
<circle cx="808.0" cy="635.9" r="4.45" fill="url(#atb)"/>
<circle cx="815.6" cy="638.2" r="4.45" fill="url(#atb)"/>
<circle cx="827.0" cy="634.9" r="4.45" fill="url(#atb)"/>
<circle cx="834.6" cy="637.4" r="4.45" fill="url(#atb)"/>
<circle cx="783.7" cy="630.2" r="4.45" fill="url(#atb)"/>
<circle cx="802.7" cy="628.7" r="4.45" fill="url(#atb)"/>
<circle cx="821.6" cy="627.9" r="4.45" fill="url(#atb)"/>
<circle cx="791.8" cy="633.0" r="4.45" fill="url(#atb)"/>
<circle cx="810.3" cy="631.7" r="4.45" fill="url(#atb)"/>
<circle cx="829.2" cy="630.2" r="4.45" fill="url(#atb)"/>
<circle cx="799.4" cy="635.5" r="4.45" fill="url(#atb)"/>
<circle cx="818.4" cy="634.0" r="4.45" fill="url(#atb)"/>
<circle cx="836.8" cy="633.0" r="4.45" fill="url(#atb)"/>
<circle cx="805.1" cy="641.6" r="4.45" fill="url(#atb)"/>
<circle cx="824.1" cy="640.6" r="4.45" fill="url(#atb)"/>
<circle cx="843.1" cy="639.3" r="4.45" fill="url(#atb)"/>
<circle cx="789.0" cy="616.5" r="4.45" fill="url(#atb)"/>
<circle cx="796.6" cy="618.8" r="4.45" fill="url(#atb)"/>
<circle cx="808.0" cy="615.0" r="4.45" fill="url(#atb)"/>
<circle cx="815.6" cy="617.3" r="4.45" fill="url(#atb)"/>
<circle cx="827.0" cy="614.0" r="4.45" fill="url(#atb)"/>
<circle cx="834.6" cy="616.5" r="4.45" fill="url(#atb)"/>
<circle cx="783.7" cy="609.3" r="4.45" fill="url(#atb)"/>
<circle cx="802.7" cy="607.8" r="4.45" fill="url(#atb)"/>
<circle cx="821.6" cy="607.0" r="4.45" fill="url(#atb)"/>
<circle cx="791.8" cy="612.1" r="4.45" fill="url(#atb)"/>
<circle cx="810.3" cy="610.8" r="4.45" fill="url(#atb)"/>
<circle cx="829.2" cy="609.3" r="4.45" fill="url(#atb)"/>
<circle cx="799.4" cy="614.6" r="4.45" fill="url(#atb)"/>
<circle cx="818.4" cy="613.1" r="4.45" fill="url(#atb)"/>
<circle cx="836.8" cy="612.1" r="4.45" fill="url(#atb)"/>
<circle cx="805.1" cy="620.7" r="4.45" fill="url(#atb)"/>
<circle cx="824.1" cy="619.7" r="4.45" fill="url(#atb)"/>
<circle cx="843.1" cy="618.4" r="4.45" fill="url(#atb)"/>
<circle cx="789.0" cy="597.7" r="4.45" fill="url(#ato)"/>
<circle cx="796.6" cy="600.0" r="4.45" fill="url(#ato)"/>
<circle cx="808.0" cy="596.2" r="4.45" fill="url(#ato)"/>
<circle cx="815.6" cy="598.5" r="4.45" fill="url(#ato)"/>
<circle cx="827.0" cy="595.2" r="4.45" fill="url(#ato)"/>
<circle cx="834.6" cy="597.7" r="4.45" fill="url(#ato)"/>
<circle cx="783.7" cy="590.5" r="4.45" fill="url(#ato)"/>
<circle cx="802.7" cy="589.0" r="4.45" fill="url(#ato)"/>
<circle cx="821.6" cy="588.2" r="4.45" fill="url(#ato)"/>
<circle cx="791.8" cy="593.4" r="4.45" fill="url(#ato)"/>
<circle cx="810.3" cy="592.0" r="4.45" fill="url(#ato)"/>
<circle cx="829.2" cy="590.5" r="4.45" fill="url(#ato)"/>
<circle cx="799.4" cy="595.8" r="4.45" fill="url(#ato)"/>
<circle cx="818.4" cy="594.3" r="4.45" fill="url(#ato)"/>
<circle cx="836.8" cy="593.4" r="4.45" fill="url(#ato)"/>
<circle cx="805.1" cy="601.9" r="4.45" fill="url(#ato)"/>
<circle cx="824.1" cy="600.9" r="4.45" fill="url(#ato)"/>
<circle cx="843.1" cy="599.6" r="4.45" fill="url(#ato)"/>
<circle cx="789.0" cy="580.1" r="4.45" fill="url(#ato)"/>
<circle cx="796.6" cy="582.3" r="4.45" fill="url(#ato)"/>
<circle cx="808.0" cy="578.5" r="4.45" fill="url(#ato)"/>
<circle cx="815.6" cy="580.8" r="4.45" fill="url(#ato)"/>
<circle cx="827.0" cy="577.6" r="4.45" fill="url(#ato)"/>
<circle cx="834.6" cy="580.1" r="4.45" fill="url(#ato)"/>
<circle cx="783.7" cy="572.8" r="4.45" fill="url(#ato)"/>
<circle cx="802.7" cy="571.3" r="4.45" fill="url(#ato)"/>
<circle cx="821.6" cy="570.6" r="4.45" fill="url(#ato)"/>
<circle cx="791.8" cy="575.7" r="4.45" fill="url(#ato)"/>
<circle cx="810.3" cy="574.4" r="4.45" fill="url(#ato)"/>
<circle cx="829.2" cy="572.8" r="4.45" fill="url(#ato)"/>
<circle cx="799.4" cy="578.2" r="4.45" fill="url(#ato)"/>
<circle cx="818.4" cy="576.6" r="4.45" fill="url(#ato)"/>
<circle cx="836.8" cy="575.7" r="4.45" fill="url(#ato)"/>
<circle cx="805.1" cy="584.2" r="4.45" fill="url(#ato)"/>
<circle cx="824.1" cy="583.3" r="4.45" fill="url(#ato)"/>
<circle cx="843.1" cy="582.0" r="4.45" fill="url(#ato)"/>
<circle cx="789.0" cy="562.4" r="4.45" fill="url(#ato)"/>
<circle cx="796.6" cy="564.7" r="4.45" fill="url(#ato)"/>
<circle cx="808.0" cy="560.9" r="4.45" fill="url(#ato)"/>
<circle cx="815.6" cy="563.2" r="4.45" fill="url(#ato)"/>
<circle cx="827.0" cy="559.9" r="4.45" fill="url(#ato)"/>
<circle cx="834.6" cy="562.4" r="4.45" fill="url(#ato)"/>
<circle cx="783.7" cy="555.2" r="4.45" fill="url(#ato)"/>
<circle cx="802.7" cy="553.7" r="4.45" fill="url(#ato)"/>
<circle cx="821.6" cy="552.9" r="4.45" fill="url(#ato)"/>
<circle cx="791.8" cy="558.0" r="4.45" fill="url(#ato)"/>
<circle cx="810.3" cy="556.7" r="4.45" fill="url(#ato)"/>
<circle cx="829.2" cy="555.2" r="4.45" fill="url(#ato)"/>
<circle cx="799.4" cy="560.5" r="4.45" fill="url(#ato)"/>
<circle cx="818.4" cy="559.0" r="4.45" fill="url(#ato)"/>
<circle cx="836.8" cy="558.0" r="4.45" fill="url(#ato)"/>
<circle cx="805.1" cy="566.6" r="4.45" fill="url(#ato)"/>
<circle cx="824.1" cy="565.6" r="4.45" fill="url(#ato)"/>
<circle cx="843.1" cy="564.3" r="4.45" fill="url(#ato)"/>
<path d="M855.5,466.4 L798.9,469.3 M798.9,469.3 L775.6,462.2 M775.6,462.2 L776.7,671.9 M798.9,469.3 L799.8,679.5 M855.5,466.4 L856.8,676.4 M776.7,671.9 L799.8,679.5 M799.8,679.5 L856.8,676.4 " stroke="#222" stroke-width="0.9" fill="none"/>
<text x="777" y="473.4" font-size="16.8" font-weight="bold">(a)</text>
<path d="M882.89,502.70 C884.24,499.26 888.22,491.19 890.47,487.52 C892.73,483.85 893.46,481.78 896.44,480.69 C899.42,479.61 902.76,480.46 908.36,481.02 C913.96,481.58 923.36,483.42 930.04,484.05 C936.73,484.68 944.71,483.51 948.47,484.81 C952.23,486.11 952.23,489.60 952.59,491.86 C952.95,494.11 951.96,495.20 950.64,498.36 C949.32,501.52 946.48,507.76 944.67,510.83 C942.87,513.90 942.96,515.56 939.80,516.79 C936.64,518.02 930.94,518.38 925.70,518.20 C920.47,518.02 914.86,516.57 908.36,515.70 C901.86,514.84 891.02,514.26 886.68,512.99 C882.34,511.73 882.98,509.83 882.34,508.12 C881.71,506.40 881.53,506.13 882.89,502.70Z" fill="url(#gb1)" />
<g clip-path="url(#clipgb2)">
<path d="M885.60,501.07 C884.24,498.79 887.58,490.14 889.39,486.44 C891.20,482.73 891.47,479.84 896.44,478.85 C901.40,477.85 910.26,479.72 919.20,480.47 C928.14,481.23 944.31,481.41 950.09,483.40 C955.88,485.39 953.89,489.36 953.89,492.40 C953.89,495.43 952.26,499.86 950.09,501.61 C947.93,503.36 943.86,502.80 940.88,502.91 C937.90,503.02 935.10,501.83 932.21,502.26 C929.32,502.70 927.51,505.37 923.54,505.51 C919.56,505.66 912.70,504.03 908.36,503.13 C904.02,502.23 901.31,500.44 897.52,500.09 C893.73,499.75 886.95,503.35 885.60,501.07Z" fill="url(#gb3)" filter="url(#blurT)"/>
<ellipse cx="936.54" cy="509.74" rx="4.34" ry="8.46" fill="#4a0200" transform="rotate(20 936.54 509.74)" opacity="0.65" filter="url(#blurS)"/>
<ellipse cx="925.70" cy="504.32" rx="6.50" ry="2.38" fill="#f8e020" transform="rotate(0 925.70 504.32)" opacity="0.7" filter="url(#blurS)"/>
</g>
<ellipse cx="888.31" cy="501.40" rx="3.04" ry="1.19" fill="#fff" transform="rotate(-10 888.31 501.40)" opacity="0.8" filter="url(#blurS)"/>
<ellipse cx="937.09" cy="501.40" rx="2.17" ry="1.52" fill="#fff" transform="rotate(0 937.09 501.40)" opacity="0.85" filter="url(#blurS)"/>
<ellipse cx="946.08" cy="489.47" rx="1.30" ry="2.38" fill="#fff" transform="rotate(0 946.08 489.47)" opacity="0.6" filter="url(#blurS)"/>
<ellipse cx="912.70" cy="507.25" rx="8.67" ry="0.76" fill="#fff" transform="rotate(5 912.70 507.25)" opacity="0.45" filter="url(#blurS)"/>
<line x1="915.95" y1="496.73" x2="907.82" y2="491.86" stroke="#d8f8ff" stroke-width="0.7" opacity="0.8" stroke-linecap="round"/>
<line x1="915.95" y1="496.73" x2="912.70" y2="490.88" stroke="#d8f8ff" stroke-width="0.7" opacity="0.8" stroke-linecap="round"/>
<line x1="915.95" y1="496.73" x2="917.03" y2="491.53" stroke="#d8f8ff" stroke-width="0.7" opacity="0.8" stroke-linecap="round"/>
<line x1="915.95" y1="496.73" x2="919.74" y2="493.48" stroke="#d8f8ff" stroke-width="0.7" opacity="0.8" stroke-linecap="round"/>
<text x="871.7" y="472.9" font-size="18.3" font-weight="bold">(b)</text>
<text x="919" y="473.6" font-size="14.5" font-weight="bold">z</text>
<text x="871.5" y="513.5" font-size="14.5" font-weight="bold">x</text>
<text x="946.3" y="529.3" font-size="14.5" font-weight="bold">y</text>
<rect x="955.2" y="477.2" width="9.0" height="40.5" fill="url(#cbar)"/>
<text x="960" y="473.1" font-size="11.8" text-anchor="middle" fill="#111">3.6</text>
<text x="959.5" y="529.3" font-size="11.8" text-anchor="middle" fill="#111">0</text>
<path d="M1005.47,496.19 C1005.69,493.30 1005.56,489.18 1007.10,486.44 C1008.64,483.69 1011.26,481.16 1014.69,479.72 C1018.12,478.27 1023.36,477.82 1027.70,477.76 C1032.03,477.71 1037.09,477.76 1040.70,479.39 C1044.32,481.02 1047.53,484.90 1049.38,487.52 C1051.22,490.14 1051.76,492.58 1051.76,495.11 C1051.76,497.64 1050.68,500.17 1049.38,502.70 C1048.08,505.23 1046.49,508.62 1043.96,510.28 C1041.43,511.95 1037.27,511.77 1034.20,512.67 C1031.13,513.57 1028.42,514.89 1025.53,515.70 C1022.64,516.52 1019.57,518.27 1016.86,517.55 C1014.15,516.82 1011.11,513.66 1009.27,511.37 C1007.43,509.07 1006.43,506.31 1005.80,503.78 C1005.17,501.25 1005.26,499.08 1005.47,496.19Z" fill="url(#gc1)" />
<g clip-path="url(#clipgc)">
<ellipse cx="1039.08" cy="508.66" rx="9.21" ry="4.55" fill="url(#gc2)" transform="rotate(-10 1039.08 508.66)" filter="url(#blurT)"/>
<ellipse cx="1027.70" cy="488.82" rx="26.56" ry="13.88" fill="url(#gc3)" transform="rotate(8 1027.70 488.82)" filter="url(#blurT)"/>
<path d="M1030.95,499.44 C1031.67,497.64 1041.61,494.87 1045.04,494.24 C1048.47,493.61 1050.73,494.24 1051.54,495.65 C1052.36,497.06 1051.73,501.12 1049.92,502.70 C1048.11,504.27 1043.87,505.62 1040.70,505.08 C1037.54,504.54 1030.23,501.25 1030.95,499.44Z" fill="#a81008" filter="url(#blurT)"/>
<path d="M1021.19,498.90 C1022.10,497.19 1032.39,497.46 1036.37,496.73 C1040.34,496.01 1044.32,493.57 1045.04,494.57 C1045.76,495.56 1043.05,500.62 1040.70,502.70 C1038.36,504.77 1034.20,507.66 1030.95,507.03 C1027.70,506.40 1020.29,500.62 1021.19,498.90Z" fill="#e8401c" opacity="0.8" filter="url(#blurT)"/>
</g>
<ellipse cx="1023.36" cy="485.89" rx="3.69" ry="1.30" fill="#fff" transform="rotate(-20 1023.36 485.89)" opacity="0.65" filter="url(#blurS)"/>
<ellipse cx="1034.20" cy="483.40" rx="2.71" ry="0.87" fill="#fff" transform="rotate(-20 1034.20 483.40)" opacity="0.5" filter="url(#blurS)"/>
<ellipse cx="1048.83" cy="491.86" rx="0.98" ry="2.38" fill="#fff" transform="rotate(0 1048.83 491.86)" opacity="0.6" filter="url(#blurS)"/>
<ellipse cx="1030.95" cy="499.99" rx="4.34" ry="0.76" fill="#fff" transform="rotate(-15 1030.95 499.99)" opacity="0.5" filter="url(#blurS)"/>
<text x="985.4" y="472.9" font-size="18.3" font-weight="bold">(c)</text>
<text x="1028.2" y="467.8" font-size="14.5" font-weight="bold">z</text>
<text x="991.4" y="512" font-size="14.5" font-weight="bold">x</text>
<text x="1052" y="522.2" font-size="14.5" font-weight="bold">y</text>
<rect x="1061.3" y="477.2" width="9.5" height="40.5" fill="url(#cbar)"/>
<text x="1066.2" y="473.1" font-size="11.8" text-anchor="middle" fill="#111">1.7</text>
<text x="1070.5" y="528.2" font-size="11.8" text-anchor="middle" fill="#111">0</text>
<path d="M1107.76,498.36 C1107.94,496.19 1108.31,492.81 1109.93,490.77 C1111.56,488.73 1114.45,487.16 1117.52,486.11 C1120.59,485.06 1125.02,484.43 1128.36,484.49 C1131.70,484.54 1135.41,487.16 1137.57,486.44 C1139.74,485.71 1139.83,481.68 1141.37,480.15 C1142.90,478.61 1144.98,477.08 1146.79,477.22 C1148.60,477.37 1150.85,479.70 1152.21,481.02 C1153.56,482.34 1153.11,484.05 1154.92,485.14 C1156.73,486.22 1160.70,485.86 1163.05,487.52 C1165.40,489.18 1168.11,492.58 1169.01,495.11 C1169.91,497.64 1169.46,500.17 1168.47,502.70 C1167.48,505.23 1165.76,508.39 1163.05,510.28 C1160.34,512.18 1156.18,513.57 1152.21,514.08 C1148.23,514.58 1143.54,513.28 1139.20,513.32 C1134.86,513.36 1130.17,514.80 1126.19,514.30 C1122.22,513.79 1118.24,512.04 1115.35,510.28 C1112.46,508.53 1110.11,505.77 1108.85,503.78 C1107.58,501.79 1107.58,500.53 1107.76,498.36Z" fill="url(#gd1)" />
<g clip-path="url(#clipgd2)">
<ellipse cx="1137.03" cy="494.24" rx="16.26" ry="11.38" fill="url(#gd3)" transform="rotate(0 1137.03 494.24)" />
<line x1="1143.03" y1="492.58" x2="1150.75" y2="480.89" stroke="#d8f070" stroke-width="1.0" opacity="0.5" stroke-linecap="round"/>
<line x1="1144.31" y1="493.25" x2="1156.50" y2="483.45" stroke="#d8f070" stroke-width="1.0" opacity="0.5" stroke-linecap="round"/>
<line x1="1145.27" y1="494.12" x2="1160.81" y2="486.79" stroke="#d8f070" stroke-width="1.0" opacity="0.5" stroke-linecap="round"/>
<line x1="1145.89" y1="495.10" x2="1163.60" y2="490.52" stroke="#d8f070" stroke-width="1.0" opacity="0.5" stroke-linecap="round"/>
<line x1="1146.19" y1="496.10" x2="1164.98" y2="494.32" stroke="#d8f070" stroke-width="1.0" opacity="0.5" stroke-linecap="round"/>
<line x1="1146.23" y1="497.13" x2="1165.12" y2="498.25" stroke="#d8f070" stroke-width="1.0" opacity="0.5" stroke-linecap="round"/>
<line x1="1145.98" y1="498.14" x2="1164.02" y2="502.09" stroke="#d8f070" stroke-width="1.0" opacity="0.5" stroke-linecap="round"/>
<line x1="1145.42" y1="499.15" x2="1161.51" y2="505.93" stroke="#d8f070" stroke-width="1.0" opacity="0.5" stroke-linecap="round"/>
<line x1="1144.52" y1="500.06" x2="1157.46" y2="509.42" stroke="#d8f070" stroke-width="1.0" opacity="0.5" stroke-linecap="round"/>
<line x1="1143.29" y1="500.79" x2="1151.90" y2="512.19" stroke="#d8f070" stroke-width="1.0" opacity="0.5" stroke-linecap="round"/>
<path d="M1138.12,487.52 C1137.39,485.93 1139.92,481.87 1141.37,480.15 C1142.81,478.43 1144.98,477.08 1146.79,477.22 C1148.60,477.37 1150.94,479.48 1152.21,481.02 C1153.47,482.55 1155.46,484.99 1154.38,486.44 C1153.29,487.88 1148.41,489.51 1145.70,489.69 C1142.99,489.87 1138.84,489.11 1138.12,487.52Z" fill="url(#gd4)" opacity="0.85" filter="url(#blurT)"/>
<path d="M1107.76,498.36 C1107.94,496.19 1108.31,492.81 1109.93,490.77 C1111.56,488.73 1114.45,487.16 1117.52,486.11 C1120.59,485.06 1125.02,484.43 1128.36,484.49 C1131.70,484.54 1135.41,487.16 1137.57,486.44 C1139.74,485.71 1139.83,481.68 1141.37,480.15 C1142.90,478.61 1144.98,477.08 1146.79,477.22 C1148.60,477.37 1150.85,479.70 1152.21,481.02 C1153.56,482.34 1153.11,484.05 1154.92,485.14 C1156.73,486.22 1160.70,485.86 1163.05,487.52 C1165.40,489.18 1168.11,492.58 1169.01,495.11 C1169.91,497.64 1169.46,500.17 1168.47,502.70 C1167.48,505.23 1165.76,508.39 1163.05,510.28 C1160.34,512.18 1156.18,513.57 1152.21,514.08 C1148.23,514.58 1143.54,513.28 1139.20,513.32 C1134.86,513.36 1130.17,514.80 1126.19,514.30 C1122.22,513.79 1118.24,512.04 1115.35,510.28 C1112.46,508.53 1110.11,505.77 1108.85,503.78 C1107.58,501.79 1107.58,500.53 1107.76,498.36Z" fill="url(#gd5)" />
</g>
<line x1="1138.98" y1="487.52" x2="1140.50" y2="512.99" stroke="#304018" stroke-width="0.9" opacity="0.5" stroke-linecap="round"/>
<ellipse cx="1116.44" cy="493.16" rx="3.25" ry="1.73" fill="#fff" transform="rotate(-10 1116.44 493.16)" opacity="0.85" filter="url(#blurS)"/>
<ellipse cx="1167.60" cy="495.65" rx="0.76" ry="2.38" fill="#fff" transform="rotate(0 1167.60 495.65)" opacity="0.9" filter="url(#blurS)"/>
<text x="1092" y="472.9" font-size="18.3" font-weight="bold">(d)</text>
<text x="1138.7" y="469" font-size="14.5" font-weight="bold">z</text>
<text x="1099.6" y="513.5" font-size="14.5" font-weight="bold">x</text>
<text x="1160.9" y="522.2" font-size="14.5" font-weight="bold">y</text>
<rect x="1174.1" y="477.2" width="9.3" height="40.5" fill="url(#cbar)"/>
<text x="1179.3" y="475.3" font-size="11.8" text-anchor="middle" fill="#111">2.4</text>
<text x="1178.4" y="528.2" font-size="11.8" text-anchor="middle" fill="#111">0</text>
<path d="M885.05,573.53 C885.14,570.46 885.69,567.48 888.31,563.77 C890.93,560.07 896.53,554.29 900.77,551.31 C905.02,548.33 909.63,546.97 913.78,545.89 C917.94,544.80 921.91,544.35 925.70,544.80 C929.50,545.25 933.56,546.52 936.54,548.60 C939.53,550.67 942.18,554.56 943.59,557.27 C945.00,559.98 945.45,562.15 945.00,564.86 C944.55,567.57 943.37,570.46 940.88,573.53 C938.39,576.60 933.65,580.57 930.04,583.28 C926.43,585.99 922.81,588.31 919.20,589.79 C915.59,591.27 912.15,592.35 908.36,592.17 C904.57,591.99 899.87,590.37 896.44,588.70 C893.00,587.04 889.66,584.73 887.76,582.20 C885.87,579.67 884.96,576.60 885.05,573.53Z" fill="url(#ge1)" />
<g clip-path="url(#clipge2)">
<ellipse cx="934.38" cy="571.36" rx="9.76" ry="6.50" fill="#f0a018" transform="rotate(-45 934.38 571.36)" opacity="0.85" filter="url(#blurM)"/>
<path d="M888.52,568.98 C887.98,566.72 894.76,557.77 898.82,554.34 C902.89,550.91 908.49,549.50 912.91,548.38 C917.34,547.26 921.40,547.08 925.38,547.62 C929.35,548.16 933.69,549.43 936.76,551.63 C939.83,553.84 942.40,557.95 943.81,560.85 C945.22,563.74 945.76,566.27 945.22,568.98 C944.67,571.69 942.51,575.57 940.56,577.11 C938.60,578.64 936.13,578.61 933.51,578.19 C930.89,577.77 927.91,575.93 924.84,574.61 C921.77,573.29 918.88,571.40 915.08,570.28 C911.29,569.16 906.50,568.11 902.07,567.89 C897.65,567.67 889.07,571.23 888.52,568.98Z" fill="#f87810" opacity="0.9" filter="url(#blurM)"/>
<path d="M888.96,566.81 C888.41,564.55 895.19,555.61 899.25,552.17 C903.32,548.74 908.92,547.33 913.35,546.21 C917.77,545.09 921.84,544.91 925.81,545.45 C929.79,545.99 934.12,547.26 937.20,549.46 C940.27,551.67 942.83,555.79 944.24,558.68 C945.65,561.57 946.19,564.10 945.65,566.81 C945.11,569.52 942.94,573.40 940.99,574.94 C939.04,576.47 936.56,576.44 933.94,576.02 C931.32,575.61 928.34,573.76 925.27,572.44 C922.20,571.13 919.31,569.23 915.51,568.11 C911.72,566.99 906.93,565.94 902.51,565.72 C898.08,565.51 889.50,569.07 888.96,566.81Z" fill="#f8c818" opacity="0.9" filter="url(#blurM)"/>
<path d="M889.39,564.86 C888.85,562.60 895.62,553.65 899.69,550.22 C903.75,546.79 909.35,545.38 913.78,544.26 C918.21,543.14 922.27,542.96 926.25,543.50 C930.22,544.04 934.56,545.31 937.63,547.51 C940.70,549.72 943.27,553.84 944.67,556.73 C946.08,559.62 946.63,562.15 946.08,564.86 C945.54,567.57 943.37,571.45 941.42,572.99 C939.47,574.52 937.00,574.49 934.38,574.07 C931.76,573.65 928.78,571.81 925.70,570.49 C922.63,569.17 919.74,567.28 915.95,566.16 C912.15,565.04 907.37,563.99 902.94,563.77 C898.51,563.56 889.93,567.11 889.39,564.86Z" fill="url(#ge3)" filter="url(#blurM)"/>
</g>
<ellipse cx="897.52" cy="573.53" rx="3.47" ry="1.95" fill="#fff" transform="rotate(10 897.52 573.53)" opacity="0.9" filter="url(#blurS)"/>
<ellipse cx="922.99" cy="571.58" rx="3.25" ry="1.19" fill="#fff" transform="rotate(-10 922.99 571.58)" opacity="0.75" filter="url(#blurS)"/>
<ellipse cx="936.76" cy="559.44" rx="1.41" ry="2.82" fill="#fff" transform="rotate(0 936.76 559.44)" opacity="0.5" filter="url(#blurS)"/>
<line x1="914.32" y1="562.15" x2="909.01" y2="559.11" stroke="#e8fbff" stroke-width="0.7" opacity="0.85" stroke-linecap="round"/>
<line x1="914.32" y1="562.15" x2="912.80" y2="557.97" stroke="#e8fbff" stroke-width="0.7" opacity="0.85" stroke-linecap="round"/>
<line x1="914.32" y1="562.15" x2="916.60" y2="558.73" stroke="#e8fbff" stroke-width="0.7" opacity="0.85" stroke-linecap="round"/>
<text x="873.1" y="544.3" font-size="18.3" font-weight="bold">(e)</text>
<text x="915.1" y="543.5" font-size="14.5" font-weight="bold">z</text>
<text x="880" y="592.7" font-size="14.5" font-weight="bold">x</text>
<text x="934.9" y="594.7" font-size="14.5" font-weight="bold">y</text>
<rect x="953.3" y="547" width="9.3" height="40.4" fill="url(#cbar)"/>
<text x="957.5" y="544.8" font-size="11.8" text-anchor="middle" fill="#111">2.1</text>
<text x="957.5" y="597.4" font-size="11.8" text-anchor="middle" fill="#111">0</text>
<path d="M1034.20,564.31 C1035.65,561.03 1042.15,561.84 1045.04,562.47 C1047.93,563.10 1050.17,565.90 1051.54,568.11 C1052.92,570.31 1053.46,572.81 1053.28,575.70 C1053.10,578.59 1051.65,582.56 1050.46,585.45 C1049.27,588.34 1047.30,590.48 1046.12,593.04 C1044.95,595.61 1044.68,599.67 1043.41,600.85 C1042.15,602.02 1039.71,603.19 1038.54,600.09 C1037.36,596.98 1037.09,588.16 1036.37,582.20 C1035.65,576.24 1032.76,567.60 1034.20,564.31Z" fill="url(#gf1)" />
<path d="M1001.46,587.08 C1001.63,584.82 1002.01,581.39 1002.98,578.95 C1003.96,576.51 1006.31,574.79 1007.32,572.44 C1008.33,570.10 1007.82,566.88 1009.05,564.86 C1010.28,562.83 1011.94,560.85 1014.69,560.30 C1017.43,559.76 1022.28,560.85 1025.53,561.60 C1028.78,562.36 1031.94,563.23 1034.20,564.86 C1036.46,566.48 1037.67,569.01 1039.08,571.36 C1040.49,573.71 1041.81,576.06 1042.66,578.95 C1043.50,581.84 1044.28,585.63 1044.17,588.70 C1044.07,591.78 1043.31,595.50 1042.01,597.38 C1040.70,599.26 1038.75,599.94 1036.37,599.98 C1033.98,600.01 1031.13,597.76 1027.70,597.59 C1024.26,597.43 1019.39,599.13 1015.77,599.00 C1012.16,598.88 1008.31,597.92 1006.02,596.83 C1003.72,595.75 1002.76,594.12 1002.01,592.50 C1001.25,590.87 1001.30,589.34 1001.46,587.08Z" fill="url(#gf2)" />
<g clip-path="url(#clipgf3)">
<path d="M1001.46,587.08 C1001.63,584.82 1002.01,581.39 1002.98,578.95 C1003.96,576.51 1006.31,574.79 1007.32,572.44 C1008.33,570.10 1007.82,566.88 1009.05,564.86 C1010.28,562.83 1011.94,560.85 1014.69,560.30 C1017.43,559.76 1022.28,560.85 1025.53,561.60 C1028.78,562.36 1031.94,563.23 1034.20,564.86 C1036.46,566.48 1037.67,569.01 1039.08,571.36 C1040.49,573.71 1041.81,576.06 1042.66,578.95 C1043.50,581.84 1044.28,585.63 1044.17,588.70 C1044.07,591.78 1043.31,595.50 1042.01,597.38 C1040.70,599.26 1038.75,599.94 1036.37,599.98 C1033.98,600.01 1031.13,597.76 1027.70,597.59 C1024.26,597.43 1019.39,599.13 1015.77,599.00 C1012.16,598.88 1008.31,597.92 1006.02,596.83 C1003.72,595.75 1002.76,594.12 1002.01,592.50 C1001.25,590.87 1001.30,589.34 1001.46,587.08Z" fill="url(#gf4)" />
<path d="M1007.64,573.53 C1006.70,572.17 1007.88,566.57 1009.05,564.31 C1010.23,562.06 1011.94,560.52 1014.69,559.98 C1017.43,559.44 1022.01,560.34 1025.53,561.06 C1029.05,561.79 1033.39,562.60 1035.83,564.31 C1038.27,566.03 1040.34,570.04 1040.16,571.36 C1039.98,572.68 1036.55,571.29 1034.74,572.23 C1032.94,573.17 1031.40,576.46 1029.32,577.00 C1027.24,577.54 1024.72,576.24 1022.28,575.48 C1019.84,574.72 1017.13,572.77 1014.69,572.44 C1012.25,572.12 1008.58,574.88 1007.64,573.53Z" fill="url(#gf5)" filter="url(#blurT)"/>
</g>
<ellipse cx="1032.57" cy="567.24" rx="1.95" ry="1.30" fill="#fff" transform="rotate(0 1032.57 567.24)" opacity="0.9" filter="url(#blurS)"/>
<ellipse cx="1012.52" cy="565.07" rx="0.87" ry="1.52" fill="#fff" transform="rotate(0 1012.52 565.07)" opacity="0.7" filter="url(#blurS)"/>
<ellipse cx="1015.77" cy="580.25" rx="3.25" ry="0.87" fill="#fff" transform="rotate(0 1015.77 580.25)" opacity="0.5" filter="url(#blurS)"/>
<ellipse cx="1007.64" cy="576.78" rx="1.08" ry="1.08" fill="#fff" transform="rotate(0 1007.64 576.78)" opacity="0.5" filter="url(#blurS)"/>
<path d="M1037.45,598.46 C1037.99,597.11 1042.69,593.22 1043.96,593.04 C1045.22,592.86 1045.58,596.02 1045.04,597.38 C1044.50,598.73 1041.97,600.99 1040.70,601.17 C1039.44,601.35 1036.91,599.82 1037.45,598.46Z" fill="#f8e020" />
<text x="981.6" y="548.6" font-size="18.3" font-weight="bold">(f)</text>
<text x="1026.8" y="554.3" font-size="14.5" font-weight="bold">z</text>
<text x="988.9" y="594.1" font-size="14.5" font-weight="bold">x</text>
<text x="1050.5" y="602.3" font-size="14.5" font-weight="bold">y</text>
<rect x="1062.2" y="548" width="9.1" height="40.7" fill="url(#cbar)"/>
<text x="1066.6" y="544.5" font-size="11.8" text-anchor="middle" fill="#111">1.3</text>
<text x="1066.7" y="599.3" font-size="11.8" text-anchor="middle" fill="#111">0</text>
<path d="M1143.54,558.57 C1144.98,555.77 1147.87,558.21 1150.04,558.89 C1152.21,559.58 1154.83,561.15 1156.54,562.69 C1158.26,564.22 1159.62,566.30 1160.34,568.11 C1161.06,569.92 1161.30,571.36 1160.88,573.53 C1160.47,575.70 1159.65,579.13 1157.85,581.12 C1156.04,583.10 1152.61,584.82 1150.04,585.45 C1147.48,586.08 1143.90,586.54 1142.45,584.91 C1141.01,583.28 1141.19,580.09 1141.37,575.70 C1141.55,571.31 1142.09,561.37 1143.54,558.57Z" fill="url(#gg1)" />
<path d="M1115.35,575.70 C1115.71,573.62 1116.44,570.91 1118.06,568.65 C1119.69,566.39 1122.13,563.81 1125.11,562.15 C1128.09,560.48 1132.52,559.40 1135.95,558.68 C1139.38,557.95 1143.36,557.32 1145.70,557.81 C1148.05,558.30 1148.96,559.89 1150.04,561.60 C1151.12,563.32 1152.39,566.12 1152.21,568.11 C1152.03,570.10 1150.40,571.72 1148.96,573.53 C1147.51,575.34 1144.80,576.78 1143.54,578.95 C1142.27,581.12 1142.45,584.46 1141.37,586.54 C1140.28,588.61 1139.20,590.69 1137.03,591.41 C1134.86,592.14 1131.25,591.69 1128.36,590.87 C1125.47,590.06 1121.77,588.16 1119.69,586.54 C1117.61,584.91 1116.62,582.92 1115.89,581.12 C1115.17,579.31 1114.99,577.77 1115.35,575.70Z" fill="url(#gg2)" />
<g clip-path="url(#clipgg3)">
<path d="M1118.06,569.73 C1117.45,568.25 1121.69,563.57 1124.67,561.60 C1127.66,559.64 1132.35,558.64 1135.95,557.92 C1139.54,557.20 1144.53,556.29 1146.25,557.27 C1147.96,558.24 1147.33,561.88 1146.25,563.77 C1145.16,565.67 1142.72,567.53 1139.74,568.65 C1136.76,569.77 1131.97,570.31 1128.36,570.49 C1124.75,570.67 1118.68,571.22 1118.06,569.73Z" fill="url(#gg4)" filter="url(#blurT)"/>
</g>
<path d="M1141.37,568.11 C1141.46,565.85 1144.62,558.71 1146.25,557.81 C1147.87,556.91 1150.04,560.79 1151.12,562.69 C1152.21,564.59 1153.65,567.75 1152.75,569.19 C1151.85,570.64 1147.60,571.54 1145.70,571.36 C1143.81,571.18 1141.28,570.37 1141.37,568.11Z" fill="url(#gg5)" />
<ellipse cx="1146.25" cy="564.31" rx="0.87" ry="2.38" fill="#fff" transform="rotate(25 1146.25 564.31)" opacity="0.85" filter="url(#blurS)"/>
<ellipse cx="1128.36" cy="575.15" rx="3.47" ry="1.08" fill="#fff" transform="rotate(-15 1128.36 575.15)" opacity="0.8" filter="url(#blurS)"/>
<ellipse cx="1156.00" cy="567.57" rx="1.08" ry="2.38" fill="#fff" transform="rotate(0 1156.00 567.57)" opacity="0.7" filter="url(#blurS)"/>
<text x="1092.6" y="547.8" font-size="18.3" font-weight="bold">(g)</text>
<text x="1139.2" y="548.6" font-size="14.5" font-weight="bold">z</text>
<text x="1106.7" y="592.5" font-size="14.5" font-weight="bold">x</text>
<text x="1153.5" y="595.8" font-size="14.5" font-weight="bold">y</text>
<rect x="1175" y="546.4" width="9.2" height="40.7" fill="url(#cbar)"/>
<text x="1179.8" y="544.3" font-size="11.8" text-anchor="middle" fill="#111">1.8</text>
<text x="1181.5" y="597.4" font-size="11.8" text-anchor="middle" fill="#111">0</text>
<path d="M888.31,644.86 C888.40,642.42 888.94,638.98 890.47,636.73 C892.01,634.47 895.08,632.34 897.52,631.31 C899.96,630.28 902.58,630.10 905.11,630.55 C907.64,631.00 910.53,632.35 912.70,634.02 C914.86,635.68 917.03,638.53 918.12,640.52 C919.20,642.51 919.56,643.77 919.20,645.94 C918.84,648.11 917.39,651.45 915.95,653.53 C914.50,655.61 912.70,657.36 910.53,658.41 C908.36,659.45 905.47,660.09 902.94,659.82 C900.41,659.54 897.52,658.19 895.35,656.78 C893.18,655.37 891.11,653.35 889.93,651.36 C888.76,649.37 888.22,647.30 888.31,644.86Z" fill="url(#gh1)" />
<g clip-path="url(#clipgh2)">
<ellipse cx="901.86" cy="656.78" rx="13.01" ry="5.42" fill="#30b070" transform="rotate(10 901.86 656.78)" opacity="0.55" filter="url(#blurM)"/>
<ellipse cx="897.52" cy="632.39" rx="8.67" ry="3.25" fill="#f04010" transform="rotate(-25 897.52 632.39)" opacity="0.6" filter="url(#blurM)"/>
</g>
<path d="M913.78,651.36 C913.78,648.92 914.50,645.76 915.95,643.77 C917.39,641.79 920.10,640.29 922.45,639.44 C924.80,638.59 927.33,638.32 930.04,638.68 C932.75,639.04 936.27,640.03 938.71,641.60 C941.15,643.18 943.45,645.94 944.67,648.11 C945.90,650.28 946.36,652.26 946.08,654.61 C945.81,656.96 944.64,660.12 943.05,662.20 C941.46,664.28 938.89,666.14 936.54,667.08 C934.20,668.02 931.49,668.29 928.96,667.84 C926.43,667.39 923.54,665.94 921.37,664.37 C919.20,662.80 917.21,660.57 915.95,658.41 C914.68,656.24 913.78,653.80 913.78,651.36Z" fill="url(#gh3)" />
<g clip-path="url(#clipgh4)">
<ellipse cx="934.38" cy="666.54" rx="14.09" ry="6.50" fill="#400000" transform="rotate(-15 934.38 666.54)" opacity="0.6" filter="url(#blurM)"/>
</g>
<ellipse cx="901.31" cy="641.06" rx="2.82" ry="1.95" fill="#fff" transform="rotate(30 901.31 641.06)" opacity="0.9" filter="url(#blurS)"/>
<ellipse cx="911.61" cy="636.40" rx="0.87" ry="2.60" fill="#fff" transform="rotate(-40 911.61 636.40)" opacity="0.6" filter="url(#blurS)"/>
<ellipse cx="927.01" cy="649.19" rx="2.17" ry="1.52" fill="#fff" transform="rotate(0 927.01 649.19)" opacity="0.9" filter="url(#blurS)"/>
<ellipse cx="936.76" cy="642.91" rx="2.38" ry="0.87" fill="#fff" transform="rotate(30 936.76 642.91)" opacity="0.6" filter="url(#blurS)"/>
<text x="871" y="626.4" font-size="18.3" font-weight="bold">(h)</text>
<text x="922.5" y="627.3" font-size="14.5" font-weight="bold">z</text>
<text x="885" y="666.5" font-size="14.5" font-weight="bold">x</text>
<text x="940" y="674.8" font-size="14.5" font-weight="bold">y</text>
<rect x="953.9" y="627.8" width="9.2" height="40.2" fill="url(#cbar)"/>
<text x="959.3" y="624.8" font-size="11.8" text-anchor="middle" fill="#111">2.0</text>
<text x="958" y="678.2" font-size="11.8" text-anchor="middle" fill="#111">0</text>
<path d="M997.22,641.60 C997.04,639.17 998.22,637.20 999.93,635.64 C1001.65,634.09 1004.45,632.55 1007.52,632.28 C1010.59,632.01 1014.39,632.82 1018.36,634.02 C1022.34,635.21 1027.57,637.72 1031.37,639.44 C1035.16,641.15 1038.23,642.69 1041.12,644.31 C1044.02,645.94 1046.91,647.30 1048.71,649.19 C1050.52,651.09 1051.78,653.53 1051.96,655.70 C1052.15,657.86 1051.06,660.48 1049.80,662.20 C1048.53,663.92 1046.73,665.45 1044.38,665.99 C1042.03,666.54 1039.14,666.27 1035.70,665.45 C1032.27,664.64 1027.94,662.56 1023.78,661.12 C1019.63,659.67 1014.57,658.59 1010.77,656.78 C1006.98,654.97 1003.27,652.81 1001.02,650.28 C998.76,647.75 997.40,644.04 997.22,641.60Z" fill="url(#gi1)" />
<g clip-path="url(#clipgi2)">
<path d="M997.22,641.60 C997.04,639.17 998.22,637.20 999.93,635.64 C1001.65,634.09 1004.45,632.55 1007.52,632.28 C1010.59,632.01 1014.39,632.82 1018.36,634.02 C1022.34,635.21 1027.57,637.72 1031.37,639.44 C1035.16,641.15 1038.23,642.69 1041.12,644.31 C1044.02,645.94 1046.91,647.30 1048.71,649.19 C1050.52,651.09 1051.78,653.53 1051.96,655.70 C1052.15,657.86 1051.06,660.48 1049.80,662.20 C1048.53,663.92 1046.73,665.45 1044.38,665.99 C1042.03,666.54 1039.14,666.27 1035.70,665.45 C1032.27,664.64 1027.94,662.56 1023.78,661.12 C1019.63,659.67 1014.57,658.59 1010.77,656.78 C1006.98,654.97 1003.27,652.81 1001.02,650.28 C998.76,647.75 997.40,644.04 997.22,641.60Z" fill="url(#gi3)" />
<ellipse cx="1023.78" cy="642.47" rx="20.05" ry="7.59" fill="url(#gi4)" transform="rotate(14 1023.78 642.47)" />
</g>
<path d="M1035.16,636.40 C1034.98,635.35 1036.79,635.44 1037.87,636.40 C1038.96,637.36 1041.49,641.10 1041.67,642.15 C1041.85,643.19 1040.04,643.65 1038.96,642.69 C1037.87,641.73 1035.34,637.45 1035.16,636.40Z" fill="#f8e020" />
<ellipse cx="1020.53" cy="654.61" rx="8.13" ry="1.30" fill="#fff" transform="rotate(5 1020.53 654.61)" opacity="0.9" filter="url(#blurS)"/>
<ellipse cx="1043.29" cy="648.65" rx="2.38" ry="1.08" fill="#fff" transform="rotate(30 1043.29 648.65)" opacity="0.8" filter="url(#blurS)"/>
<ellipse cx="1015.11" cy="638.89" rx="1.95" ry="1.08" fill="#fff" transform="rotate(20 1015.11 638.89)" opacity="0.6" filter="url(#blurS)"/>
<text x="982" y="630.2" font-size="18.3" font-weight="bold">(i)</text>
<text x="1030.3" y="626.4" font-size="14.5" font-weight="bold">z</text>
<text x="995.6" y="672" font-size="14.5" font-weight="bold">x</text>
<text x="1046.5" y="679.2" font-size="14.5" font-weight="bold">y</text>
<rect x="1062" y="629.7" width="9.3" height="40.3" fill="url(#cbar)"/>
<text x="1067.5" y="626.4" font-size="11.8" text-anchor="middle" fill="#111">2.0</text>
<text x="1066.4" y="680.4" font-size="11.8" text-anchor="middle" fill="#111">0</text>
<path d="M1112.10,651.36 C1112.28,647.75 1113.18,643.86 1114.81,640.52 C1116.44,637.18 1118.88,633.65 1121.86,631.31 C1124.84,628.96 1129.08,626.97 1132.70,626.43 C1136.31,625.89 1140.65,627.33 1143.54,628.05 C1146.43,628.78 1148.05,630.76 1150.04,630.76 C1152.03,630.76 1153.65,627.96 1155.46,628.05 C1157.27,628.14 1159.35,629.23 1160.88,631.31 C1162.42,633.38 1163.86,637.18 1164.67,640.52 C1165.49,643.86 1166.03,648.29 1165.76,651.36 C1165.49,654.43 1164.04,656.42 1163.05,658.95 C1162.06,661.48 1161.60,664.01 1159.80,666.54 C1157.99,669.07 1155.10,672.41 1152.21,674.12 C1149.32,675.84 1145.89,676.83 1142.45,676.83 C1139.02,676.83 1135.23,675.30 1131.61,674.12 C1128.00,672.95 1123.75,671.78 1120.77,669.79 C1117.79,667.80 1115.17,665.27 1113.73,662.20 C1112.28,659.13 1111.92,654.97 1112.10,651.36Z" fill="url(#gj1)" />
<g clip-path="url(#clipgj2)">
<path d="M1111.99,649.73 C1111.63,647.26 1116.78,637.94 1120.12,634.56 C1123.46,631.18 1128.25,630.04 1132.05,629.46 C1135.84,628.89 1140.00,630.33 1142.89,631.09 C1145.78,631.85 1147.40,633.96 1149.39,634.02 C1151.38,634.07 1152.82,631.27 1154.81,631.41 C1156.80,631.56 1159.60,632.64 1161.31,634.88 C1163.03,637.12 1164.30,641.57 1165.11,644.86 C1165.92,648.14 1166.73,652.59 1166.19,654.61 C1165.65,656.64 1163.93,657.50 1161.86,657.00 C1159.78,656.49 1156.53,651.76 1153.73,651.58 C1150.93,651.40 1148.67,655.37 1145.05,655.91 C1141.44,656.46 1135.84,655.91 1132.05,654.83 C1128.25,653.75 1125.63,650.26 1122.29,649.41 C1118.95,648.56 1112.35,652.21 1111.99,649.73Z" fill="#f86010" opacity="0.9" filter="url(#blurM)"/>
<path d="M1112.32,647.57 C1111.96,645.09 1117.10,635.77 1120.45,632.39 C1123.79,629.01 1128.58,627.87 1132.37,627.30 C1136.17,626.72 1140.32,628.16 1143.21,628.92 C1146.10,629.68 1147.73,631.79 1149.72,631.85 C1151.70,631.90 1153.15,629.10 1155.14,629.25 C1157.12,629.39 1159.92,630.48 1161.64,632.72 C1163.36,634.96 1164.62,639.40 1165.43,642.69 C1166.25,645.98 1167.06,650.42 1166.52,652.44 C1165.98,654.47 1164.26,655.34 1162.18,654.83 C1160.10,654.32 1156.85,649.59 1154.05,649.41 C1151.25,649.23 1148.99,653.20 1145.38,653.75 C1141.77,654.29 1136.17,653.75 1132.37,652.66 C1128.58,651.58 1125.96,648.09 1122.62,647.24 C1119.27,646.39 1112.68,650.04 1112.32,647.57Z" fill="#f8b018" opacity="0.9" filter="url(#blurM)"/>
<path d="M1112.64,645.40 C1112.28,642.92 1117.43,633.60 1120.77,630.22 C1124.11,626.84 1128.90,625.71 1132.70,625.13 C1136.49,624.55 1140.65,625.99 1143.54,626.75 C1146.43,627.51 1148.05,629.63 1150.04,629.68 C1152.03,629.73 1153.47,626.93 1155.46,627.08 C1157.45,627.22 1160.25,628.31 1161.96,630.55 C1163.68,632.79 1164.95,637.23 1165.76,640.52 C1166.57,643.81 1167.38,648.25 1166.84,650.28 C1166.30,652.30 1164.58,653.17 1162.51,652.66 C1160.43,652.16 1157.18,647.42 1154.38,647.24 C1151.58,647.06 1149.32,651.04 1145.70,651.58 C1142.09,652.12 1136.49,651.58 1132.70,650.49 C1128.90,649.41 1126.28,645.92 1122.94,645.07 C1119.60,644.22 1113.00,647.87 1112.64,645.40Z" fill="url(#gj3)" filter="url(#blurM)"/>
<path d="M1142.45,643.77 C1142.09,642.24 1147.87,633.87 1150.04,631.31 C1152.21,628.74 1153.65,628.33 1155.46,628.38 C1157.27,628.43 1159.44,629.61 1160.88,631.63 C1162.33,633.65 1164.13,638.50 1164.13,640.52 C1164.13,642.54 1162.87,643.77 1160.88,643.77 C1158.89,643.77 1155.28,640.52 1152.21,640.52 C1149.14,640.52 1142.81,645.31 1142.45,643.77Z" fill="url(#gj4)" opacity="0.9" filter="url(#blurT)"/>
<path d="M1160.88,643.77 C1161.69,641.97 1163.81,639.26 1164.67,640.52 C1165.54,641.79 1166.21,648.56 1166.08,651.36 C1165.96,654.16 1164.96,657.32 1163.92,657.32 C1162.87,657.32 1160.30,653.62 1159.80,651.36 C1159.29,649.10 1160.07,645.58 1160.88,643.77Z" fill="#f0c818" opacity="0.85" filter="url(#blurT)"/>
</g>
<ellipse cx="1124.02" cy="655.70" rx="3.25" ry="1.52" fill="#fff" transform="rotate(10 1124.02 655.70)" opacity="0.9" filter="url(#blurS)"/>
<ellipse cx="1131.61" cy="637.27" rx="1.73" ry="1.08" fill="#fff" transform="rotate(30 1131.61 637.27)" opacity="0.8" filter="url(#blurS)"/>
<ellipse cx="1155.46" cy="642.69" rx="1.30" ry="1.73" fill="#fff" transform="rotate(0 1155.46 642.69)" opacity="0.8" filter="url(#blurS)"/>
<ellipse cx="1154.38" cy="648.65" rx="1.52" ry="0.87" fill="#fff" transform="rotate(30 1154.38 648.65)" opacity="0.6" filter="url(#blurS)"/>
<text x="1094.8" y="628" font-size="18.3" font-weight="bold">(j)</text>
<text x="1142.2" y="624.3" font-size="14.5" font-weight="bold">z</text>
<text x="1107.2" y="669.6" font-size="14.5" font-weight="bold">x</text>
<text x="1158.2" y="676.5" font-size="14.5" font-weight="bold">y</text>
<rect x="1175" y="630" width="9.2" height="40.3" fill="url(#cbar)"/>
<text x="1179.5" y="626.4" font-size="11.8" text-anchor="middle" fill="#111">1.1</text>
<text x="1179.3" y="680.8" font-size="11.8" text-anchor="middle" fill="#111">0</text>
<text x="992" y="719.4" font-size="22.5" font-weight="bold" text-anchor="middle">Magnetic anisotropy property</text>
</svg>
</body></html>
